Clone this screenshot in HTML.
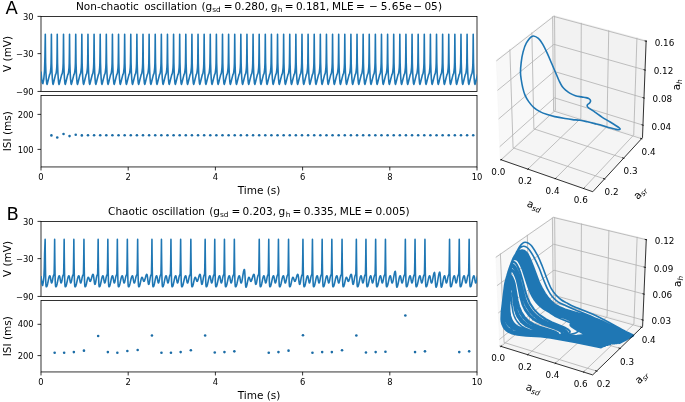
<!DOCTYPE html>
<html><head><meta charset="utf-8"><title>Figure</title>
<style>html,body{margin:0;padding:0;background:#fff}svg{display:block}</style></head>
<body>
<svg width="685" height="402" viewBox="0 0 685 402">
<rect width="685" height="402" fill="#fff"/>
<rect x="41" y="16.4" width="436" height="75.05" fill="none" stroke="#000" stroke-width="0.8"/>
<path d="M41 16.4 h-3.5" stroke="#000" stroke-width="0.8"/>
<text x="33.7" y="19.5" font-size="8.4" text-anchor="end" font-family="DejaVu Sans, Liberation Sans, sans-serif">30</text>
<path d="M41 53.63 h-3.5" stroke="#000" stroke-width="0.8"/>
<text x="33.7" y="56.73" font-size="8.4" text-anchor="end" font-family="DejaVu Sans, Liberation Sans, sans-serif">−30</text>
<path d="M41 91.45 h-3.5" stroke="#000" stroke-width="0.8"/>
<text x="33.7" y="94.55" font-size="8.4" text-anchor="end" font-family="DejaVu Sans, Liberation Sans, sans-serif">−90</text>
<text transform="translate(10.9 53.92) rotate(-90)" font-size="10.5" text-anchor="middle" font-family="DejaVu Sans, Liberation Sans, sans-serif">V (mV)</text>
<rect x="41" y="95.5" width="436" height="71.45" fill="none" stroke="#000" stroke-width="0.8"/>
<path d="M41 114.4 h-3.5" stroke="#000" stroke-width="0.8"/>
<text x="33.7" y="117.5" font-size="8.4" text-anchor="end" font-family="DejaVu Sans, Liberation Sans, sans-serif">200</text>
<path d="M41 149.4 h-3.5" stroke="#000" stroke-width="0.8"/>
<text x="33.7" y="152.5" font-size="8.4" text-anchor="end" font-family="DejaVu Sans, Liberation Sans, sans-serif">100</text>
<path d="M41 166.95 v3.5" stroke="#000" stroke-width="0.8"/>
<text x="41" y="180.15" font-size="8.4" text-anchor="middle" font-family="DejaVu Sans, Liberation Sans, sans-serif">0</text>
<path d="M128.2 166.95 v3.5" stroke="#000" stroke-width="0.8"/>
<text x="128.2" y="180.15" font-size="8.4" text-anchor="middle" font-family="DejaVu Sans, Liberation Sans, sans-serif">2</text>
<path d="M215.4 166.95 v3.5" stroke="#000" stroke-width="0.8"/>
<text x="215.4" y="180.15" font-size="8.4" text-anchor="middle" font-family="DejaVu Sans, Liberation Sans, sans-serif">4</text>
<path d="M302.6 166.95 v3.5" stroke="#000" stroke-width="0.8"/>
<text x="302.6" y="180.15" font-size="8.4" text-anchor="middle" font-family="DejaVu Sans, Liberation Sans, sans-serif">6</text>
<path d="M389.8 166.95 v3.5" stroke="#000" stroke-width="0.8"/>
<text x="389.8" y="180.15" font-size="8.4" text-anchor="middle" font-family="DejaVu Sans, Liberation Sans, sans-serif">8</text>
<path d="M477 166.95 v3.5" stroke="#000" stroke-width="0.8"/>
<text x="477" y="180.15" font-size="8.4" text-anchor="middle" font-family="DejaVu Sans, Liberation Sans, sans-serif">10</text>
<text transform="translate(10.9 131.22) rotate(-90)" font-size="10.5" text-anchor="middle" font-family="DejaVu Sans, Liberation Sans, sans-serif">ISI (ms)</text>
<text x="259" y="193.95" font-size="10.5" text-anchor="middle" font-family="DejaVu Sans, Liberation Sans, sans-serif">Time (s)</text>
<rect x="41" y="221.4" width="436" height="75.05" fill="none" stroke="#000" stroke-width="0.8"/>
<path d="M41 221.4 h-3.5" stroke="#000" stroke-width="0.8"/>
<text x="33.7" y="224.5" font-size="8.4" text-anchor="end" font-family="DejaVu Sans, Liberation Sans, sans-serif">30</text>
<path d="M41 258.62 h-3.5" stroke="#000" stroke-width="0.8"/>
<text x="33.7" y="261.73" font-size="8.4" text-anchor="end" font-family="DejaVu Sans, Liberation Sans, sans-serif">−30</text>
<path d="M41 296.45 h-3.5" stroke="#000" stroke-width="0.8"/>
<text x="33.7" y="299.55" font-size="8.4" text-anchor="end" font-family="DejaVu Sans, Liberation Sans, sans-serif">−90</text>
<text transform="translate(10.9 258.93) rotate(-90)" font-size="10.5" text-anchor="middle" font-family="DejaVu Sans, Liberation Sans, sans-serif">V (mV)</text>
<rect x="41" y="300.5" width="436" height="71.45" fill="none" stroke="#000" stroke-width="0.8"/>
<path d="M41 324.3 h-3.5" stroke="#000" stroke-width="0.8"/>
<text x="33.7" y="327.4" font-size="8.4" text-anchor="end" font-family="DejaVu Sans, Liberation Sans, sans-serif">400</text>
<path d="M41 355.6 h-3.5" stroke="#000" stroke-width="0.8"/>
<text x="33.7" y="358.7" font-size="8.4" text-anchor="end" font-family="DejaVu Sans, Liberation Sans, sans-serif">200</text>
<path d="M41 371.95 v3.5" stroke="#000" stroke-width="0.8"/>
<text x="41" y="385.15" font-size="8.4" text-anchor="middle" font-family="DejaVu Sans, Liberation Sans, sans-serif">0</text>
<path d="M128.2 371.95 v3.5" stroke="#000" stroke-width="0.8"/>
<text x="128.2" y="385.15" font-size="8.4" text-anchor="middle" font-family="DejaVu Sans, Liberation Sans, sans-serif">2</text>
<path d="M215.4 371.95 v3.5" stroke="#000" stroke-width="0.8"/>
<text x="215.4" y="385.15" font-size="8.4" text-anchor="middle" font-family="DejaVu Sans, Liberation Sans, sans-serif">4</text>
<path d="M302.6 371.95 v3.5" stroke="#000" stroke-width="0.8"/>
<text x="302.6" y="385.15" font-size="8.4" text-anchor="middle" font-family="DejaVu Sans, Liberation Sans, sans-serif">6</text>
<path d="M389.8 371.95 v3.5" stroke="#000" stroke-width="0.8"/>
<text x="389.8" y="385.15" font-size="8.4" text-anchor="middle" font-family="DejaVu Sans, Liberation Sans, sans-serif">8</text>
<path d="M477 371.95 v3.5" stroke="#000" stroke-width="0.8"/>
<text x="477" y="385.15" font-size="8.4" text-anchor="middle" font-family="DejaVu Sans, Liberation Sans, sans-serif">10</text>
<text transform="translate(10.9 336.23) rotate(-90)" font-size="10.5" text-anchor="middle" font-family="DejaVu Sans, Liberation Sans, sans-serif">ISI (ms)</text>
<text x="259" y="398.95" font-size="10.5" text-anchor="middle" font-family="DejaVu Sans, Liberation Sans, sans-serif">Time (s)</text>
<text x="5.6" y="14.4" font-size="18" font-family="DejaVu Sans, Liberation Sans, sans-serif">A</text>
<text x="6.4" y="219.8" font-size="18" font-family="DejaVu Sans, Liberation Sans, sans-serif">B</text>
<text font-size="10.5" font-family="DejaVu Sans, Liberation Sans, sans-serif"><tspan x="76" y="10.3" font-size="10.5">Non-chaotic</tspan><tspan x="144.2" y="10.3" font-size="10.5">oscillation</tspan><tspan x="201.4" y="10.3" font-size="10.5">(</tspan><tspan x="205.57" y="10.3" font-size="10.5">g</tspan><tspan x="212.2" y="11.75" font-size="7.35">sd</tspan><tspan x="223.69" y="10.3" font-size="10.5">=</tspan><tspan x="234.61" y="10.3" font-size="10.5">0.280,</tspan><tspan x="270.82" y="10.3" font-size="10.5">g</tspan><tspan x="277.85" y="11.75" font-size="7.35">h</tspan><tspan x="284.69" y="10.3" font-size="10.5">=</tspan><tspan x="295.91" y="10.3" font-size="10.5">0.181,</tspan><tspan x="332.07" y="10.3" font-size="10.5">MLE</tspan><tspan x="355.89" y="10.3" font-size="10.5">=</tspan><tspan x="369" y="10.3" font-size="10.5">−</tspan><tspan x="380.8" y="10.3" font-size="10.5">5</tspan><tspan x="387.7" y="10.3" font-size="10.5">.</tspan><tspan x="391.7" y="10.3" font-size="10.5">6</tspan><tspan x="398.7" y="10.3" font-size="10.5">5</tspan><tspan x="405.15" y="10.3" font-size="10.5">e</tspan><tspan x="413.2" y="10.3" font-size="10.5">−</tspan><tspan x="424.4" y="10.3" font-size="10.5">0</tspan><tspan x="430.9" y="10.3" font-size="10.5">5</tspan><tspan x="438.1" y="10.3" font-size="10.5">)</tspan></text>
<text font-size="10.5" font-family="DejaVu Sans, Liberation Sans, sans-serif"><tspan x="108.1" y="215.15" font-size="10.5">Chaotic</tspan><tspan x="152" y="215.15" font-size="10.5">oscillation</tspan><tspan x="209.2" y="215.15" font-size="10.5">(</tspan><tspan x="213.37" y="215.15" font-size="10.5">g</tspan><tspan x="220" y="216.6" font-size="7.35">sd</tspan><tspan x="231.49" y="215.15" font-size="10.5">=</tspan><tspan x="242.61" y="215.15" font-size="10.5">0.203,</tspan><tspan x="278.62" y="215.15" font-size="10.5">g</tspan><tspan x="285.65" y="216.6" font-size="7.35">h</tspan><tspan x="292.49" y="215.15" font-size="10.5">=</tspan><tspan x="303.71" y="215.15" font-size="10.5">0.335,</tspan><tspan x="339.87" y="215.15" font-size="10.5">MLE</tspan><tspan x="363.99" y="215.15" font-size="10.5">=</tspan><tspan x="375.51" y="215.15" font-size="10.5">0.005)</tspan></text>
<clipPath id="cA1"><rect x="41" y="16.4" width="436" height="75.05"/></clipPath>
<clipPath id="cA2"><rect x="41" y="95.5" width="436" height="71.45"/></clipPath>
<clipPath id="cB1"><rect x="41" y="221.4" width="436" height="75.05"/></clipPath>
<clipPath id="cB2"><rect x="41" y="300.5" width="436" height="71.45"/></clipPath>
<path clip-path="url(#cA1)" d="M41 71.5 L41.6 78 L42.2 82.5 L42.9 83.7 L43.8 79 L44.5 71 L44.95 56 L45.3 34.3 L45.45 50 L45.6 63 L45.9 72 L46.3 79 L46.7 83.2 L47.05 84.4 L47.44 83.2 L48.29 79.8 L49.09 76.6 L49.69 74.3 L49.99 74.2 L50.29 72.8 L50.59 70.5 L50.89 67.5 L51.09 63 L51.25 52 L51.4 34.3 L51.55 50 L51.69 63 L51.98 72 L52.36 79 L52.74 83.2 L53.07 84.4 L53.46 83.2 L54.27 79.8 L55.03 76.6 L55.61 74.3 L55.89 74.2 L56.18 72.8 L56.47 70.5 L56.75 67.5 L56.94 63 L57.1 52 L57.25 34.3 L57.4 50 L57.55 63 L57.86 72 L58.27 79 L58.68 83.2 L59.04 84.4 L59.45 83.2 L60.32 79.8 L61.15 76.6 L61.76 74.3 L62.07 74.2 L62.38 72.8 L62.69 70.5 L62.99 67.5 L63.2 63 L63.36 52 L63.52 34.3 L63.67 50 L63.82 63 L64.11 72 L64.51 79 L64.9 83.2 L65.25 84.4 L65.64 83.2 L66.47 79.8 L67.26 76.6 L67.85 74.3 L68.15 74.2 L68.44 72.8 L68.74 70.5 L69.03 67.5 L69.23 63 L69.39 52 L69.54 34.3 L69.69 50 L69.84 63 L70.15 72 L70.55 79 L70.96 83.2 L71.31 84.4 L71.72 83.2 L72.58 79.8 L73.39 76.6 L73.99 74.3 L74.3 74.2 L74.6 72.8 L74.9 70.5 L75.21 67.5 L75.41 63 L75.57 52 L75.73 34.3 L75.88 50 L76.03 63 L76.33 72 L76.73 79 L77.13 83.2 L77.48 84.4 L77.88 83.2 L78.73 79.8 L79.52 76.6 L80.12 74.3 L80.42 74.2 L80.72 72.8 L81.02 70.5 L81.32 67.5 L81.52 63 L81.68 52 L81.84 34.3 L81.99 50 L82.14 63 L82.44 72 L82.84 79 L83.24 83.2 L83.59 84.4 L83.99 83.2 L84.84 79.8 L85.64 76.6 L86.25 74.3 L86.55 74.2 L86.85 72.8 L87.15 70.5 L87.45 67.5 L87.65 63 L87.81 52 L87.97 34.3 L88.12 50 L88.27 63 L88.57 72 L88.97 79 L89.37 83.2 L89.72 84.4 L90.12 83.2 L90.97 79.8 L91.77 76.6 L92.37 74.3 L92.67 74.2 L92.97 72.8 L93.27 70.5 L93.57 67.5 L93.77 63 L93.93 52 L94.08 34.3 L94.23 50 L94.38 63 L94.68 72 L95.08 79 L95.48 83.2 L95.83 84.4 L96.23 83.2 L97.08 79.8 L97.88 76.6 L98.48 74.3 L98.78 74.2 L99.08 72.8 L99.38 70.5 L99.68 67.5 L99.88 63 L100.04 52 L100.2 34.3 L100.35 50 L100.5 63 L100.8 72 L101.2 79 L101.6 83.2 L101.95 84.4 L102.35 83.2 L103.2 79.8 L104 76.6 L104.6 74.3 L104.9 74.2 L105.2 72.8 L105.5 70.5 L105.8 67.5 L106 63 L106.16 52 L106.31 34.3 L106.46 50 L106.61 63 L106.91 72 L107.31 79 L107.71 83.2 L108.06 84.4 L108.46 83.2 L109.31 79.8 L110.11 76.6 L110.71 74.3 L111.01 74.2 L111.31 72.8 L111.61 70.5 L111.91 67.5 L112.11 63 L112.27 52 L112.43 34.3 L112.58 50 L112.73 63 L113.03 72 L113.43 79 L113.83 83.2 L114.18 84.4 L114.58 83.2 L115.43 79.8 L116.23 76.6 L116.83 74.3 L117.13 74.2 L117.43 72.8 L117.73 70.5 L118.03 67.5 L118.23 63 L118.39 52 L118.54 34.3 L118.69 50 L118.84 63 L119.14 72 L119.54 79 L119.94 83.2 L120.29 84.4 L120.69 83.2 L121.54 79.8 L122.34 76.6 L122.94 74.3 L123.24 74.2 L123.54 72.8 L123.84 70.5 L124.14 67.5 L124.34 63 L124.5 52 L124.66 34.3 L124.81 50 L124.96 63 L125.26 72 L125.66 79 L126.06 83.2 L126.41 84.4 L126.81 83.2 L127.66 79.8 L128.46 76.6 L129.06 74.3 L129.36 74.2 L129.66 72.8 L129.96 70.5 L130.26 67.5 L130.46 63 L130.62 52 L130.77 34.3 L130.92 50 L131.07 63 L131.37 72 L131.77 79 L132.17 83.2 L132.52 84.4 L132.92 83.2 L133.77 79.8 L134.57 76.6 L135.17 74.3 L135.47 74.2 L135.77 72.8 L136.07 70.5 L136.37 67.5 L136.57 63 L136.73 52 L136.89 34.3 L137.04 50 L137.19 63 L137.49 72 L137.89 79 L138.29 83.2 L138.64 84.4 L139.04 83.2 L139.89 79.8 L140.69 76.6 L141.29 74.3 L141.59 74.2 L141.89 72.8 L142.19 70.5 L142.49 67.5 L142.69 63 L142.85 52 L143 34.3 L143.15 50 L143.3 63 L143.6 72 L144 79 L144.4 83.2 L144.75 84.4 L145.15 83.2 L146 79.8 L146.8 76.6 L147.4 74.3 L147.7 74.2 L148 72.8 L148.3 70.5 L148.6 67.5 L148.8 63 L148.96 52 L149.12 34.3 L149.27 50 L149.42 63 L149.72 72 L150.12 79 L150.52 83.2 L150.87 84.4 L151.27 83.2 L152.12 79.8 L152.92 76.6 L153.52 74.3 L153.82 74.2 L154.12 72.8 L154.42 70.5 L154.72 67.5 L154.92 63 L155.08 52 L155.23 34.3 L155.38 50 L155.53 63 L155.83 72 L156.23 79 L156.63 83.2 L156.98 84.4 L157.38 83.2 L158.23 79.8 L159.03 76.6 L159.63 74.3 L159.93 74.2 L160.23 72.8 L160.53 70.5 L160.83 67.5 L161.03 63 L161.19 52 L161.35 34.3 L161.5 50 L161.65 63 L161.95 72 L162.35 79 L162.75 83.2 L163.1 84.4 L163.5 83.2 L164.35 79.8 L165.15 76.6 L165.75 74.3 L166.05 74.2 L166.35 72.8 L166.65 70.5 L166.94 67.5 L167.14 63 L167.3 52 L167.46 34.3 L167.61 50 L167.76 63 L168.06 72 L168.46 79 L168.86 83.2 L169.21 84.4 L169.61 83.2 L170.46 79.8 L171.26 76.6 L171.86 74.3 L172.16 74.2 L172.46 72.8 L172.76 70.5 L173.06 67.5 L173.26 63 L173.42 52 L173.58 34.3 L173.73 50 L173.88 63 L174.18 72 L174.58 79 L174.98 83.2 L175.33 84.4 L175.73 83.2 L176.58 79.8 L177.38 76.6 L177.98 74.3 L178.28 74.2 L178.57 72.8 L178.87 70.5 L179.17 67.5 L179.37 63 L179.53 52 L179.69 34.3 L179.84 50 L179.99 63 L180.29 72 L180.69 79 L181.09 83.2 L181.44 84.4 L181.84 83.2 L182.69 79.8 L183.49 76.6 L184.09 74.3 L184.39 74.2 L184.69 72.8 L184.99 70.5 L185.29 67.5 L185.49 63 L185.65 52 L185.81 34.3 L185.96 50 L186.11 63 L186.41 72 L186.81 79 L187.21 83.2 L187.56 84.4 L187.96 83.2 L188.81 79.8 L189.61 76.6 L190.2 74.3 L190.5 74.2 L190.8 72.8 L191.1 70.5 L191.4 67.5 L191.6 63 L191.76 52 L191.92 34.3 L192.07 50 L192.22 63 L192.52 72 L192.92 79 L193.32 83.2 L193.67 84.4 L194.07 83.2 L194.92 79.8 L195.72 76.6 L196.32 74.3 L196.62 74.2 L196.92 72.8 L197.22 70.5 L197.52 67.5 L197.72 63 L197.88 52 L198.04 34.3 L198.19 50 L198.34 63 L198.64 72 L199.04 79 L199.44 83.2 L199.79 84.4 L200.19 83.2 L201.04 79.8 L201.83 76.6 L202.43 74.3 L202.73 74.2 L203.03 72.8 L203.33 70.5 L203.63 67.5 L203.83 63 L203.99 52 L204.15 34.3 L204.3 50 L204.45 63 L204.75 72 L205.15 79 L205.55 83.2 L205.9 84.4 L206.3 83.2 L207.15 79.8 L207.95 76.6 L208.55 74.3 L208.85 74.2 L209.15 72.8 L209.45 70.5 L209.75 67.5 L209.95 63 L210.11 52 L210.27 34.3 L210.42 50 L210.57 63 L210.87 72 L211.27 79 L211.67 83.2 L212.02 84.4 L212.42 83.2 L213.27 79.8 L214.06 76.6 L214.66 74.3 L214.96 74.2 L215.26 72.8 L215.56 70.5 L215.86 67.5 L216.06 63 L216.22 52 L216.38 34.3 L216.53 50 L216.68 63 L216.98 72 L217.38 79 L217.78 83.2 L218.13 84.4 L218.53 83.2 L219.38 79.8 L220.18 76.6 L220.78 74.3 L221.08 74.2 L221.38 72.8 L221.68 70.5 L221.98 67.5 L222.18 63 L222.34 52 L222.5 34.3 L222.65 50 L222.8 63 L223.1 72 L223.5 79 L223.9 83.2 L224.25 84.4 L224.65 83.2 L225.49 79.8 L226.29 76.6 L226.89 74.3 L227.19 74.2 L227.49 72.8 L227.79 70.5 L228.09 67.5 L228.29 63 L228.45 52 L228.61 34.3 L228.76 50 L228.91 63 L229.21 72 L229.61 79 L230.01 83.2 L230.36 84.4 L230.76 83.2 L231.61 79.8 L232.41 76.6 L233.01 74.3 L233.31 74.2 L233.61 72.8 L233.91 70.5 L234.21 67.5 L234.41 63 L234.57 52 L234.73 34.3 L234.88 50 L235.03 63 L235.33 72 L235.73 79 L236.13 83.2 L236.48 84.4 L236.87 83.2 L237.72 79.8 L238.52 76.6 L239.12 74.3 L239.42 74.2 L239.72 72.8 L240.02 70.5 L240.32 67.5 L240.52 63 L240.68 52 L240.84 34.3 L240.99 50 L241.14 63 L241.44 72 L241.84 79 L242.24 83.2 L242.59 84.4 L242.99 83.2 L243.84 79.8 L244.64 76.6 L245.24 74.3 L245.54 74.2 L245.84 72.8 L246.14 70.5 L246.44 67.5 L246.64 63 L246.8 52 L246.96 34.3 L247.11 50 L247.26 63 L247.56 72 L247.96 79 L248.36 83.2 L248.7 84.4 L249.1 83.2 L249.95 79.8 L250.75 76.6 L251.35 74.3 L251.65 74.2 L251.95 72.8 L252.25 70.5 L252.55 67.5 L252.75 63 L252.91 52 L253.07 34.3 L253.22 50 L253.37 63 L253.67 72 L254.07 79 L254.47 83.2 L254.82 84.4 L255.22 83.2 L256.07 79.8 L256.87 76.6 L257.47 74.3 L257.77 74.2 L258.07 72.8 L258.37 70.5 L258.67 67.5 L258.87 63 L259.03 52 L259.19 34.3 L259.34 50 L259.49 63 L259.79 72 L260.18 79 L260.58 83.2 L260.93 84.4 L261.33 83.2 L262.18 79.8 L262.98 76.6 L263.58 74.3 L263.88 74.2 L264.18 72.8 L264.48 70.5 L264.78 67.5 L264.98 63 L265.14 52 L265.3 34.3 L265.45 50 L265.6 63 L265.9 72 L266.3 79 L266.7 83.2 L267.05 84.4 L267.45 83.2 L268.3 79.8 L269.1 76.6 L269.7 74.3 L270 74.2 L270.3 72.8 L270.6 70.5 L270.9 67.5 L271.1 63 L271.26 52 L271.42 34.3 L271.57 50 L271.71 63 L272.01 72 L272.41 79 L272.81 83.2 L273.16 84.4 L273.56 83.2 L274.41 79.8 L275.21 76.6 L275.81 74.3 L276.11 74.2 L276.41 72.8 L276.71 70.5 L277.01 67.5 L277.21 63 L277.37 52 L277.53 34.3 L277.68 50 L277.83 63 L278.13 72 L278.53 79 L278.93 83.2 L279.28 84.4 L279.68 83.2 L280.53 79.8 L281.33 76.6 L281.93 74.3 L282.23 74.2 L282.53 72.8 L282.83 70.5 L283.13 67.5 L283.33 63 L283.49 52 L283.64 34.3 L283.79 50 L283.94 63 L284.24 72 L284.64 79 L285.04 83.2 L285.39 84.4 L285.79 83.2 L286.64 79.8 L287.44 76.6 L288.04 74.3 L288.34 74.2 L288.64 72.8 L288.94 70.5 L289.24 67.5 L289.44 63 L289.6 52 L289.76 34.3 L289.91 50 L290.06 63 L290.36 72 L290.76 79 L291.16 83.2 L291.51 84.4 L291.91 83.2 L292.76 79.8 L293.56 76.6 L294.16 74.3 L294.46 74.2 L294.76 72.8 L295.06 70.5 L295.36 67.5 L295.56 63 L295.72 52 L295.87 34.3 L296.02 50 L296.17 63 L296.47 72 L296.87 79 L297.27 83.2 L297.62 84.4 L298.02 83.2 L298.87 79.8 L299.67 76.6 L300.27 74.3 L300.57 74.2 L300.87 72.8 L301.17 70.5 L301.47 67.5 L301.67 63 L301.83 52 L301.99 34.3 L302.14 50 L302.29 63 L302.59 72 L302.99 79 L303.39 83.2 L303.74 84.4 L304.14 83.2 L304.99 79.8 L305.79 76.6 L306.39 74.3 L306.69 74.2 L306.99 72.8 L307.29 70.5 L307.59 67.5 L307.79 63 L307.95 52 L308.1 34.3 L308.25 50 L308.4 63 L308.7 72 L309.1 79 L309.5 83.2 L309.85 84.4 L310.25 83.2 L311.1 79.8 L311.9 76.6 L312.5 74.3 L312.8 74.2 L313.1 72.8 L313.4 70.5 L313.7 67.5 L313.9 63 L314.06 52 L314.22 34.3 L314.37 50 L314.52 63 L314.82 72 L315.22 79 L315.62 83.2 L315.97 84.4 L316.37 83.2 L317.22 79.8 L318.02 76.6 L318.62 74.3 L318.92 74.2 L319.22 72.8 L319.52 70.5 L319.82 67.5 L320.02 63 L320.18 52 L320.33 34.3 L320.48 50 L320.63 63 L320.93 72 L321.33 79 L321.73 83.2 L322.08 84.4 L322.48 83.2 L323.33 79.8 L324.13 76.6 L324.73 74.3 L325.03 74.2 L325.33 72.8 L325.63 70.5 L325.93 67.5 L326.13 63 L326.29 52 L326.45 34.3 L326.6 50 L326.75 63 L327.05 72 L327.45 79 L327.85 83.2 L328.2 84.4 L328.6 83.2 L329.45 79.8 L330.25 76.6 L330.85 74.3 L331.15 74.2 L331.45 72.8 L331.75 70.5 L332.05 67.5 L332.25 63 L332.41 52 L332.56 34.3 L332.71 50 L332.86 63 L333.16 72 L333.56 79 L333.96 83.2 L334.31 84.4 L334.71 83.2 L335.56 79.8 L336.36 76.6 L336.96 74.3 L337.26 74.2 L337.56 72.8 L337.86 70.5 L338.16 67.5 L338.36 63 L338.52 52 L338.68 34.3 L338.83 50 L338.98 63 L339.28 72 L339.68 79 L340.08 83.2 L340.43 84.4 L340.83 83.2 L341.68 79.8 L342.48 76.6 L343.08 74.3 L343.38 74.2 L343.68 72.8 L343.98 70.5 L344.28 67.5 L344.48 63 L344.64 52 L344.79 34.3 L344.94 50 L345.09 63 L345.39 72 L345.79 79 L346.19 83.2 L346.54 84.4 L346.94 83.2 L347.79 79.8 L348.59 76.6 L349.19 74.3 L349.49 74.2 L349.79 72.8 L350.09 70.5 L350.39 67.5 L350.59 63 L350.75 52 L350.91 34.3 L351.06 50 L351.21 63 L351.51 72 L351.91 79 L352.31 83.2 L352.66 84.4 L353.06 83.2 L353.91 79.8 L354.71 76.6 L355.31 74.3 L355.61 74.2 L355.91 72.8 L356.21 70.5 L356.51 67.5 L356.71 63 L356.87 52 L357.02 34.3 L357.17 50 L357.32 63 L357.62 72 L358.02 79 L358.42 83.2 L358.77 84.4 L359.17 83.2 L360.02 79.8 L360.82 76.6 L361.42 74.3 L361.72 74.2 L362.02 72.8 L362.32 70.5 L362.62 67.5 L362.82 63 L362.98 52 L363.14 34.3 L363.29 50 L363.44 63 L363.74 72 L364.14 79 L364.54 83.2 L364.89 84.4 L365.29 83.2 L366.14 79.8 L366.94 76.6 L367.54 74.3 L367.84 74.2 L368.14 72.8 L368.44 70.5 L368.74 67.5 L368.94 63 L369.1 52 L369.25 34.3 L369.4 50 L369.55 63 L369.85 72 L370.25 79 L370.65 83.2 L371 84.4 L371.4 83.2 L372.25 79.8 L373.05 76.6 L373.65 74.3 L373.95 74.2 L374.25 72.8 L374.55 70.5 L374.85 67.5 L375.05 63 L375.21 52 L375.37 34.3 L375.52 50 L375.67 63 L375.97 72 L376.37 79 L376.77 83.2 L377.12 84.4 L377.52 83.2 L378.37 79.8 L379.17 76.6 L379.77 74.3 L380.07 74.2 L380.37 72.8 L380.67 70.5 L380.97 67.5 L381.17 63 L381.33 52 L381.48 34.3 L381.63 50 L381.78 63 L382.08 72 L382.48 79 L382.88 83.2 L383.23 84.4 L383.63 83.2 L384.48 79.8 L385.28 76.6 L385.88 74.3 L386.18 74.2 L386.48 72.8 L386.78 70.5 L387.08 67.5 L387.28 63 L387.44 52 L387.6 34.3 L387.75 50 L387.9 63 L388.2 72 L388.6 79 L389 83.2 L389.35 84.4 L389.75 83.2 L390.6 79.8 L391.4 76.6 L392 74.3 L392.3 74.2 L392.6 72.8 L392.9 70.5 L393.2 67.5 L393.4 63 L393.56 52 L393.71 34.3 L393.86 50 L394.01 63 L394.31 72 L394.71 79 L395.11 83.2 L395.46 84.4 L395.86 83.2 L396.71 79.8 L397.51 76.6 L398.11 74.3 L398.41 74.2 L398.71 72.8 L399.01 70.5 L399.31 67.5 L399.51 63 L399.67 52 L399.83 34.3 L399.98 50 L400.13 63 L400.43 72 L400.83 79 L401.23 83.2 L401.58 84.4 L401.98 83.2 L402.83 79.8 L403.63 76.6 L404.23 74.3 L404.53 74.2 L404.83 72.8 L405.13 70.5 L405.43 67.5 L405.63 63 L405.79 52 L405.94 34.3 L406.09 50 L406.24 63 L406.54 72 L406.94 79 L407.34 83.2 L407.69 84.4 L408.09 83.2 L408.94 79.8 L409.74 76.6 L410.34 74.3 L410.64 74.2 L410.94 72.8 L411.24 70.5 L411.54 67.5 L411.74 63 L411.9 52 L412.06 34.3 L412.21 50 L412.36 63 L412.66 72 L413.06 79 L413.46 83.2 L413.81 84.4 L414.21 83.2 L415.06 79.8 L415.86 76.6 L416.46 74.3 L416.76 74.2 L417.06 72.8 L417.36 70.5 L417.66 67.5 L417.86 63 L418.02 52 L418.17 34.3 L418.32 50 L418.47 63 L418.77 72 L419.17 79 L419.57 83.2 L419.92 84.4 L420.32 83.2 L421.17 79.8 L421.97 76.6 L422.57 74.3 L422.87 74.2 L423.17 72.8 L423.47 70.5 L423.77 67.5 L423.97 63 L424.13 52 L424.29 34.3 L424.44 50 L424.59 63 L424.89 72 L425.29 79 L425.69 83.2 L426.04 84.4 L426.44 83.2 L427.29 79.8 L428.09 76.6 L428.69 74.3 L428.99 74.2 L429.29 72.8 L429.59 70.5 L429.89 67.5 L430.09 63 L430.25 52 L430.4 34.3 L430.55 50 L430.7 63 L431 72 L431.4 79 L431.8 83.2 L432.15 84.4 L432.55 83.2 L433.4 79.8 L434.2 76.6 L434.8 74.3 L435.1 74.2 L435.4 72.8 L435.7 70.5 L436 67.5 L436.2 63 L436.36 52 L436.52 34.3 L436.67 50 L436.82 63 L437.12 72 L437.52 79 L437.92 83.2 L438.27 84.4 L438.67 83.2 L439.52 79.8 L440.32 76.6 L440.92 74.3 L441.22 74.2 L441.52 72.8 L441.82 70.5 L442.12 67.5 L442.32 63 L442.48 52 L442.63 34.3 L442.78 50 L442.93 63 L443.23 72 L443.63 79 L444.03 83.2 L444.38 84.4 L444.78 83.2 L445.63 79.8 L446.43 76.6 L447.03 74.3 L447.33 74.2 L447.63 72.8 L447.93 70.5 L448.23 67.5 L448.43 63 L448.59 52 L448.75 34.3 L448.9 50 L449.05 63 L449.35 72 L449.75 79 L450.15 83.2 L450.5 84.4 L450.9 83.2 L451.75 79.8 L452.55 76.6 L453.15 74.3 L453.45 74.2 L453.75 72.8 L454.05 70.5 L454.35 67.5 L454.55 63 L454.71 52 L454.86 34.3 L455.01 50 L455.16 63 L455.46 72 L455.86 79 L456.26 83.2 L456.61 84.4 L457.01 83.2 L457.86 79.8 L458.66 76.6 L459.26 74.3 L459.56 74.2 L459.86 72.8 L460.16 70.5 L460.46 67.5 L460.66 63 L460.82 52 L460.98 34.3 L461.13 50 L461.28 63 L461.58 72 L461.98 79 L462.38 83.2 L462.73 84.4 L463.13 83.2 L463.98 79.8 L464.78 76.6 L465.38 74.3 L465.68 74.2 L465.98 72.8 L466.28 70.5 L466.58 67.5 L466.78 63 L466.93 52 L467.09 34.3 L467.24 50 L467.39 63 L467.69 72 L468.09 79 L468.49 83.2 L468.84 84.4 L469.24 83.2 L470.09 79.8 L470.89 76.6 L471.49 74.3 L471.79 74.2 L472.09 72.8 L472.39 70.5 L472.69 67.5 L472.89 63 L473.05 52 L473.21 34.3 L473.36 50 L473.51 63 L473.81 72 L474.21 79 L474.61 83.2 L474.96 84.4 L475.36 83.2 L476.21 79.8 L477.01 76.6 L477.61 74.3 L477.91 74.2 L478.21 72.8 L478.5 70.5 L478.8 67.5 L479 63 L479.16 52 L479.32 34.3 L479.47 50 L479.62 63 L479.92 72 L480.32 79 L480.72 83.2 L481.07 84.4 L481.47 83.2 L482.32 79.8 L483.12 76.6 L483.72 74.3 L484.02 74.2 L484.32 72.8 L484.62 70.5 L484.92 67.5 L485.12 63 L485.28 52 L485.44 34.3 L485.59 50 L485.74 63 L486.04 72 L486.44 79 L486.84 83.2 L487.19 84.4 L487.59 83.2 L488.44 79.8 L489.24 76.6 L489.84 74.3 L490.13 74.2 L490.43 72.8 L490.73 70.5 L491.03 67.5 L491.23 63 L491.39 52" fill="none" stroke="#1f77b4" stroke-width="1.6" stroke-linejoin="round"/>
<g clip-path="url(#cA2)" fill="#1b6ca6"><circle cx="51.4" cy="135.4" r="1.3"/><circle cx="57.25" cy="137.5" r="1.3"/><circle cx="63.52" cy="134" r="1.3"/><circle cx="69.54" cy="136.1" r="1.3"/><circle cx="75.73" cy="134.7" r="1.3"/><circle cx="81.84" cy="135.4" r="1.3"/><circle cx="87.97" cy="135.19" r="1.3"/><circle cx="94.08" cy="135.29" r="1.3"/><circle cx="100.2" cy="135.31" r="1.3"/><circle cx="106.31" cy="135.31" r="1.3"/><circle cx="112.43" cy="135.31" r="1.3"/><circle cx="118.54" cy="135.31" r="1.3"/><circle cx="124.66" cy="135.31" r="1.3"/><circle cx="130.77" cy="135.31" r="1.3"/><circle cx="136.89" cy="135.31" r="1.3"/><circle cx="143" cy="135.31" r="1.3"/><circle cx="149.12" cy="135.31" r="1.3"/><circle cx="155.23" cy="135.31" r="1.3"/><circle cx="161.35" cy="135.31" r="1.3"/><circle cx="167.46" cy="135.31" r="1.3"/><circle cx="173.58" cy="135.31" r="1.3"/><circle cx="179.69" cy="135.31" r="1.3"/><circle cx="185.81" cy="135.31" r="1.3"/><circle cx="191.92" cy="135.31" r="1.3"/><circle cx="198.04" cy="135.31" r="1.3"/><circle cx="204.15" cy="135.31" r="1.3"/><circle cx="210.27" cy="135.31" r="1.3"/><circle cx="216.38" cy="135.31" r="1.3"/><circle cx="222.5" cy="135.31" r="1.3"/><circle cx="228.61" cy="135.31" r="1.3"/><circle cx="234.73" cy="135.31" r="1.3"/><circle cx="240.84" cy="135.31" r="1.3"/><circle cx="246.96" cy="135.31" r="1.3"/><circle cx="253.07" cy="135.31" r="1.3"/><circle cx="259.19" cy="135.31" r="1.3"/><circle cx="265.3" cy="135.31" r="1.3"/><circle cx="271.42" cy="135.31" r="1.3"/><circle cx="277.53" cy="135.31" r="1.3"/><circle cx="283.64" cy="135.31" r="1.3"/><circle cx="289.76" cy="135.31" r="1.3"/><circle cx="295.87" cy="135.31" r="1.3"/><circle cx="301.99" cy="135.31" r="1.3"/><circle cx="308.1" cy="135.31" r="1.3"/><circle cx="314.22" cy="135.31" r="1.3"/><circle cx="320.33" cy="135.31" r="1.3"/><circle cx="326.45" cy="135.31" r="1.3"/><circle cx="332.56" cy="135.31" r="1.3"/><circle cx="338.68" cy="135.31" r="1.3"/><circle cx="344.79" cy="135.31" r="1.3"/><circle cx="350.91" cy="135.31" r="1.3"/><circle cx="357.02" cy="135.31" r="1.3"/><circle cx="363.14" cy="135.31" r="1.3"/><circle cx="369.25" cy="135.31" r="1.3"/><circle cx="375.37" cy="135.31" r="1.3"/><circle cx="381.48" cy="135.31" r="1.3"/><circle cx="387.6" cy="135.31" r="1.3"/><circle cx="393.71" cy="135.31" r="1.3"/><circle cx="399.83" cy="135.31" r="1.3"/><circle cx="405.94" cy="135.31" r="1.3"/><circle cx="412.06" cy="135.31" r="1.3"/><circle cx="418.17" cy="135.31" r="1.3"/><circle cx="424.29" cy="135.31" r="1.3"/><circle cx="430.4" cy="135.31" r="1.3"/><circle cx="436.52" cy="135.31" r="1.3"/><circle cx="442.63" cy="135.31" r="1.3"/><circle cx="448.75" cy="135.31" r="1.3"/><circle cx="454.86" cy="135.31" r="1.3"/><circle cx="460.98" cy="135.31" r="1.3"/><circle cx="467.09" cy="135.31" r="1.3"/><circle cx="473.21" cy="135.31" r="1.3"/></g>
<path clip-path="url(#cB1)" d="M41 276 L41.5 280 L42 284 L42.6 285.5 L43.3 282 L43.9 277 L44.3 268 L44.6 254 L45.15 239.4 L45.27 253.03 L45.4 264.35 L45.55 273.71 L45.75 281.37 L46 285.64 L46.25 286.73 L46.45 286.8 L46.69 286.66 L46.93 286.26 L47.17 285.6 L47.41 284.73 L47.65 283.69 L47.89 282.52 L48.12 281.3 L48.36 280.08 L48.6 278.91 L48.84 277.87 L49.08 277 L49.32 276.34 L49.56 275.94 L49.8 275.8 L50.03 276.07 L50.26 276.85 L50.49 278.02 L50.73 279.4 L50.96 280.78 L51.19 281.95 L51.42 282.73 L51.65 283 L51.88 282.76 L52.12 282.09 L52.35 281.05 L52.58 279.78 L52.82 278.42 L53.05 277.15 L53.28 276.11 L53.52 275.44 L53.75 275.2 L54.15 273.8 L54.38 262 L54.53 250 L54.65 239.4 L54.77 253.03 L54.9 264.35 L55.05 273.71 L55.25 281.37 L55.5 285.64 L55.75 286.73 L55.95 286.8 L56.19 286.66 L56.43 286.26 L56.67 285.6 L56.91 284.73 L57.15 283.69 L57.39 282.52 L57.62 281.3 L57.86 280.08 L58.1 278.91 L58.34 277.87 L58.58 277 L58.82 276.34 L59.06 275.94 L59.3 275.8 L59.53 276.07 L59.76 276.85 L59.99 278.02 L60.23 279.4 L60.46 280.78 L60.69 281.95 L60.92 282.73 L61.15 283 L61.38 282.76 L61.62 282.09 L61.85 281.05 L62.08 279.78 L62.32 278.42 L62.55 277.15 L62.78 276.11 L63.02 275.44 L63.25 275.2 L63.65 273.8 L63.88 262 L64.03 250 L64.15 239.4 L64.27 253.03 L64.4 264.35 L64.55 273.71 L64.75 281.37 L65 285.64 L65.25 286.73 L65.45 286.8 L65.7 286.66 L65.94 286.26 L66.19 285.6 L66.44 284.73 L66.68 283.69 L66.93 282.52 L67.17 281.3 L67.42 280.08 L67.67 278.91 L67.91 277.87 L68.16 277 L68.41 276.34 L68.65 275.94 L68.9 275.8 L69.13 276.07 L69.36 276.85 L69.59 278.02 L69.83 279.4 L70.06 280.78 L70.29 281.95 L70.52 282.73 L70.75 283 L70.99 282.76 L71.24 282.09 L71.48 281.05 L71.73 279.78 L71.97 278.42 L72.22 277.15 L72.46 276.11 L72.71 275.44 L72.95 275.2 L73.35 273.8 L73.58 262 L73.73 250 L73.85 239.4 L73.97 253.03 L74.1 264.35 L74.25 273.71 L74.45 281.37 L74.7 285.64 L74.95 286.73 L75.15 286.8 L75.39 286.68 L75.64 286.32 L75.88 285.75 L76.12 284.98 L76.37 284.05 L76.61 283 L76.85 281.87 L77.1 280.73 L77.34 279.6 L77.58 278.55 L77.83 277.62 L78.07 276.85 L78.31 276.28 L78.56 275.92 L78.8 275.8 L79.03 276.07 L79.26 276.85 L79.49 278.02 L79.72 279.4 L79.96 280.78 L80.19 281.95 L80.42 282.73 L80.65 283 L80.89 282.81 L81.13 282.26 L81.37 281.39 L81.61 280.31 L81.85 279.1 L82.09 277.89 L82.33 276.81 L82.57 275.94 L82.81 275.39 L83.05 275.2 L83.45 273.8 L83.68 262 L83.83 250 L83.95 239.4 L84.07 253.03 L84.2 264.35 L84.35 273.71 L84.55 281.37 L84.8 285.64 L85.05 286.73 L85.25 286.8 L85.49 286.66 L85.72 286.26 L85.96 285.61 L86.2 284.75 L86.44 283.73 L86.67 282.62 L86.91 281.48 L87.15 280.37 L87.38 279.35 L87.62 278.49 L87.86 277.84 L88.1 277.44 L88.33 277.3 L88.56 277.46 L88.8 277.9 L89.03 278.57 L89.26 279.35 L89.49 280.13 L89.72 280.8 L89.95 281.24 L90.18 281.4 L90.42 281.28 L90.66 280.92 L90.9 280.36 L91.14 279.62 L91.38 278.77 L91.62 277.85 L91.87 276.93 L92.11 276.07 L92.35 275.34 L92.59 274.78 L92.83 274.42 L93.07 274.3 L93.3 274.68 L93.53 275.78 L93.76 277.42 L93.99 279.35 L94.22 281.28 L94.45 282.92 L94.69 284.02 L94.92 284.4 L95.15 284.17 L95.38 283.52 L95.62 282.5 L95.85 281.22 L96.08 279.8 L96.32 278.38 L96.55 277.1 L96.78 276.08 L97.02 275.43 L97.25 275.2 L97.65 273.8 L97.88 262 L98.03 250 L98.15 239.4 L98.27 253.03 L98.4 264.35 L98.55 273.71 L98.75 281.37 L99 285.64 L99.25 286.73 L99.45 286.8 L99.7 286.66 L99.94 286.26 L100.19 285.6 L100.44 284.73 L100.68 283.69 L100.93 282.52 L101.17 281.3 L101.42 280.08 L101.67 278.91 L101.91 277.87 L102.16 277 L102.41 276.34 L102.65 275.94 L102.9 275.8 L103.13 276.07 L103.36 276.85 L103.59 278.02 L103.83 279.4 L104.06 280.78 L104.29 281.95 L104.52 282.73 L104.75 283 L104.99 282.76 L105.24 282.09 L105.48 281.05 L105.73 279.78 L105.97 278.42 L106.22 277.15 L106.46 276.11 L106.71 275.44 L106.95 275.2 L107.35 273.8 L107.58 262 L107.73 250 L107.85 239.4 L107.97 253.03 L108.1 264.35 L108.25 273.71 L108.45 281.37 L108.7 285.64 L108.95 286.73 L109.15 286.8 L109.39 286.66 L109.63 286.26 L109.87 285.6 L110.11 284.73 L110.35 283.69 L110.59 282.52 L110.82 281.3 L111.06 280.08 L111.3 278.91 L111.54 277.87 L111.78 277 L112.02 276.34 L112.26 275.94 L112.5 275.8 L112.73 276.07 L112.96 276.85 L113.19 278.02 L113.42 279.4 L113.66 280.78 L113.89 281.95 L114.12 282.73 L114.35 283 L114.58 282.76 L114.82 282.09 L115.05 281.05 L115.28 279.78 L115.52 278.42 L115.75 277.15 L115.98 276.11 L116.22 275.44 L116.45 275.2 L116.85 273.8 L117.08 262 L117.23 250 L117.35 239.4 L117.47 253.03 L117.6 264.35 L117.75 273.71 L117.95 281.37 L118.2 285.64 L118.45 286.73 L118.65 286.8 L118.89 286.68 L119.13 286.32 L119.37 285.75 L119.61 284.98 L119.85 284.05 L120.09 283 L120.33 281.87 L120.57 280.73 L120.81 279.6 L121.05 278.55 L121.29 277.62 L121.53 276.85 L121.77 276.28 L122.01 275.92 L122.25 275.8 L122.48 276.07 L122.71 276.85 L122.94 278.02 L123.17 279.4 L123.41 280.78 L123.64 281.95 L123.87 282.73 L124.1 283 L124.33 282.81 L124.57 282.26 L124.8 281.39 L125.04 280.31 L125.27 279.1 L125.51 277.89 L125.74 276.81 L125.98 275.94 L126.21 275.39 L126.45 275.2 L126.85 273.8 L127.08 262 L127.23 250 L127.35 239.4 L127.47 253.03 L127.6 264.35 L127.75 273.71 L127.95 281.37 L128.2 285.64 L128.45 286.73 L128.65 286.8 L128.88 286.69 L129.12 286.38 L129.35 285.87 L129.59 285.19 L129.82 284.36 L130.06 283.4 L130.29 282.37 L130.53 281.3 L130.76 280.23 L130.99 279.2 L131.23 278.24 L131.46 277.41 L131.7 276.73 L131.93 276.22 L132.17 275.91 L132.4 275.8 L132.63 276.07 L132.86 276.85 L133.09 278.02 L133.32 279.4 L133.56 280.78 L133.79 281.95 L134.02 282.73 L134.25 283 L134.48 282.84 L134.7 282.38 L134.93 281.65 L135.16 280.72 L135.39 279.66 L135.61 278.54 L135.84 277.48 L136.07 276.55 L136.3 275.82 L136.52 275.36 L136.75 275.2 L137.15 273.8 L137.38 262 L137.53 250 L137.65 239.4 L137.77 253.03 L137.9 264.35 L138.05 273.71 L138.25 281.37 L138.5 285.64 L138.75 286.73 L138.95 286.8 L139.19 286.66 L139.43 286.26 L139.67 285.61 L139.91 284.75 L140.15 283.73 L140.39 282.62 L140.63 281.48 L140.87 280.37 L141.11 279.35 L141.35 278.49 L141.59 277.84 L141.83 277.44 L142.07 277.3 L142.3 277.46 L142.53 277.9 L142.76 278.57 L142.99 279.35 L143.22 280.13 L143.45 280.8 L143.69 281.24 L143.92 281.4 L144.16 281.28 L144.4 280.92 L144.65 280.36 L144.89 279.62 L145.13 278.77 L145.38 277.85 L145.62 276.93 L145.86 276.07 L146.1 275.34 L146.35 274.78 L146.59 274.42 L146.83 274.3 L147.06 274.68 L147.3 275.78 L147.53 277.42 L147.76 279.35 L147.99 281.28 L148.22 282.92 L148.45 284.02 L148.68 284.4 L148.92 284.17 L149.16 283.52 L149.39 282.5 L149.63 281.22 L149.87 279.8 L150.1 278.38 L150.34 277.1 L150.58 276.08 L150.81 275.43 L151.05 275.2 L151.45 273.8 L151.68 262 L151.83 250 L151.95 239.4 L152.07 253.03 L152.2 264.35 L152.35 273.71 L152.55 281.37 L152.8 285.64 L153.05 286.73 L153.25 286.8 L153.49 286.66 L153.73 286.26 L153.97 285.6 L154.21 284.73 L154.45 283.69 L154.69 282.52 L154.92 281.3 L155.16 280.08 L155.4 278.91 L155.64 277.87 L155.88 277 L156.12 276.34 L156.36 275.94 L156.6 275.8 L156.83 276.07 L157.06 276.85 L157.29 278.02 L157.52 279.4 L157.76 280.78 L157.99 281.95 L158.22 282.73 L158.45 283 L158.68 282.76 L158.92 282.09 L159.15 281.05 L159.38 279.78 L159.62 278.42 L159.85 277.15 L160.08 276.11 L160.32 275.44 L160.55 275.2 L160.95 273.8 L161.18 262 L161.33 250 L161.45 239.4 L161.57 253.03 L161.7 264.35 L161.85 273.71 L162.05 281.37 L162.3 285.64 L162.55 286.73 L162.75 286.8 L162.99 286.66 L163.23 286.26 L163.47 285.6 L163.71 284.73 L163.95 283.69 L164.19 282.52 L164.42 281.3 L164.66 280.08 L164.9 278.91 L165.14 277.87 L165.38 277 L165.62 276.34 L165.86 275.94 L166.1 275.8 L166.33 276.07 L166.56 276.85 L166.79 278.02 L167.02 279.4 L167.26 280.78 L167.49 281.95 L167.72 282.73 L167.95 283 L168.18 282.76 L168.42 282.09 L168.65 281.05 L168.88 279.78 L169.12 278.42 L169.35 277.15 L169.58 276.11 L169.82 275.44 L170.05 275.2 L170.45 273.8 L170.68 262 L170.83 250 L170.95 239.4 L171.07 253.03 L171.2 264.35 L171.35 273.71 L171.55 281.37 L171.8 285.64 L172.05 286.73 L172.25 286.8 L172.5 286.66 L172.74 286.26 L172.99 285.6 L173.24 284.73 L173.48 283.69 L173.73 282.52 L173.97 281.3 L174.22 280.08 L174.47 278.91 L174.71 277.87 L174.96 277 L175.21 276.34 L175.45 275.94 L175.7 275.8 L175.93 276.07 L176.16 276.85 L176.39 278.02 L176.62 279.4 L176.86 280.78 L177.09 281.95 L177.32 282.73 L177.55 283 L177.79 282.76 L178.04 282.09 L178.28 281.05 L178.53 279.78 L178.77 278.42 L179.02 277.15 L179.26 276.11 L179.51 275.44 L179.75 275.2 L180.15 273.8 L180.38 262 L180.53 250 L180.65 239.4 L180.77 253.03 L180.9 264.35 L181.05 273.71 L181.25 281.37 L181.5 285.64 L181.75 286.73 L181.95 286.8 L182.2 286.68 L182.44 286.32 L182.69 285.75 L182.94 284.98 L183.18 284.05 L183.43 283 L183.68 281.87 L183.92 280.73 L184.17 279.6 L184.42 278.55 L184.66 277.62 L184.91 276.85 L185.16 276.28 L185.4 275.92 L185.65 275.8 L185.88 276.07 L186.11 276.85 L186.34 278.02 L186.57 279.4 L186.81 280.78 L187.04 281.95 L187.27 282.73 L187.5 283 L187.75 282.81 L187.99 282.26 L188.23 281.39 L188.48 280.31 L188.72 279.1 L188.97 277.89 L189.22 276.81 L189.46 275.94 L189.7 275.39 L189.95 275.2 L190.35 273.8 L190.58 262 L190.73 250 L190.85 239.4 L190.97 253.03 L191.1 264.35 L191.25 273.71 L191.45 281.37 L191.7 285.64 L191.95 286.73 L192.15 286.8 L192.39 286.66 L192.63 286.26 L192.87 285.61 L193.11 284.75 L193.35 283.73 L193.59 282.62 L193.83 281.48 L194.07 280.37 L194.31 279.35 L194.55 278.49 L194.79 277.84 L195.03 277.44 L195.27 277.3 L195.5 277.46 L195.73 277.9 L195.96 278.57 L196.19 279.35 L196.42 280.13 L196.65 280.8 L196.89 281.24 L197.12 281.4 L197.36 281.28 L197.6 280.92 L197.85 280.36 L198.09 279.62 L198.33 278.77 L198.57 277.85 L198.82 276.93 L199.06 276.07 L199.3 275.34 L199.55 274.78 L199.79 274.42 L200.03 274.3 L200.26 274.68 L200.5 275.78 L200.73 277.42 L200.96 279.35 L201.19 281.28 L201.42 282.92 L201.65 284.02 L201.88 284.4 L202.12 284.17 L202.36 283.52 L202.59 282.5 L202.83 281.22 L203.07 279.8 L203.3 278.38 L203.54 277.1 L203.78 276.08 L204.01 275.43 L204.25 275.2 L204.65 273.8 L204.88 262 L205.03 250 L205.15 239.4 L205.27 253.03 L205.4 264.35 L205.55 273.71 L205.75 281.37 L206 285.64 L206.25 286.73 L206.45 286.8 L206.69 286.66 L206.94 286.26 L207.18 285.6 L207.42 284.73 L207.66 283.69 L207.91 282.52 L208.15 281.3 L208.39 280.08 L208.64 278.91 L208.88 277.87 L209.12 277 L209.36 276.34 L209.61 275.94 L209.85 275.8 L210.08 276.07 L210.31 276.85 L210.54 278.02 L210.78 279.4 L211.01 280.78 L211.24 281.95 L211.47 282.73 L211.7 283 L211.94 282.76 L212.18 282.09 L212.42 281.05 L212.66 279.78 L212.89 278.42 L213.13 277.15 L213.37 276.11 L213.61 275.44 L213.85 275.2 L214.25 273.8 L214.48 262 L214.63 250 L214.75 239.4 L214.87 253.03 L215 264.35 L215.15 273.71 L215.35 281.37 L215.6 285.64 L215.85 286.73 L216.05 286.8 L216.3 286.66 L216.54 286.26 L216.79 285.6 L217.04 284.73 L217.28 283.69 L217.53 282.52 L217.78 281.3 L218.02 280.08 L218.27 278.91 L218.51 277.87 L218.76 277 L219.01 276.34 L219.25 275.94 L219.5 275.8 L219.73 276.07 L219.96 276.85 L220.19 278.02 L220.42 279.4 L220.66 280.78 L220.89 281.95 L221.12 282.73 L221.35 283 L221.59 282.76 L221.84 282.09 L222.08 281.05 L222.33 279.78 L222.57 278.42 L222.82 277.15 L223.06 276.11 L223.31 275.44 L223.55 275.2 L223.95 273.8 L224.18 262 L224.33 250 L224.45 239.4 L224.57 253.03 L224.7 264.35 L224.85 273.71 L225.05 281.37 L225.3 285.64 L225.55 286.73 L225.75 286.8 L225.99 286.68 L226.22 286.32 L226.46 285.75 L226.7 284.98 L226.93 284.05 L227.17 283 L227.41 281.87 L227.64 280.73 L227.88 279.6 L228.12 278.55 L228.35 277.62 L228.59 276.85 L228.83 276.28 L229.06 275.92 L229.3 275.8 L229.53 276.07 L229.76 276.85 L229.99 278.02 L230.22 279.4 L230.46 280.78 L230.69 281.95 L230.92 282.73 L231.15 283 L231.38 282.81 L231.61 282.26 L231.84 281.39 L232.07 280.31 L232.3 279.1 L232.53 277.89 L232.76 276.81 L232.99 275.94 L233.22 275.39 L233.45 275.2 L233.85 273.8 L234.08 262 L234.23 250 L234.35 239.4 L234.47 253.03 L234.6 264.35 L234.75 273.71 L234.95 281.37 L235.2 285.64 L235.45 286.73 L235.65 286.8 L235.89 286.68 L236.13 286.32 L236.38 285.75 L236.62 284.98 L236.86 284.05 L237.1 283 L237.34 281.87 L237.58 280.73 L237.82 279.6 L238.07 278.55 L238.31 277.62 L238.55 276.85 L238.79 276.28 L239.03 275.92 L239.28 275.8 L239.51 276.07 L239.74 276.85 L239.97 278.02 L240.2 279.4 L240.43 280.78 L240.66 281.95 L240.89 282.73 L241.12 283 L241.36 282.83 L241.59 282.33 L241.83 281.53 L242.06 280.46 L242.29 279.18 L242.53 277.75 L242.76 276.25 L243 274.75 L243.23 273.32 L243.46 272.04 L243.7 270.97 L243.93 270.17 L244.17 269.67 L244.4 269.5 L244.7 271.19 L245 275.62 L245.3 281.08 L245.6 285.51 L245.9 287.2 L246.14 287.06 L246.38 286.63 L246.62 285.96 L246.85 285.06 L247.09 284.01 L247.33 282.85 L247.57 281.65 L247.81 280.49 L248.05 279.44 L248.28 278.54 L248.52 277.87 L248.76 277.44 L249 277.3 L249.23 277.46 L249.46 277.9 L249.69 278.57 L249.93 279.35 L250.16 280.13 L250.39 280.8 L250.62 281.24 L250.85 281.4 L251.09 281.3 L251.33 280.99 L251.57 280.51 L251.8 279.87 L252.04 279.11 L252.28 278.28 L252.52 277.42 L252.76 276.59 L253 275.83 L253.23 275.19 L253.47 274.71 L253.71 274.4 L253.95 274.3 L254.18 274.68 L254.41 275.78 L254.64 277.42 L254.88 279.35 L255.11 281.28 L255.34 282.92 L255.57 284.02 L255.8 284.4 L256.03 284.21 L256.26 283.67 L256.5 282.81 L256.73 281.71 L256.96 280.45 L257.19 279.15 L257.42 277.89 L257.65 276.79 L257.89 275.93 L258.12 275.39 L258.35 275.2 L258.75 273.8 L258.98 262 L259.13 250 L259.25 239.4 L259.37 253.03 L259.5 264.35 L259.65 273.71 L259.85 281.37 L260.1 285.64 L260.35 286.73 L260.55 286.8 L260.79 286.66 L261.03 286.26 L261.27 285.6 L261.51 284.73 L261.75 283.69 L261.99 282.52 L262.23 281.3 L262.46 280.08 L262.7 278.91 L262.94 277.87 L263.18 277 L263.42 276.34 L263.66 275.94 L263.9 275.8 L264.13 276.07 L264.36 276.85 L264.59 278.02 L264.82 279.4 L265.06 280.78 L265.29 281.95 L265.52 282.73 L265.75 283 L265.98 282.76 L266.22 282.09 L266.45 281.05 L266.68 279.78 L266.92 278.42 L267.15 277.15 L267.38 276.11 L267.62 275.44 L267.85 275.2 L268.25 273.8 L268.48 262 L268.63 250 L268.75 239.4 L268.87 253.03 L269 264.35 L269.15 273.71 L269.35 281.37 L269.6 285.64 L269.85 286.73 L270.05 286.8 L270.3 286.66 L270.54 286.26 L270.79 285.6 L271.04 284.73 L271.28 283.69 L271.53 282.52 L271.77 281.3 L272.02 280.08 L272.27 278.91 L272.51 277.87 L272.76 277 L273.01 276.34 L273.25 275.94 L273.5 275.8 L273.73 276.07 L273.96 276.85 L274.19 278.02 L274.43 279.4 L274.66 280.78 L274.89 281.95 L275.12 282.73 L275.35 283 L275.59 282.76 L275.84 282.09 L276.08 281.05 L276.33 279.78 L276.57 278.42 L276.82 277.15 L277.06 276.11 L277.31 275.44 L277.55 275.2 L277.95 273.8 L278.18 262 L278.33 250 L278.45 239.4 L278.57 253.03 L278.7 264.35 L278.85 273.71 L279.05 281.37 L279.3 285.64 L279.55 286.73 L279.75 286.8 L279.99 286.68 L280.24 286.32 L280.48 285.75 L280.72 284.98 L280.97 284.05 L281.21 283 L281.45 281.87 L281.7 280.73 L281.94 279.6 L282.18 278.55 L282.43 277.62 L282.67 276.85 L282.91 276.28 L283.16 275.92 L283.4 275.8 L283.63 276.07 L283.86 276.85 L284.09 278.02 L284.32 279.4 L284.56 280.78 L284.79 281.95 L285.02 282.73 L285.25 283 L285.49 282.81 L285.73 282.26 L285.97 281.39 L286.21 280.31 L286.45 279.1 L286.69 277.89 L286.93 276.81 L287.17 275.94 L287.41 275.39 L287.65 275.2 L288.05 273.8 L288.28 262 L288.43 250 L288.55 239.4 L288.67 253.03 L288.8 264.35 L288.95 273.71 L289.15 281.37 L289.4 285.64 L289.65 286.73 L289.85 286.8 L290.09 286.66 L290.33 286.26 L290.58 285.61 L290.82 284.75 L291.06 283.73 L291.3 282.62 L291.55 281.48 L291.79 280.37 L292.03 279.35 L292.27 278.49 L292.52 277.84 L292.76 277.44 L293 277.3 L293.23 277.46 L293.46 277.9 L293.69 278.57 L293.93 279.35 L294.16 280.13 L294.39 280.8 L294.62 281.24 L294.85 281.4 L295.1 281.28 L295.34 280.92 L295.59 280.36 L295.83 279.62 L296.08 278.77 L296.32 277.85 L296.57 276.93 L296.82 276.07 L297.06 275.34 L297.31 274.78 L297.55 274.42 L297.8 274.3 L298.03 274.68 L298.26 275.78 L298.49 277.42 L298.73 279.35 L298.96 281.28 L299.19 282.92 L299.42 284.02 L299.65 284.4 L299.89 284.17 L300.13 283.52 L300.37 282.5 L300.61 281.22 L300.85 279.8 L301.09 278.38 L301.33 277.1 L301.57 276.08 L301.81 275.43 L302.05 275.2 L302.45 273.8 L302.68 262 L302.83 250 L302.95 239.4 L303.07 253.03 L303.2 264.35 L303.35 273.71 L303.55 281.37 L303.8 285.64 L304.05 286.73 L304.25 286.8 L304.49 286.66 L304.73 286.26 L304.97 285.6 L305.21 284.73 L305.45 283.69 L305.69 282.52 L305.93 281.3 L306.16 280.08 L306.4 278.91 L306.64 277.87 L306.88 277 L307.12 276.34 L307.36 275.94 L307.6 275.8 L307.83 276.07 L308.06 276.85 L308.29 278.02 L308.52 279.4 L308.76 280.78 L308.99 281.95 L309.22 282.73 L309.45 283 L309.68 282.76 L309.92 282.09 L310.15 281.05 L310.38 279.78 L310.62 278.42 L310.85 277.15 L311.08 276.11 L311.32 275.44 L311.55 275.2 L311.95 273.8 L312.18 262 L312.33 250 L312.45 239.4 L312.57 253.03 L312.7 264.35 L312.85 273.71 L313.05 281.37 L313.3 285.64 L313.55 286.73 L313.75 286.8 L314 286.66 L314.24 286.26 L314.49 285.6 L314.74 284.73 L314.98 283.69 L315.23 282.52 L315.47 281.3 L315.72 280.08 L315.97 278.91 L316.21 277.87 L316.46 277 L316.71 276.34 L316.95 275.94 L317.2 275.8 L317.43 276.07 L317.66 276.85 L317.89 278.02 L318.12 279.4 L318.36 280.78 L318.59 281.95 L318.82 282.73 L319.05 283 L319.29 282.76 L319.54 282.09 L319.78 281.05 L320.03 279.78 L320.27 278.42 L320.52 277.15 L320.76 276.11 L321.01 275.44 L321.25 275.2 L321.65 273.8 L321.88 262 L322.03 250 L322.15 239.4 L322.27 253.03 L322.4 264.35 L322.55 273.71 L322.75 281.37 L323 285.64 L323.25 286.73 L323.45 286.8 L323.7 286.66 L323.94 286.26 L324.19 285.6 L324.44 284.73 L324.68 283.69 L324.93 282.52 L325.18 281.3 L325.42 280.08 L325.67 278.91 L325.91 277.87 L326.16 277 L326.41 276.34 L326.65 275.94 L326.9 275.8 L327.13 276.07 L327.36 276.85 L327.59 278.02 L327.82 279.4 L328.06 280.78 L328.29 281.95 L328.52 282.73 L328.75 283 L328.99 282.76 L329.24 282.09 L329.48 281.05 L329.73 279.78 L329.97 278.42 L330.22 277.15 L330.46 276.11 L330.71 275.44 L330.95 275.2 L331.35 273.8 L331.58 262 L331.73 250 L331.85 239.4 L331.97 253.03 L332.1 264.35 L332.25 273.71 L332.45 281.37 L332.7 285.64 L332.95 286.73 L333.15 286.8 L333.4 286.68 L333.64 286.32 L333.89 285.75 L334.14 284.98 L334.38 284.05 L334.63 283 L334.88 281.87 L335.12 280.73 L335.37 279.6 L335.62 278.55 L335.86 277.62 L336.11 276.85 L336.36 276.28 L336.6 275.92 L336.85 275.8 L337.08 276.07 L337.31 276.85 L337.54 278.02 L337.78 279.4 L338.01 280.78 L338.24 281.95 L338.47 282.73 L338.7 283 L338.94 282.81 L339.19 282.26 L339.44 281.39 L339.68 280.31 L339.93 279.1 L340.17 277.89 L340.42 276.81 L340.66 275.94 L340.91 275.39 L341.15 275.2 L341.55 273.8 L341.78 262 L341.93 250 L342.05 239.4 L342.17 253.03 L342.3 264.35 L342.45 273.71 L342.65 281.37 L342.9 285.64 L343.15 286.73 L343.35 286.8 L343.59 286.66 L343.83 286.26 L344.07 285.61 L344.31 284.75 L344.55 283.73 L344.79 282.62 L345.03 281.48 L345.27 280.37 L345.51 279.35 L345.75 278.49 L345.99 277.84 L346.23 277.44 L346.47 277.3 L346.7 277.46 L346.93 277.9 L347.16 278.57 L347.39 279.35 L347.62 280.13 L347.85 280.8 L348.09 281.24 L348.32 281.4 L348.56 281.28 L348.8 280.92 L349.05 280.36 L349.29 279.62 L349.53 278.77 L349.78 277.85 L350.02 276.93 L350.26 276.07 L350.5 275.34 L350.75 274.78 L350.99 274.42 L351.23 274.3 L351.46 274.68 L351.7 275.78 L351.93 277.42 L352.16 279.35 L352.39 281.28 L352.62 282.92 L352.85 284.02 L353.08 284.4 L353.32 284.17 L353.56 283.52 L353.79 282.5 L354.03 281.22 L354.27 279.8 L354.5 278.38 L354.74 277.1 L354.98 276.08 L355.21 275.43 L355.45 275.2 L355.85 273.8 L356.08 262 L356.23 250 L356.35 239.4 L356.47 253.03 L356.6 264.35 L356.75 273.71 L356.95 281.37 L357.2 285.64 L357.45 286.73 L357.65 286.8 L357.89 286.66 L358.14 286.26 L358.38 285.6 L358.62 284.73 L358.86 283.69 L359.11 282.52 L359.35 281.3 L359.59 280.08 L359.84 278.91 L360.08 277.87 L360.32 277 L360.56 276.34 L360.81 275.94 L361.05 275.8 L361.28 276.07 L361.51 276.85 L361.74 278.02 L361.98 279.4 L362.21 280.78 L362.44 281.95 L362.67 282.73 L362.9 283 L363.14 282.76 L363.38 282.09 L363.62 281.05 L363.86 279.78 L364.09 278.42 L364.33 277.15 L364.57 276.11 L364.81 275.44 L365.05 275.2 L365.45 273.8 L365.68 262 L365.83 250 L365.95 239.4 L366.07 253.03 L366.2 264.35 L366.35 273.71 L366.55 281.37 L366.8 285.64 L367.05 286.73 L367.25 286.8 L367.5 286.66 L367.74 286.26 L367.99 285.6 L368.24 284.73 L368.48 283.69 L368.73 282.52 L368.97 281.3 L369.22 280.08 L369.47 278.91 L369.71 277.87 L369.96 277 L370.21 276.34 L370.45 275.94 L370.7 275.8 L370.93 276.07 L371.16 276.85 L371.39 278.02 L371.62 279.4 L371.86 280.78 L372.09 281.95 L372.32 282.73 L372.55 283 L372.79 282.76 L373.04 282.09 L373.28 281.05 L373.53 279.78 L373.77 278.42 L374.02 277.15 L374.26 276.11 L374.51 275.44 L374.75 275.2 L375.15 273.8 L375.38 262 L375.53 250 L375.65 239.4 L375.77 253.03 L375.9 264.35 L376.05 273.71 L376.25 281.37 L376.5 285.64 L376.75 286.73 L376.95 286.8 L377.18 286.68 L377.42 286.32 L377.65 285.75 L377.88 284.98 L378.12 284.05 L378.35 283 L378.58 281.87 L378.82 280.73 L379.05 279.6 L379.28 278.55 L379.52 277.62 L379.75 276.85 L379.98 276.28 L380.22 275.92 L380.45 275.8 L380.68 276.07 L380.91 276.85 L381.14 278.02 L381.38 279.4 L381.61 280.78 L381.84 281.95 L382.07 282.73 L382.3 283 L382.52 282.81 L382.75 282.26 L382.97 281.39 L383.2 280.31 L383.43 279.1 L383.65 277.89 L383.88 276.81 L384.1 275.94 L384.32 275.39 L384.55 275.2 L384.95 273.8 L385.18 262 L385.33 250 L385.45 239.4 L385.57 253.03 L385.7 264.35 L385.85 273.71 L386.05 281.37 L386.3 285.64 L386.55 286.73 L386.75 286.8 L386.99 286.68 L387.22 286.32 L387.45 285.75 L387.69 284.98 L387.93 284.05 L388.16 283 L388.39 281.87 L388.63 280.73 L388.87 279.6 L389.1 278.55 L389.33 277.62 L389.57 276.85 L389.81 276.28 L390.04 275.92 L390.27 275.8 L390.51 276.07 L390.74 276.85 L390.97 278.02 L391.2 279.4 L391.43 280.78 L391.66 281.95 L391.89 282.73 L392.12 283 L392.37 282.83 L392.61 282.33 L392.86 281.53 L393.1 280.47 L393.35 279.22 L393.59 277.86 L393.83 276.44 L394.08 275.08 L394.32 273.83 L394.57 272.77 L394.81 271.97 L395.06 271.47 L395.3 271.3 L395.6 272.82 L395.9 276.79 L396.2 281.71 L396.5 285.68 L396.8 287.2 L397.04 287.06 L397.29 286.64 L397.53 285.96 L397.78 285.05 L398.02 283.97 L398.27 282.77 L398.51 281.5 L398.76 280.23 L399 279.03 L399.25 277.95 L399.49 277.04 L399.74 276.36 L399.98 275.94 L400.23 275.8 L400.46 276.07 L400.69 276.85 L400.92 278.02 L401.15 279.4 L401.38 280.78 L401.61 281.95 L401.84 282.73 L402.08 283 L402.31 282.81 L402.55 282.26 L402.79 281.39 L403.03 280.31 L403.26 279.1 L403.5 277.89 L403.74 276.81 L403.98 275.94 L404.21 275.39 L404.45 275.2 L404.85 273.8 L405.08 262 L405.23 250 L405.35 239.4 L405.47 253.03 L405.6 264.35 L405.75 273.71 L405.95 281.37 L406.2 285.64 L406.45 286.73 L406.65 286.8 L406.9 286.66 L407.14 286.26 L407.39 285.6 L407.64 284.73 L407.88 283.69 L408.13 282.52 L408.38 281.3 L408.62 280.08 L408.87 278.91 L409.11 277.87 L409.36 277 L409.61 276.34 L409.85 275.94 L410.1 275.8 L410.33 276.07 L410.56 276.85 L410.79 278.02 L411.03 279.4 L411.26 280.78 L411.49 281.95 L411.72 282.73 L411.95 283 L412.19 282.76 L412.44 282.09 L412.68 281.05 L412.93 279.78 L413.17 278.42 L413.42 277.15 L413.66 276.11 L413.91 275.44 L414.15 275.2 L414.55 273.8 L414.78 262 L414.93 250 L415.05 239.4 L415.17 253.03 L415.3 264.35 L415.45 273.71 L415.65 281.37 L415.9 285.64 L416.15 286.73 L416.35 286.8 L416.59 286.68 L416.82 286.32 L417.06 285.75 L417.3 284.98 L417.53 284.05 L417.77 283 L418.01 281.87 L418.24 280.73 L418.48 279.6 L418.72 278.55 L418.95 277.62 L419.19 276.85 L419.43 276.28 L419.66 275.92 L419.9 275.8 L420.13 276.07 L420.36 276.85 L420.59 278.02 L420.82 279.4 L421.06 280.78 L421.29 281.95 L421.52 282.73 L421.75 283 L421.98 282.81 L422.21 282.26 L422.44 281.39 L422.67 280.31 L422.9 279.1 L423.13 277.89 L423.36 276.81 L423.59 275.94 L423.82 275.39 L424.05 275.2 L424.45 273.8 L424.68 262 L424.83 250 L424.95 239.4 L425.07 253.03 L425.2 264.35 L425.35 273.71 L425.55 281.37 L425.8 285.64 L426.05 286.73 L426.25 286.8 L426.49 286.66 L426.73 286.26 L426.97 285.6 L427.21 284.73 L427.46 283.69 L427.7 282.52 L427.94 281.3 L428.18 280.08 L428.42 278.91 L428.66 277.87 L428.9 277 L429.14 276.34 L429.38 275.94 L429.62 275.8 L429.86 276.07 L430.09 276.85 L430.32 278.02 L430.55 279.4 L430.78 280.78 L431.01 281.95 L431.24 282.73 L431.48 283 L431.71 282.85 L431.94 282.39 L432.17 281.67 L432.41 280.71 L432.64 279.58 L432.87 278.34 L433.1 277.06 L433.34 275.82 L433.57 274.69 L433.8 273.73 L434.03 273.01 L434.27 272.55 L434.5 272.4 L434.8 273.81 L435.1 277.51 L435.4 282.09 L435.7 285.79 L436 287.2 L436.24 287.05 L436.48 286.63 L436.71 285.93 L436.95 284.99 L437.19 283.84 L437.43 282.54 L437.66 281.12 L437.9 279.65 L438.14 278.18 L438.38 276.76 L438.61 275.46 L438.85 274.31 L439.09 273.37 L439.32 272.67 L439.56 272.25 L439.8 272.1 L440.1 273.54 L440.4 277.32 L440.7 281.98 L441 285.76 L441.3 287.2 L441.53 287.06 L441.77 286.64 L442 285.96 L442.24 285.05 L442.47 283.97 L442.7 282.77 L442.94 281.5 L443.17 280.23 L443.41 279.03 L443.64 277.95 L443.87 277.04 L444.11 276.36 L444.34 275.94 L444.57 275.8 L444.81 276.07 L445.04 276.85 L445.27 278.02 L445.5 279.4 L445.73 280.78 L445.96 281.95 L446.19 282.73 L446.43 283 L446.67 282.76 L446.92 282.09 L447.17 281.05 L447.41 279.78 L447.66 278.42 L447.91 277.15 L448.16 276.11 L448.4 275.44 L448.65 275.2 L449.05 273.8 L449.28 262 L449.43 250 L449.55 239.4 L449.67 253.03 L449.8 264.35 L449.95 273.71 L450.15 281.37 L450.4 285.64 L450.65 286.73 L450.85 286.8 L451.1 286.66 L451.34 286.26 L451.59 285.6 L451.84 284.73 L452.08 283.69 L452.33 282.52 L452.57 281.3 L452.82 280.08 L453.07 278.91 L453.31 277.87 L453.56 277 L453.81 276.34 L454.05 275.94 L454.3 275.8 L454.53 276.07 L454.76 276.85 L454.99 278.02 L455.23 279.4 L455.46 280.78 L455.69 281.95 L455.92 282.73 L456.15 283 L456.39 282.76 L456.64 282.09 L456.88 281.05 L457.13 279.78 L457.37 278.42 L457.62 277.15 L457.86 276.11 L458.11 275.44 L458.35 275.2 L458.75 273.8 L458.98 262 L459.13 250 L459.25 239.4 L459.37 253.03 L459.5 264.35 L459.65 273.71 L459.85 281.37 L460.1 285.64 L460.35 286.73 L460.55 286.8 L460.79 286.68 L461.02 286.32 L461.26 285.75 L461.5 284.98 L461.73 284.05 L461.97 283 L462.21 281.87 L462.44 280.73 L462.68 279.6 L462.92 278.55 L463.15 277.62 L463.39 276.85 L463.63 276.28 L463.86 275.92 L464.1 275.8 L464.33 276.07 L464.56 276.85 L464.79 278.02 L465.02 279.4 L465.26 280.78 L465.49 281.95 L465.72 282.73 L465.95 283 L466.18 282.81 L466.41 282.26 L466.64 281.39 L466.87 280.31 L467.1 279.1 L467.33 277.89 L467.56 276.81 L467.79 275.94 L468.02 275.39 L468.25 275.2 L468.65 273.8 L468.88 262 L469.03 250 L469.15 239.4 L469.27 253.03 L469.4 264.35 L469.55 273.71 L469.75 281.37 L470 285.64 L470.25 286.73 L470.45 286.8 L470.7 286.66 L470.94 286.26 L471.19 285.6 L471.44 284.73 L471.68 283.69 L471.93 282.52 L472.18 281.3 L472.42 280.08 L472.67 278.91 L472.91 277.87 L473.16 277 L473.41 276.34 L473.65 275.94 L473.9 275.8 L474.13 276.07 L474.36 276.85 L474.59 278.02 L474.82 279.4 L475.06 280.78 L475.29 281.95 L475.52 282.73 L475.75 283 L475.99 282.76 L476.24 282.09 L476.48 281.05 L476.73 279.78 L476.97 278.42 L477.22 277.15 L477.46 276.11 L477.71 275.44 L477.95 275.2 L478.35 273.8 L478.58 262 L478.73 250 L478.85 239.4" fill="none" stroke="#1f77b4" stroke-width="1.6" stroke-linejoin="round"/>
<g clip-path="url(#cB2)" fill="#1b6ca6"><circle cx="54.65" cy="352.8" r="1.3"/><circle cx="64.15" cy="352.8" r="1.3"/><circle cx="73.85" cy="352.08" r="1.3"/><circle cx="83.95" cy="350.65" r="1.3"/><circle cx="98.15" cy="335.93" r="1.3"/><circle cx="107.85" cy="352.08" r="1.3"/><circle cx="117.35" cy="352.8" r="1.3"/><circle cx="127.35" cy="351.01" r="1.3"/><circle cx="137.65" cy="349.93" r="1.3"/><circle cx="151.95" cy="335.57" r="1.3"/><circle cx="161.45" cy="352.8" r="1.3"/><circle cx="170.95" cy="352.8" r="1.3"/><circle cx="180.65" cy="352.08" r="1.3"/><circle cx="190.85" cy="350.29" r="1.3"/><circle cx="205.15" cy="335.57" r="1.3"/><circle cx="214.75" cy="352.44" r="1.3"/><circle cx="224.45" cy="352.08" r="1.3"/><circle cx="234.35" cy="351.36" r="1.3"/><circle cx="268.75" cy="352.8" r="1.3"/><circle cx="278.45" cy="352.08" r="1.3"/><circle cx="288.55" cy="350.65" r="1.3"/><circle cx="302.95" cy="335.21" r="1.3"/><circle cx="312.45" cy="352.8" r="1.3"/><circle cx="322.15" cy="352.08" r="1.3"/><circle cx="331.85" cy="352.08" r="1.3"/><circle cx="342.05" cy="350.29" r="1.3"/><circle cx="356.35" cy="335.57" r="1.3"/><circle cx="365.95" cy="352.44" r="1.3"/><circle cx="375.65" cy="352.08" r="1.3"/><circle cx="385.45" cy="351.72" r="1.3"/><circle cx="405.35" cy="315.47" r="1.3"/><circle cx="415.05" cy="352.08" r="1.3"/><circle cx="424.95" cy="351.36" r="1.3"/><circle cx="459.25" cy="352.08" r="1.3"/><circle cx="469.15" cy="351.36" r="1.3"/></g>
<polygon points="500.25,159.51 554.54,110.03 553.64,15.49 496.32,59.94" fill="#f2f2f2" fill-opacity="0.5" stroke="#f2f2f2" stroke-opacity="0.5" stroke-width="0.8"/>
<polygon points="554.54,110.03 642.49,137.69 646.17,40.3 553.64,15.49" fill="#e6e6e6" fill-opacity="0.5" stroke="#e6e6e6" stroke-opacity="0.5" stroke-width="0.8"/>
<polygon points="500.25,159.51 592.78,191.72 642.49,137.69 554.54,110.03" fill="#ececec" fill-opacity="0.5" stroke="#ececec" stroke-opacity="0.5" stroke-width="0.8"/>
<path d="M501.15 159.82 L555.4 110.3 L554.54 15.73 M527.87 169.13 L580.86 118.31 L581.28 22.9 M555.32 178.68 L606.96 126.52 L608.74 30.26 M583.54 188.51 L633.73 134.94 L636.94 37.83 M604.55 178.93 L513.07 147.82 L509.89 49.41 M623.61 158.21 L533.88 128.86 L531.87 32.37 M641.59 138.68 L553.55 110.93 L552.6 16.3 M499.74 146.69 L554.42 97.82 L642.97 125.13 M498.65 118.96 L554.17 71.44 L643.99 97.99 M497.52 90.38 L553.91 44.32 L645.05 70.04 M496.36 60.92 L553.65 16.41 L646.13 41.25" fill="none" stroke="#b0b0b0" stroke-width="0.8"/>
<polygon points="499.75,346.01 554.28,301.63 553.37,216.83 495.81,256.7" fill="#f2f2f2" fill-opacity="0.5" stroke="#f2f2f2" stroke-opacity="0.5" stroke-width="0.8"/>
<polygon points="554.28,301.63 642.6,326.44 646.29,239.08 553.37,216.83" fill="#e6e6e6" fill-opacity="0.5" stroke="#e6e6e6" stroke-opacity="0.5" stroke-width="0.8"/>
<polygon points="499.75,346.01 592.68,374.9 642.6,326.44 554.28,301.63" fill="#ececec" fill-opacity="0.5" stroke="#ececec" stroke-opacity="0.5" stroke-width="0.8"/>
<path d="M501.03 346.4 L555.49 301.97 L554.64 217.14 M527.78 354.72 L580.98 309.13 L581.42 223.55 M555.27 363.27 L607.11 316.47 L608.91 230.13 M583.51 372.05 L633.91 324 L637.13 236.89 M596.65 371.05 L504.08 342.49 L500.38 253.53 M619.99 348.39 L529.53 321.77 L527.3 234.89 M641.73 327.27 L553.33 302.4 L552.37 217.52 M499.46 339.46 L554.21 295.39 L642.87 320.02 M498.29 312.96 L553.94 270.18 L643.97 294.08 M497.08 285.61 L553.66 244.2 L645.1 267.32 M495.83 257.34 L553.37 217.43 L646.27 239.71" fill="none" stroke="#b0b0b0" stroke-width="0.8"/>
<path d="M532.4 36.2 C534.4 35.45 536.67 37.03 538.4 38.4 C540.13 39.77 541.32 41.9 542.8 44.4 C544.28 46.9 545.8 50.17 547.3 53.4 C548.8 56.63 550.3 60.32 551.8 63.8 C553.3 67.28 555.07 71.43 556.3 74.3 C557.53 77.17 558.22 78.97 559.2 81 C560.18 83.03 561.07 84.93 562.2 86.5 C563.33 88.07 564.75 89.3 566 90.4 C567.25 91.5 568.13 92.22 569.7 93.1 C571.27 93.98 573.45 95.07 575.4 95.7 C577.35 96.33 579.65 96.58 581.4 96.9 C583.15 97.22 584.65 97.3 585.9 97.6 C587.15 97.9 588.12 98.15 588.9 98.7 C589.68 99.25 590.48 100.17 590.6 100.9 C590.72 101.63 590.1 102.48 589.6 103.1 C589.1 103.72 588 104.08 587.6 104.6 C587.2 105.12 586.98 105.62 587.2 106.2 C587.42 106.78 587.62 107.12 588.9 108.1 C590.18 109.08 592.67 110.57 594.9 112.1 C597.13 113.63 599.82 115.68 602.3 117.3 C604.78 118.92 607.57 120.43 609.8 121.8 C612.03 123.17 614.08 124.45 615.7 125.5 C617.32 126.55 618.75 127.5 619.5 128.1 C620.25 128.7 620.4 128.83 620.2 129.1 C620 129.37 619.05 129.67 618.3 129.7 C617.55 129.73 617.12 129.62 615.7 129.3 C614.28 128.98 612.03 128.43 609.8 127.8 C607.57 127.17 604.78 126.2 602.3 125.5 C599.82 124.8 597.38 124.22 594.9 123.6 C592.42 122.98 589.9 122.35 587.4 121.8 C584.9 121.25 582.38 120.67 579.9 120.3 C577.42 119.93 574.98 119.9 572.5 119.6 C570.02 119.3 567.95 119 565 118.5 C562.05 118 557.75 117.25 554.8 116.6 C551.85 115.95 549.78 115.43 547.3 114.6 C544.82 113.77 542.13 112.77 539.9 111.6 C537.67 110.43 535.77 109.27 533.9 107.6 C532.03 105.93 530.2 103.72 528.7 101.6 C527.2 99.48 525.9 97.25 524.9 94.9 C523.9 92.55 523.3 89.98 522.7 87.5 C522.1 85.02 521.67 82.45 521.3 80 C520.93 77.55 520.52 75.75 520.5 72.8 C520.48 69.85 520.77 65.78 521.2 62.3 C521.63 58.82 522.23 55.13 523.1 51.9 C523.97 48.67 524.85 45.52 526.4 42.9 C527.95 40.28 530.4 36.95 532.4 36.2Z" fill="none" stroke="#1f77b4" stroke-width="1.6" stroke-linejoin="round"/>
<path d="M525.59 264.11 L523.63 259.82 L521.57 256.73 L520.4 255.7 L519.25 255.08 L518.13 254.82 L517.05 254.86 L515.04 255.84 L513.29 258.04 L511.76 261.84 L510.36 267.64 L509.46 275.51 L509.46 287.26 L508.57 303.92 L508.62 310.78 L509.31 315.59 L510.34 318.74 L512.47 322.32 L514.67 324.56 L517.4 326.45 L521.8 328.45 L526.97 329.95 L532.77 331.06 L558.84 334.98 L567.74 336.06 L576.45 336.63 L595.53 336.87 L608.31 339.6 L621.22 341.82 L615.81 337.04 L605.26 330.32 L597.34 326.19 L574.01 316.54 L557.91 311.01 L554.68 309.53 L551.58 307.78 L547.13 304.51 L544.29 301.84 L541.6 298.76 L539.13 295.37 L536.01 290.04 L533.61 284.64 L528.49 270.02 L526.07 263.77 M526.07 263.77 L523.64 258.63 L521.62 255.94 L520.45 255.06 L519.3 254.56 L518.17 254.38 L516.74 254.61 L514.78 255.89 L513.08 258.4 L511.61 262.52 L510.3 268.53 L509.58 275.55 L509.56 287.41 L508.65 305.47 L508.86 312.11 L509.75 316.72 L510.94 319.71 L512.61 322.32 L515.62 325.21 L517.47 326.43 L520.63 327.98 L524.22 329.24 L528.18 330.26 L557.24 334.78 L565.15 335.76 L572.5 336.32 L578.57 336.5 L591.15 336.31 L598.07 336.56 L611.59 339.8 L623.97 340.76 L605.2 329.11 L597.51 325.22 L575.79 316.54 L559.21 310.9 L554.24 308.59 L549.62 305.55 L546.68 303.04 L543.87 300.1 L541.23 296.77 L537.81 291.43 L534.42 284.23 L529.2 269.48 L526.7 263.11 M526.7 263.11 L524.7 258.75 L522.63 255.71 L521.44 254.7 L520.27 254.09 L519.11 253.8 L517.62 253.88 L516.57 254.26 L515.26 255.17 L513.53 257.48 L512.02 261.36 L510.64 267.31 L509.75 275.34 L509.73 287.21 L508.82 305.15 L509 311.78 L509.84 316.4 L510.97 319.41 L512.56 322.03 L515.44 324.96 L517.2 326.2 L520.22 327.79 L523.64 329.09 L527.41 330.15 L534.29 331.47 L557.57 334.9 L566.67 335.82 L573.39 336.12 L581.92 336.02 L594.2 335.41 L601.29 335.74 L615.27 339.21 L627.38 338.79 L617.36 333.94 L606.85 327.67 L599.17 323.85 L593.55 321.49 L576.83 315.51 L560.8 310.21 L555.55 307.81 L550.77 304.55 L547.77 301.84 L544.92 298.65 L542.27 295.08 L538.9 289.54 L535.61 282.35 L530.9 269.17 L527.65 261.01 M525.56 264.19 L523.61 259.7 L521.57 256.52 L520.41 255.46 L519.26 254.83 L518.14 254.56 L517.05 254.61 L515.69 255.13 L514.74 255.86 L513.04 258.29 L511.55 262.34 L510.39 267.41 L509.5 275.37 L509.53 287.17 L508.7 303.84 L508.78 310.69 L509.51 315.49 L510.57 318.63 L512.74 322.2 L514.98 324.44 L516.77 325.72 L519.87 327.37 L523.43 328.71 L527.41 329.79 L533.26 330.89 L557.53 334.6 L566.08 335.73 L574.28 336.38 L590.88 336.55 L598.85 337.1 L612.9 340.67 L622.58 340.79 L602.4 328.57 L595.22 325.08 L583.27 320.37 L574.94 316.78 L557.36 310.68 L552.59 308.3 L548.1 305.21 L545.22 302.68 L542.48 299.73 L539.93 296.43 L536.65 291.16 L533.4 283.98 L528.93 271.15 L525.9 263.29 M525.9 263.29 L523.95 259.12 L521.9 256.18 L520.72 255.2 L519.56 254.62 L518.43 254.38 L516.98 254.52 L515 255.68 L513.27 258.02 L511.77 261.98 L510.41 267.9 L509.6 274.99 L509.56 287.77 L508.64 305.9 L508.78 311.25 L509.54 315.97 L510.62 319.05 L512.8 322.56 L515.03 324.76 L516.79 326.02 L519.85 327.65 L523.34 328.97 L527.22 330.04 L532.88 331.14 L557.69 334.85 L565.69 335.82 L573.14 336.35 L579.33 336.5 L592.37 336.28 L600.31 336.85 L614.46 340.49 L624.17 340.1 L613.31 334.06 L603.52 328.14 L596.29 324.62 L575.52 316.4 L558.86 310.73 L553.91 308.37 L549.31 305.27 L546.38 302.7 L543.58 299.7 L540.97 296.33 L537.61 290.97 L534.29 283.77 L529.73 270.83 L526.6 262.75 M526.6 262.75 L524.19 257.76 L522.16 255.2 L520.98 254.37 L519.81 253.9 L518.67 253.74 L517.21 253.97 L515.85 254.68 L514.91 255.52 L513.23 258.09 L511.76 262.27 L510.62 267.46 L509.75 275.49 L509.76 286.29 L508.86 303.99 L508.93 310.75 L509.62 315.5 L511.06 319.57 L512.68 322.17 L515.59 325.08 L517.37 326.3 L520.4 327.87 L523.84 329.16 L527.62 330.2 L534.5 331.51 L557.72 334.92 L566.79 335.82 L573.49 336.1 L581.96 335.99 L594.11 335.36 L600.99 335.62 L614.78 339 L627.42 338.81 L618.09 334.18 L607.41 327.82 L599.6 323.91 L589.73 319.99 L575.31 314.9 L560.89 310.16 L555.62 307.75 L550.83 304.48 L547.83 301.75 L544.98 298.55 L542.33 294.96 L538.96 289.41 L535.68 282.22 L530.96 269.02 L527.7 260.87 M524.32 267.54 L522.36 262.6 L520.29 258.8 L518.4 256.9 L517.31 256.4 L516.25 256.29 L515.24 256.52 L514.29 257.11 L513.4 258.05 L512.55 259.43 L511.05 263.3 L509.73 269.02 L509.01 275.78 L509.06 287.46 L508.2 304.43 L508.31 311.35 L509.14 316.18 L510.32 319.31 L512.04 322.02 L514.34 324.33 L517.25 326.25 L520.74 327.82 L524.78 329.06 L530.93 330.32 L544.88 332.28 L567.07 335.92 L578.01 336.99 L589 337.51 L599.85 339.04 L613.29 342.41 L615.44 340.29 L604.84 333.17 L596.37 328.5 L582.03 322.33 L571.93 317.35 L554.79 311.24 L548.9 308.19 L544.64 305.16 L540.59 301.3 L538.09 298.26 L535.84 294.95 L533.9 291.47 L531.56 286.09 L524.44 265.85 M524.44 265.85 L522.51 261.51 L520.45 258.23 L519.3 257.1 L518.18 256.44 L517.1 256.17 L516.05 256.24 L515.06 256.64 L514.12 257.37 L512.41 260.02 L510.96 264.11 L509.84 269.08 L509.11 275.81 L509.1 287.44 L508.17 304.3 L508.22 311.22 L508.96 316.05 L510.06 319.21 L511.67 321.95 L513.84 324.3 L516.58 326.26 L519.89 327.87 L523.73 329.16 L529.58 330.47 L568.32 336.28 L579.13 337.16 L589.95 337.54 L600.69 339.07 L614.19 342.49 L616.4 340.35 L605.68 333.18 L597.16 328.43 L582.76 322.26 L572.18 317.23 L559.13 312.76 L554.46 310.86 L548.53 307.59 L544.26 304.32 L541.54 301.66 L538.98 298.62 L536.66 295.31 L534.66 291.81 L531.54 284.61 L524.96 265.86 M524.96 265.86 L522.99 261.35 L520.91 257.97 L519.75 256.8 L518.62 256.1 L517.52 255.78 L516.46 255.81 L515.45 256.15 L514.49 256.81 L512.76 259.22 L511.26 263.17 L509.94 268.97 L509.21 275.77 L509.2 287.46 L508.29 304.28 L508.35 311.17 L509.09 315.99 L510.18 319.13 L512.43 322.69 L514.75 324.91 L517.65 326.75 L522.33 328.7 L526.4 329.81 L532.48 330.95 L569.1 336.32 L579.72 337.07 L590.24 337.34 L600.43 338.66 L614.11 342.17 L617.86 340.58 L607.02 333.38 L598.28 328.42 L591.75 325.44 L583.52 322.11 L573.7 317.51 L555.86 311.16 L549.81 307.99 L545.48 304.82 L542.71 302.24 L540.08 299.26 L537.68 295.98 L534.64 290.73 L532.29 285.32 L527.33 270.92 L525.02 264.87 M525.02 264.87 L523.08 260.56 L521.02 257.4 L519.86 256.33 L518.73 255.7 L517.62 255.43 L516.56 255.49 L514.59 256.54 L512.86 258.96 L511.37 262.93 L510.04 268.77 L509.3 275.64 L509.29 287.33 L508.39 304.08 L508.44 310.97 L509.16 315.79 L510.22 318.94 L512.41 322.52 L514.69 324.75 L517.51 326.62 L522.08 328.59 L526.06 329.73 L531.99 330.88 L566.73 336.02 L575.97 336.8 L589.82 337.13 L598.59 337.94 L612.56 341.51 L620.19 341.33 L609.5 334.37 L600.26 328.87 L593.35 325.6 L581.89 320.93 L574.18 317.38 L560.79 312.77 L555.94 310.88 L551.33 308.52 L546.93 305.5 L544.1 303.02 L541.4 300.14 L538.89 296.91 L535.67 291.7 L532.46 284.5 L528.09 271.78 L525.16 264.09 M525.16 264.09 L523.23 259.93 L521.19 256.93 L520.03 255.92 L518.89 255.34 L517.78 255.1 L516.36 255.28 L514.43 256.55 L512.74 259.19 L511.28 263.36 L510.16 268.45 L509.39 275.39 L509.38 287.04 L508.5 303.68 L508.51 310.58 L509.18 315.44 L510.19 318.62 L512.3 322.24 L514.5 324.5 L517.23 326.4 L521.67 328.42 L525.53 329.59 L531.29 330.79 L559.77 335.1 L569.36 336.25 L579.11 336.82 L594.84 337.12 L607.69 339.84 L620.43 342.17 L614.84 337.21 L604.44 330.54 L596.59 326.46 L583.49 321.12 L573.7 316.81 L561.35 312.65 L556.41 310.74 L551.74 308.34 L547.3 305.25 L544.46 302.72 L541.75 299.77 L539.23 296.49 L536.01 291.23 L532.81 284.03 L528.41 271.26 L525.44 263.55 M525.44 263.55 L523.51 259.44 L521.47 256.52 L520.31 255.54 L519.16 254.98 L518.04 254.75 L516.61 254.93 L514.66 256.16 L512.96 258.69 L511.48 262.8 L510.33 267.88 L509.5 274.92 L509.49 286.44 L508.58 304.32 L508.66 311.13 L509.41 315.89 L510.48 319 L512.66 322.53 L514.91 324.74 L517.67 326.59 L522.12 328.56 L527.32 330.04 L533.14 331.13 L559.16 335.02 L568.07 336.09 L576.8 336.62 L596.07 336.86 L609.11 339.74 L621.85 341.67 L615.44 336.65 L604.99 330.02 L597.16 325.98 L574 316.46 L557.81 310.89 L553.01 308.55 L548.49 305.51 L545.6 303 L542.83 300.08 L540.25 296.79 L536.91 291.51 L533.6 284.32 L529.12 271.47 L526.06 263.49 M526.06 263.49 L524.08 259.22 L522.03 256.2 L520.85 255.19 L519.69 254.59 L518.55 254.33 L517.09 254.44 L515.1 255.55 L513.36 257.84 L511.85 261.72 L510.47 267.62 L509.59 275.55 L509.61 286.28 L508.71 304.06 L508.77 310.86 L509.48 315.63 L510.51 318.75 L512.62 322.31 L514.79 324.54 L517.47 326.42 L521.76 328.42 L526.78 329.94 L533.86 331.3 L556.94 334.75 L566.91 335.92 L577.66 336.45 L595.3 336.27 L606.49 338.21 L620.29 341.17 L620.31 338.01 L608.97 331.1 L600.34 326.34 L593.99 323.48 L576.46 316.66 L558.12 310.33 L553.22 307.84 L548.65 304.58 L545.75 301.89 L542.99 298.77 L540.44 295.32 L537.21 289.93 L534.73 284.53 L529.48 269.76 L526.39 261.95 M526.39 261.95 L524.05 257.29 L522.04 254.93 L520.86 254.17 L519.69 253.76 L518.55 253.65 L517.09 253.95 L515.75 254.71 L514.81 255.59 L513.15 258.26 L511.71 262.54 L510.58 267.78 L509.79 274.96 L509.74 287.87 L508.84 305.91 L508.99 311.21 L509.74 315.89 L511.25 319.89 L512.92 322.45 L515.89 325.3 L517.7 326.49 L520.77 328.03 L524.23 329.29 L528.02 330.31 L534.9 331.6 L556.29 334.75 L564.86 335.66 L573.34 336.05 L581.53 335.91 L592.98 335.22 L598.84 335.21 L610.66 337.58 L624.85 339.25 L622.63 335.84 L602.23 324.71 L595.9 321.9 L591.28 320.15 L559.66 309.41 L554.48 306.76 L551.31 304.49 L548.28 301.76 L545.41 298.55 L542.74 294.93 L539.33 289.34 L536.03 282.15 L531.27 268.92 L527.98 260.68 M527.98 260.68 L526.02 256.64 L523.96 253.92 L522.74 253.02 L521.53 252.5 L519.16 252.32 L516.98 253.18 L514.77 255.35 L513.18 258.4 L511.81 263.04 L510.78 268.54 L510.2 274.07 L510.11 286.87 L509.26 303.12 L509.19 308.57 L509.6 313.5 L510.33 316.78 L511.47 319.69 L513.02 322.24 L515.02 324.44 L517.43 326.31 L520.23 327.89 L524.47 329.58 L532.85 331.66 L551.69 334.51 L561.55 335.18 L565.83 335.04 L569.92 334.53 L573.67 333.63 L576.1 332.71 L578.57 331.18 L579.6 329.86 L579.81 328.92 L579.56 327.96 L578.82 326.98 L577.56 325.98 L573.51 323.91 L561.23 319.08 L554.62 315.91 L551.41 313.92 L548.24 311.55 L545.13 308.7 L542.12 305.36 L537.98 299.5 L535.63 295.26 L533.69 290.98 L532.13 286.77 L527.85 272.78 L525.49 265.94 M525.49 265.94 L523.48 260.99 L521.4 257.36 L520.24 256.13 L519.1 255.39 L517.99 255.03 L516.91 255 L515.88 255.29 L514.91 255.89 L513.16 258.04 L511.63 261.82 L510.25 267.61 L509.37 275.49 L509.41 287.29 L508.59 304.05 L508.69 310.92 L509.47 315.72 L510.58 318.85 L512.84 322.4 L515.17 324.6 L517.03 325.87 L520.26 327.48 L526.7 329.51 L532.66 330.66 L560.24 334.92 L573.44 336.4 L591.26 336.9 L601.44 338.23 L615.19 341.75 L618.82 339.99 L607.82 332.84 L599.02 327.86 L592.47 324.87 L581.62 320.51 L574.02 317.05 L560.42 312.42 L555.57 310.49 L550.97 308.06 L546.59 304.94 L543.77 302.38 L541.1 299.43 L538.63 296.16 L535.49 290.92 L532.37 283.73 L525.63 264.8 M525.63 264.8 L523.63 260.34 L521.56 257.09 L520.39 255.98 L519.24 255.32 L518.12 255.01 L517.04 255.02 L515.03 255.95 L513.27 258.11 L511.73 261.89 L510.33 267.65 L509.42 275.48 L509.41 287.19 L508.52 303.85 L508.56 310.73 L509.24 315.56 L510.27 318.72 L512.4 322.31 L514.6 324.56 L516.37 325.86 L519.45 327.52 L523.01 328.87 L526.99 329.96 L532.87 331.07 L559.47 335.06 L566.22 335.93 L574.69 336.61 L592.43 336.88 L602.86 338.36 L616.61 341.83 L619.3 339.63 L608.18 332.53 L599.43 327.58 L592.94 324.62 L584.74 321.42 L574.31 316.9 L556.93 310.82 L552.21 308.44 L547.75 305.38 L544.89 302.86 L542.15 299.93 L539.61 296.65 L536.34 291.39 L533.1 284.19 L528.66 271.39 L525.66 263.57 M525.66 263.57 L523.72 259.4 L521.67 256.43 L520.5 255.43 L519.35 254.85 L518.22 254.61 L516.78 254.76 L514.81 255.95 L513.1 258.38 L511.61 262.41 L510.44 267.46 L509.52 275.37 L509.51 287.11 L508.64 303.71 L508.66 310.57 L509.33 315.4 L510.33 318.56 L512.42 322.16 L514.57 324.42 L517.25 326.33 L521.57 328.35 L526.64 329.89 L532.35 331.02 L557.72 334.83 L568.47 336.1 L577.1 336.57 L595.87 336.67 L608.47 339.32 L621.6 341.55 L616.79 337.05 L606.08 330.27 L598.04 326.05 L574.27 316.34 L557.88 310.71 L553.05 308.32 L548.51 305.21 L545.62 302.64 L542.85 299.66 L540.28 296.32 L536.98 290.99 L533.72 283.8 L529.22 270.91 L526.15 262.99 M526.15 262.99 L524.19 258.82 L522.14 255.9 L520.96 254.94 L519.8 254.36 L518.66 254.12 L517.2 254.25 L515.83 254.88 L514.88 255.67 L513.19 258.17 L511.71 262.28 L510.55 267.41 L509.65 275.39 L509.64 287.22 L508.73 305.21 L508.92 311.86 L509.77 316.48 L510.92 319.49 L512.54 322.12 L515.47 325.05 L517.27 326.28 L520.35 327.85 L523.85 329.14 L527.72 330.18 L534.8 331.48 L559.25 335.08 L567.23 335.92 L574.68 336.3 L593.98 335.96 L602.63 336.79 L616.91 340.44 L624.68 339.09 L613.11 332.95 L603.5 327.27 L596.45 323.91 L575.77 315.98 L558.62 310.14 L553.64 307.63 L550.53 305.51 L546.11 301.55 L543.34 298.36 L540.78 294.84 L537.56 289.4 L535.1 284.01 L529.8 269.16 L527.25 262.67 M527.25 262.67 L524.78 257.49 L522.74 254.85 L521.55 253.99 L520.37 253.49 L519.21 253.3 L517.72 253.47 L516.66 253.92 L515.36 254.9 L513.63 257.27 L512.14 261.18 L510.76 267.19 L509.88 275.3 L509.85 287.23 L508.95 305.1 L509.13 311.71 L509.95 316.3 L511.52 320.22 L513.23 322.72 L516.23 325.51 L519.02 327.21 L522.2 328.63 L529.55 330.72 L549.79 333.93 L559.8 335.19 L566.46 335.69 L574.39 335.8 L581.81 335.44 L596.01 334.19 L602.08 334.24 L614.82 337.03 L629.13 337.14 L623.95 333.64 L603.48 323.11 L592.67 318.7 L567.35 310.81 L561.53 308.75 L556.05 306.09 L552.75 303.73 L549.66 300.87 L546.74 297.49 L544.03 293.68 L540.62 287.92 L538.06 282.51 L532.41 267.19 L529.04 258.96 M529.04 258.96 L527.15 255.15 L525.47 252.92 L523.39 251.46 L520.92 251.03 L518.58 251.63 L516.17 253.46 L514.42 255.89 L512.93 259.56 L511.35 266.58 L510.45 274.96 L510.37 287.05 L509.42 307.26 L509.83 313.43 L510.83 317.69 L512.52 321.3 L513.62 322.88 L515.61 324.98 L519.72 327.81 L524.62 329.94 L528.91 331.23 L533.36 332.23 L547.27 334.48 L553.59 334.93 L555.78 334.66 L556.56 334.15 L556.46 333.61 L555.72 332.95 L553.06 331.69 L538.28 327.47 L532.68 325.3 L529.85 323.77 L527.09 321.87 L523.33 318.23 L520.24 313.62 L518.01 308.17 L516.56 302.18 L514.08 285.94 M514.08 285.94 L513.17 282.35 L512.18 279.74 L510.85 277.48 L509.3 276.14 L507.98 276.05 L506.75 277.15 L506.03 278.86 L505.49 281.82 L502.75 310.45 L502.56 317.54 L503.1 321.28 L504.3 324.53 L506.16 327.36 L508.82 329.75 L512.54 331.64 L515.65 332.62 L519.27 333.4 L525.72 334.21 L542.22 335.27 L548.31 336.07 L587.23 343.14 L600.93 346.05 L605.9 345.31 L596.51 338.95 L588.16 334.32 L577.02 328.6 L572.09 325.5 L571.06 324.62 L570.45 323.56 L571.24 322.27 L571.23 321.53 L569.77 320.34 L566.51 318.88 L554.87 314.72 L549.23 312.29 L543.64 309.04 L539.54 305.71 L536.95 303 L534.56 299.91 L532.45 296.51 L530.65 292.91 L528.49 287.32 L524.59 274.88 L522.52 269.04 M522.52 269.04 L520.67 264.61 L518.64 261.04 L516.8 259.22 L515.08 258.76 L513.47 259.5 L511.74 261.93 L510.28 265.7 L509.03 271.16 L508.51 275.85 L508.45 288.14 L507.44 305.41 L507.53 312.38 L508.1 316.07 L509.17 319.33 L510.8 322.16 L513.05 324.57 L514.92 325.95 L518.29 327.68 L522.3 329.06 L526.94 330.13 L545.72 332.69 L569.11 336.64 L577.76 337.61 L591.69 338.77 L605.52 341.8 L615.6 343.39 L606.69 336.72 L597.43 331.15 L581.3 323.79 L570.87 318.1 L556.75 313.1 L550.93 310.62 L546.68 308.26 L542.53 305.22 L539.87 302.73 L537.36 299.86 L535.09 296.68 L533.11 293.26 L530.02 286.07 L523.74 267.7 M523.74 267.7 L521.81 263.2 L519.75 259.64 L517.87 257.83 L516.79 257.37 L515.75 257.31 L514.76 257.61 L513.82 258.29 L512.37 260.35 L510.86 264.12 L509.53 269.69 L508.82 276.2 L508.83 286.66 L507.84 304.86 L507.91 311.8 L508.71 316.62 L509.88 319.75 L511.6 322.47 L513.91 324.78 L516.83 326.69 L520.37 328.25 L524.47 329.48 L529.11 330.43 L545.12 332.64 L568.68 336.45 L576.29 337.24 L586.95 337.86 L596.63 338.96 L610.34 342.35 L616.19 341.88 L605.78 334.7 L596.96 329.64 L581.91 322.99 L571.93 317.88 L558.48 313.16 L553.95 311.35 L548.13 308.29 L543.9 305.25 L539.88 301.37 L537.42 298.33 L535.21 295.01 L533.3 291.51 L531 286.1 L526.21 271.91 L524.01 266.04 M524.01 266.04 L522.1 261.78 L520.07 258.54 L518.92 257.43 L517.81 256.79 L516.74 256.54 L515.7 256.65 L514.73 257.1 L513.8 257.9 L512.38 260.15 L510.91 264.14 L509.63 269.9 L509.02 275.72 L508.97 288.42 L508.03 305.53 L508.2 312.33 L509.1 317.03 L510.35 320.08 L512.13 322.72 L514.48 324.96 L517.44 326.82 L520.96 328.33 L525.01 329.53 L531.16 330.73 L543.22 332.37 L561.34 335.34 L569.95 336.51 L577.43 337.16 L587.83 337.62 L597.07 338.58 L610.9 342.03 L617.64 341.84 L607.18 334.69 L598.19 329.45 L591.43 326.29 L582.87 322.73 L572.25 317.54 L555.03 311.39 L549.1 308.32 L544.83 305.27 L540.75 301.38 L538.24 298.33 L535.98 295 L534.03 291.5 L531.67 286.1 L524.53 265.78 M524.53 265.78 L522.6 261.42 L520.54 258.13 L519.39 257.01 L518.27 256.34 L517.18 256.07 L516.13 256.13 L515.13 256.52 L514.19 257.24 L512.48 259.85 L511.02 263.92 L509.75 269.76 L509.14 275.66 L509.09 288.42 L508.17 305.47 L508.35 312.25 L509.25 316.94 L510.48 319.97 L512.23 322.61 L514.55 324.85 L517.45 326.71 L520.89 328.23 L524.84 329.45 L530.82 330.68 L567.31 336.15 L577.55 337.05 L595.14 337.91 L608.94 341.16 L619.44 342.52 L610.17 335.97 L600.59 330.07 L593.37 326.53 L581.36 321.51 L572.73 317.37 L559.75 312.91 L555.04 311.04 L550.53 308.74 L546.19 305.8 L542.04 302.03 L539.44 299.04 L537.08 295.75 L535.03 292.28 L531.82 285.08 L527.53 272.46 L524.66 264.85 M524.66 264.85 L522.74 260.65 L520.7 257.56 L519.55 256.52 L518.42 255.92 L517.33 255.68 L516.27 255.78 L515.27 256.19 L514.33 256.92 L512.62 259.49 L511.15 263.57 L510.02 268.57 L509.24 275.42 L509.2 288.14 L508.29 305.1 L508.43 311.89 L509.28 316.6 L510.46 319.67 L512.16 322.33 L514.4 324.6 L517.2 326.5 L520.54 328.05 L524.37 329.3 L530.17 330.57 L567.39 336.12 L577.21 336.93 L592.91 337.43 L605.38 339.85 L618.24 342.65 L614.33 338.13 L603.93 331.36 L595.98 327.19 L582.69 321.65 L573.34 317.29 L560.06 312.74 L555.29 310.84 L550.73 308.47 L546.37 305.44 L543.56 302.96 L540.88 300.08 L538.41 296.86 L535.23 291.66 L532.07 284.45 L527.74 271.79 L524.85 264.21 M524.85 264.21 L522.94 260.11 L520.91 257.13 L519.75 256.14 L518.62 255.57 L517.52 255.35 L516.46 255.46 L514.51 256.59 L513.07 258.55 L511.54 262.39 L510.33 267.28 L509.34 275.09 L509.3 287.71 L508.45 303.09 L508.41 310.07 L509 315.01 L509.95 318.25 L511.39 321.09 L513.36 323.53 L516.83 326.21 L521.23 328.28 L526.47 329.82 L532.42 330.96 L567.17 336.06 L576.46 336.8 L590.5 337.1 L599.87 338.12 L613.77 341.72 L619.73 340.85 L608.81 333.77 L599.76 328.49 L593.01 325.33 L584.48 321.93 L574.14 317.28 L560.63 312.65 L555.77 310.73 L551.16 308.33 L546.76 305.25 L543.94 302.73 L541.25 299.8 L538.76 296.54 L535.58 291.3 L532.42 284.09 L525.67 265.08 M525.67 265.08 L523.66 260.54 L521.57 257.21 L520.4 256.07 L519.26 255.39 L518.14 255.06 L517.05 255.06 L515.04 255.96 L513.28 258.1 L511.74 261.85 L510.33 267.59 L509.41 275.43 L509.4 287.11 L508.52 303.76 L508.54 310.65 L509.22 315.49 L510.23 318.66 L512.35 322.27 L514.55 324.53 L517.29 326.42 L521.72 328.43 L525.57 329.6 L531.3 330.8 L559.56 335.07 L568.99 336.21 L578.48 336.78 L593.24 336.95 L604.66 338.89 L618.12 342.06 L617.66 338.8 L606.74 331.74 L598.33 327.14 L574.08 316.87 L556.74 310.8 L550.53 307.47 L546.14 304.13 L543.35 301.4 L540.71 298.28 L538.3 294.88 L535.3 289.56 L532.99 284.15 L528.57 271.36 L525.58 263.58 M525.58 263.58 L523.64 259.42 L521.59 256.47 L520.42 255.48 L519.27 254.9 L518.15 254.67 L516.72 254.83 L514.75 256.03 L513.05 258.5 L511.56 262.56 L510.4 267.62 L509.5 275.51 L509.49 287.29 L508.61 303.94 L508.66 310.78 L509.36 315.58 L510.39 318.73 L512.51 322.31 L514.7 324.55 L516.45 325.84 L519.49 327.5 L522.99 328.85 L526.9 329.94 L532.65 331.06 L556.4 334.63 L564.48 335.71 L572.04 336.37 L578.34 336.63 L591.71 336.58 L600.12 337.29 L614.23 340.94 L622.68 340.47 L602.19 328.26 L595.14 324.87 L575.02 316.72 L562.27 312.44 L557.19 310.51 L552.42 308.05 L547.92 304.86 L545.05 302.24 L542.31 299.2 L539.79 295.82 L536.57 290.5 L533.4 283.29 L528.92 270.43 L525.89 262.68 M525.89 262.68 L523.98 258.67 L521.94 255.87 L520.76 254.94 L519.6 254.41 L518.47 254.19 L517.01 254.37 L515.03 255.56 L513.31 257.93 L511.81 261.9 L510.45 267.85 L509.65 274.96 L509.6 287.77 L508.69 305.88 L508.83 311.21 L509.59 315.93 L510.66 319.01 L512.82 322.52 L515.03 324.71 L516.78 325.98 L519.8 327.61 L523.25 328.95 L527.08 330.02 L534.14 331.37 L558.71 335 L566.69 335.89 L574.13 336.32 L593.37 336.07 L601.69 336.77 L615.93 340.44 L624.62 339.48 L613.29 333.4 L603.59 327.61 L596.45 324.18 L575.7 316.13 L558.71 310.35 L553.74 307.89 L549.13 304.64 L546.21 301.96 L543.43 298.84 L540.85 295.36 L537.58 289.95 L534.37 282.75 L529.78 269.74 L526.66 261.84 M526.66 261.84 L524.3 257.13 L522.29 254.75 L521.1 253.98 L519.92 253.57 L518.77 253.45 L517.31 253.72 L515.95 254.46 L515 255.32 L513.32 257.89 L511.86 262.07 L510.56 268.2 L509.83 275.36 L509.81 287.29 L508.9 305.2 L509.1 311.8 L509.93 316.39 L511.53 320.3 L513.26 322.8 L516.3 325.57 L518.14 326.74 L521.23 328.23 L524.7 329.46 L528.48 330.45 L533.89 331.49 L549 333.77 L560.81 335.29 L567.95 335.81 L576.73 335.88 L598.21 334.62 L607.74 335.92 L622.49 338.73 L627.67 336.17 L615.21 330.61 L605.54 325.17 L598.54 321.93 L589.67 318.62 L562.14 309.66 L556.67 307.21 L553.33 305.08 L548.7 300.98 L545.82 297.63 L543.16 293.88 L539.81 288.22 L537.29 282.82 L531.73 267.62 L528.42 259.51 M528.42 259.51 L526.52 255.7 L524.86 253.5 L522.81 252.08 L520.37 251.63 L518.08 252.22 L515.72 254.06 L514.02 256.6 L512.56 260.55 L511.2 266.75 L510.4 273.32 L510.24 287.14 L509.31 306.11 L509.39 310.03 L509.75 313.63 L510.48 316.88 L511.6 319.76 L513.73 323.05 L515.07 324.47 L517.41 326.34 L522.08 328.82 L527.47 330.65 L536.83 332.59 L547.52 334.24 L553.06 334.84 L557.15 334.97 L559.9 334.78 L561.95 334.29 L563.06 333.49 L563.12 332.71 L562.43 331.78 L559.58 329.99 L554.91 328.03 L543.78 323.98 L538.08 321.25 L533.7 318.35 L529.55 314.48 L525.96 309.59 L524.03 305.82 L522.49 301.75 L520.8 295.41 L518.44 283.89 L517.3 279.44 M517.3 279.44 L516.12 275.94 L514.57 272.53 L513.13 270.34 L511.49 269.1 L510.88 269.03 L510.02 269.33 L508.74 270.76 L507.54 273.58 L506.86 276.79 L506.27 290.67 L504.83 308.96 L504.83 314.68 L505.38 318.5 L506.54 321.84 L508.38 324.71 L511 327.12 L513.26 328.46 L515.96 329.59 L522.68 331.26 L546.63 333.87 L567.9 337.86 L580.51 339.78 L593.1 342.04 L605.94 344.72 L606.07 341.92 L596.43 335.7 L575.14 324.82 L572.21 322.8 L571.23 321.72 L570.55 320.47 L569.52 319.62 L566.72 318.3 L554.35 313.96 L548.81 311.63 L543.3 308.52 L539.27 305.34 L536.72 302.74 L534.36 299.76 L532.27 296.47 L530.49 292.96 L528.33 287.48 L522.39 269.44 M522.39 269.44 L520.53 265.03 L518.51 261.44 L516.67 259.59 L514.94 259.12 L513.34 259.88 L511.61 262.32 L510.16 266.08 L508.93 271.5 L508.44 276.12 L508.36 288.48 L507.32 305.85 L507.44 312.78 L508.04 316.44 L509.16 319.67 L510.84 322.47 L513.14 324.85 L515.05 326.21 L518.49 327.91 L522.59 329.26 L527.31 330.29 L544.35 332.55 L570.82 336.95 L586.93 338.4 L598.81 340.33 L611.78 343.42 L611.46 340.32 L601.31 333.56 L593.23 329.28 L579.58 323.14 L570.36 318 L556.15 312.99 L550.36 310.47 L546.13 308.06 L542 304.95 L539.36 302.41 L536.88 299.5 L534.65 296.27 L532.72 292.83 L529.71 285.62 L523.5 267.43 M523.5 267.43 L521.6 263.05 L519.55 259.61 L517.68 257.88 L516.61 257.46 L515.58 257.44 L514.59 257.79 L513.66 258.52 L512.22 260.67 L510.73 264.52 L509.44 270.12 L508.81 275.82 L508.79 287.19 L507.84 304.09 L507.83 311.12 L508.52 316.04 L509.61 319.25 L511.22 322.04 L513.43 324.42 L516.26 326.4 L519.7 328.02 L523.73 329.3 L528.3 330.3 L544.28 332.51 L567.42 336.3 L574.73 337.13 L592.35 338.32 L605.98 341.28 L617.12 343.28 L608.99 336.97 L599.43 331.04 L592.12 327.46 L580 322.17 L571.19 317.62 L557.51 312.86 L553.02 310.99 L548.67 308.7 L544.43 305.78 L540.37 302.03 L537.86 299.07 L535.59 295.8 L533.62 292.34 L530.56 285.13 L524.18 266.68 M524.18 266.68 L522.24 262.24 L520.18 258.82 L519.04 257.63 L517.92 256.92 L516.84 256.62 L515.81 256.68 L514.82 257.08 L513.89 257.84 L512.46 260.01 L510.97 263.92 L509.66 269.63 L509.01 275.47 L508.97 288.01 L507.98 306.49 L508.14 311.91 L508.98 316.68 L510.16 319.77 L511.89 322.46 L514.18 324.74 L517.07 326.64 L520.54 328.19 L524.55 329.42 L529.06 330.38 L544.49 332.56 L569.21 336.43 L576.52 337.12 L594.52 338.19 L608.36 341.42 L618.42 342.73 L609.02 336.01 L599.59 330.26 L592.45 326.8 L580.61 321.75 L572.43 317.66 L558.43 312.79 L553.84 310.9 L549.42 308.56 L545.13 305.59 L541.04 301.78 L538.5 298.78 L536.21 295.48 L534.22 292 L531.12 284.8 L524.63 266.18 M524.63 266.18 L522.67 261.7 L520.6 258.31 L519.45 257.13 L518.33 256.43 L517.23 256.12 L516.18 256.16 L515.18 256.53 L514.24 257.22 L512.52 259.78 L511.05 263.8 L509.91 268.74 L509.13 275.52 L509.09 288.2 L508.16 305.21 L508.31 312.02 L509.17 316.74 L510.38 319.81 L512.1 322.46 L514.39 324.73 L517.25 326.61 L520.67 328.15 L524.6 329.39 L530.56 330.63 L570.04 336.46 L577.2 337.04 L594.39 337.85 L608.03 340.96 L619.26 342.72 L610.76 336.44 L601.03 330.38 L593.68 326.73 L581.45 321.61 L572.78 317.43 L559.87 312.98 L555.16 311.13 L549.19 307.96 L544.9 304.8 L542.15 302.22 L539.55 299.26 L537.17 295.99 L534.18 290.75 L531.86 285.34 L527.56 272.7 L524.69 265.05 M524.69 265.05 L522.33 260 L520.33 257.25 L519.18 256.34 L518.07 255.85 L516.98 255.72 L515.95 255.91 L514.04 257.24 L512.63 259.49 L511.16 263.55 L509.87 269.41 L509.23 275.38 L509.19 288.07 L508.24 306.45 L508.41 311.82 L509.25 316.55 L510.43 319.62 L512.79 323.09 L515.21 325.24 L518.19 327.03 L521.7 328.48 L525.69 329.64 L530.11 330.56 L567.45 336.13 L577.34 336.95 L593.32 337.49 L618.75 342.69 L613.59 337.71 L603.33 331.08 L595.52 327.03 L582.48 321.6 L573.24 317.29 L559.99 312.74 L555.22 310.84 L550.67 308.48 L546.31 305.45 L543.51 302.97 L540.83 300.09 L538.36 296.88 L535.18 291.68 L532.02 284.47 L525.35 265.56 M525.35 265.56 L523.35 261.01 L521.27 257.62 L520.1 256.45 L518.96 255.75 L517.85 255.42 L516.78 255.42 L515.75 255.74 L514.79 256.35 L513.04 258.61 L511.51 262.45 L510.14 268.22 L509.33 275.14 L509.29 287.79 L508.35 306.06 L508.49 311.46 L509.28 316.21 L510.4 319.31 L512.68 322.82 L515.02 325 L516.89 326.26 L520.13 327.85 L526.59 329.85 L532.56 330.98 L560.25 335.16 L573.54 336.64 L591.67 337.16 L602.46 338.77 L616.04 342.18 L617.78 339.74 L606.86 332.59 L598.28 327.81 L591.91 324.93 L583.86 321.73 L573.87 317.21 L560.34 312.58 L555.5 310.65 L550.91 308.22 L546.52 305.11 L543.71 302.56 L541.03 299.62 L538.56 296.34 L535.41 291.09 L532.29 283.88 L525.56 264.94 M525.56 264.94 L523.57 260.47 L521.49 257.19 L520.32 256.07 L519.18 255.4 L518.06 255.09 L516.97 255.1 L514.97 256.03 L513.22 258.22 L511.68 262.01 L510.29 267.78 L509.39 275.59 L509.39 287.34 L508.5 304.04 L508.55 310.91 L509.26 315.72 L510.31 318.86 L512.47 322.44 L514.71 324.67 L517.49 326.54 L521.97 328.52 L525.86 329.68 L531.64 330.85 L567.12 336.03 L576 336.7 L595.95 337.18 L609.36 340.26 L621.47 341.96 L613.64 336.33 L603.52 329.93 L595.92 326.08 L583.26 320.96 L573.58 316.72 L561.15 312.54 L556.21 310.61 L551.55 308.17 L547.12 305.03 L544.28 302.45 L541.58 299.47 L539.08 296.16 L535.9 290.89 L532.75 283.68 L525.93 264.59 M525.93 264.59 L523.92 260.09 L521.84 256.83 L520.66 255.72 L519.51 255.05 L518.38 254.74 L516.93 254.8 L514.94 255.88 L513.21 258.18 L511.7 262.08 L510.33 267.95 L509.51 274.99 L509.47 287.71 L508.55 305.87 L508.68 311.24 L509.44 315.99 L510.53 319.08 L512.73 322.6 L514.99 324.8 L517.77 326.64 L522.22 328.59 L527.42 330.06 L533.24 331.15 L559.15 335.03 L568 336.07 L576.64 336.6 L595.4 336.76 L621.03 341.73 L616.69 337.31 L605.98 330.49 L597.92 326.24 L574.18 316.47 L557.95 310.89 L554.7 309.4 L551.6 307.62 L547.14 304.3 L544.3 301.59 L541.61 298.46 L539.15 295.04 L536.06 289.7 L533.68 284.3 L529.19 271.44 L526.12 263.44 M526.12 263.44 L523.71 258.39 L521.69 255.75 L520.52 254.89 L519.37 254.41 L518.24 254.25 L516.8 254.49 L514.84 255.78 L513.14 258.27 L511.66 262.38 L510.35 268.4 L509.61 275.45 L509.6 287.28 L508.69 305.3 L508.88 311.95 L509.75 316.57 L510.91 319.58 L512.55 322.2 L515.52 325.11 L517.34 326.34 L520.46 327.9 L524 329.18 L527.92 330.21 L533.6 331.27 L558.24 334.93 L566.2 335.85 L573.62 336.33 L579.76 336.43 L592.68 336.15 L600.47 336.67 L614.62 340.3 L624.75 339.9 L613.94 334.05 L604.04 328.05 L596.75 324.49 L575.72 316.26 L558.86 310.53 L553.89 308.12 L549.28 304.94 L546.35 302.31 L543.56 299.24 L540.96 295.81 L537.64 290.42 L534.38 283.22 L529.8 270.23 L526.67 262.24 M526.67 262.24 L524.29 257.39 L522.26 254.93 L521.08 254.13 L519.91 253.69 L518.76 253.55 L517.29 253.8 L515.93 254.53 L514.99 255.37 L513.3 257.93 L511.84 262.09 L510.53 268.21 L509.8 275.36 L509.78 287.28 L508.88 305.19 L509.07 311.8 L509.91 316.4 L511.5 320.32 L513.24 322.81 L516.31 325.59 L518.15 326.75 L521.27 328.24 L524.76 329.47 L528.57 330.45 L534.03 331.48 L550.71 333.99 L561.46 335.35 L568.93 335.89 L575.73 335.99 L597.19 334.91 L606.29 336 L620.93 339.19 L627.39 336.88 L615.1 331.3 L605.36 325.72 L598.29 322.41 L589.34 319.04 L562.17 310.06 L556.73 307.69 L551.82 304.44 L548.77 301.7 L545.88 298.48 L543.19 294.83 L539.75 289.19 L536.42 281.99 L531.63 268.71 L528.29 260.4 M528.29 260.4 L526.34 256.36 L524.27 253.63 L522.23 252.34 L519.82 251.99 L517.57 252.67 L515.28 254.64 L513.64 257.36 L512.21 261.64 L511.08 267.02 L510.3 273.55 L510.16 287.38 L509.24 306.45 L509.43 311.6 L509.95 315.06 L510.86 318.16 L512.17 320.9 L513.28 322.52 L515.3 324.68 L516.87 325.94 L519.55 327.58 L524.71 329.73 L531.71 331.54 L548.92 334.28 L557.89 335.05 L562.39 334.95 L565.49 334.51 L567.91 333.73 L569.33 332.63 L569.55 331.61 L569.23 330.86 L568.5 330.06 L566.65 328.76 L562.87 326.88 L549.8 321.44 L545.47 319.24 L542.51 317.42 L538.05 313.98 L533.79 309.53 L530.09 304.07 L527.22 297.89 L525.15 291.46 L522.19 279.68 L520.35 273.49 M520.35 273.49 L518.6 268.78 L516.63 264.82 L515.19 263.04 L514.51 262.55 L513.52 262.3 L512.88 262.42 L511.97 262.99 L510.33 265.39 L509 269.04 L508.08 273.4 L507.74 277.55 L507.67 289.21 L506.56 307.05 L506.65 312.72 L507.21 316.51 L508.33 319.85 L510.06 322.73 L512.5 325.16 L514.56 326.53 L518.32 328.23 L521.28 329.14 L526.37 330.22 L543.22 332.26 L570.12 337.04 L591.26 339.71 L605.04 342.73 L611.81 342.9 L602.09 336.05 L593.39 331.18 L578.32 324.11 L574.44 321.83 L569.84 318.61 L566.39 317.17 L554.65 313.13 L550.45 311.38 L544.9 308.42 L540.83 305.42 L538.23 302.95 L535.8 300.11 L533.61 296.94 L531.71 293.53 L528.75 286.34 L522.73 268.43 M522.73 268.43 L520.86 264.11 L518.84 260.64 L516.99 258.89 L515.94 258.49 L514.92 258.51 L513.34 259.48 L511.63 262.14 L510.21 266.08 L509.02 271.65 L508.57 276.32 L508.49 288.95 L507.52 304.88 L507.56 311.89 L508.34 316.76 L509.51 319.93 L511.25 322.66 L513.6 324.99 L515.54 326.31 L518.99 327.98 L523.06 329.29 L527.74 330.31 L544.39 332.55 L569.61 336.72 L591.99 338.71 L605.81 341.76 L616.01 343.39 L607.14 336.73 L597.83 331.1 L590.71 327.68 L581.64 323.73 L570.93 318 L558.01 313.46 L552.12 311.06 L547.83 308.8 L543.64 305.9 L539.63 302.19 L537.15 299.25 L534.91 296.01 L532.98 292.55 L529.96 285.34 L523.7 267.09 M523.7 267.09 L521.79 262.71 L519.75 259.3 L517.87 257.59 L516.79 257.18 L515.75 257.15 L514.76 257.48 L513.82 258.19 L512.38 260.29 L510.88 264.1 L509.56 269.71 L508.89 275.48 L508.84 287.9 L507.84 306.41 L507.97 311.88 L508.79 316.68 L509.97 319.8 L511.7 322.5 L514.01 324.8 L516.94 326.7 L520.47 328.25 L524.56 329.48 L529.17 330.43 L545.05 332.63 L568.2 336.37 L575.56 337.15 L593.7 338.36 L607.52 341.53 L617.62 342.96 L608.4 336.24 L599.01 330.53 L591.88 327.09 L580.07 321.97 L572.23 317.91 L558.74 313.17 L552.7 310.68 L548.34 308.31 L544.11 305.27 L540.08 301.39 L537.6 298.35 L535.38 295.03 L533.47 291.53 L531.15 286.12 L526.34 271.9 L524.12 266 M524.12 266 L522.21 261.72 L520.96 259.53 L519.4 257.66 L517.55 256.57 L515.8 256.54 L514.19 257.45 L513.01 258.94 L511.68 261.8 L510.17 267.12 L509.14 273.95 L509.04 286.98 L508.12 303.74 L508.1 310.74 L508.53 314.5 L509.41 317.85 L510.78 320.78 L512.71 323.32 L515.21 325.45 L518.3 327.22 L521.95 328.65 L527.6 330.1 L568.7 336.35 L575.75 337.02 L592.07 337.82 L617.41 343.06 L612.22 337.97 L602.12 331.45 L594.39 327.48 L581.47 321.99 L572.81 317.71 L558.76 312.81 L554.14 310.92 L549.69 308.59 L545.4 305.62 L541.29 301.82 L538.74 298.81 L536.43 295.52 L534.42 292.03 L531.3 284.83 L524.78 266.14 M524.78 266.14 L522.81 261.63 L520.73 258.22 L519.58 257.03 L518.45 256.33 L517.35 256.01 L516.3 256.03 L515.29 256.38 L514.35 257.06 L512.62 259.55 L511.13 263.54 L509.98 268.47 L509.17 275.29 L509.13 287.87 L508.17 306.24 L508.32 311.66 L509.13 316.42 L510.28 319.52 L511.95 322.21 L514.17 324.51 L516.97 326.43 L521.55 328.46 L525.58 329.63 L531.63 330.81 L568.49 336.28 L579.15 337.11 L589.71 337.44 L599.85 338.73 L613.53 342.23 L617.52 340.78 L606.74 333.58 L598 328.61 L591.47 325.63 L583.22 322.26 L572.36 317.16 L559.17 312.65 L554.47 310.73 L549.98 308.33 L545.66 305.28 L542.88 302.77 L540.23 299.88 L537.8 296.65 L534.69 291.45 L531.6 284.24 L525.01 265.51 M525.01 265.51 L523.04 261.07 L520.98 257.75 L519.82 256.62 L518.68 255.94 L517.58 255.64 L516.51 255.67 L515.5 256.02 L514.55 256.68 L512.82 259.09 L511.32 263.04 L509.99 268.85 L509.25 275.68 L509.24 287.35 L508.34 304.13 L508.38 311.03 L509.1 315.86 L510.17 319.01 L512.39 322.58 L514.69 324.81 L517.54 326.67 L520.93 328.19 L524.8 329.41 L530.64 330.65 L567.96 336.18 L577.92 336.95 L594.26 337.5 L607.46 340.36 L619.7 342.57 L612.87 337.03 L602.78 330.59 L595.15 326.71 L582.42 321.44 L573.21 317.18 L559.81 312.59 L555.03 310.66 L550.48 308.25 L546.13 305.15 L543.33 302.62 L540.67 299.69 L538.21 296.43 L535.09 291.2 L531.98 283.99 L525.32 265.15 M525.32 265.15 L522.9 259.86 L520.87 256.98 L519.72 256.02 L518.59 255.48 L517.48 255.29 L516.43 255.42 L514.48 256.59 L512.77 259.13 L511.3 263.22 L510 269.13 L509.32 275.98 L509.31 287.86 L508.37 306.14 L508.52 311.52 L509.32 316.26 L510.45 319.35 L512.74 322.85 L515.08 325.02 L517.97 326.84 L522.61 328.75 L526.62 329.86 L532.56 330.98 L567.14 336.05 L576.35 336.78 L590.14 337.05 L598.9 337.86 L612.89 341.46 L620.51 341.2 L609.76 334.27 L600.49 328.76 L593.58 325.47 L582.1 320.83 L574.3 317.28 L560.73 312.63 L555.86 310.71 L551.24 308.3 L546.84 305.21 L544.01 302.68 L541.32 299.74 L538.83 296.47 L535.64 291.22 L532.48 284.02 L525.72 264.99 M525.72 264.99 L523.71 260.46 L521.63 257.14 L520.46 256 L519.31 255.32 L518.18 255 L516.75 255.06 L514.77 256.15 L513.05 258.53 L511.54 262.5 L510.2 268.38 L509.43 275.34 L509.39 288.17 L508.49 305.05 L508.65 311.79 L509.49 316.47 L510.65 319.52 L512.97 322.97 L515.32 325.12 L517.19 326.35 L520.4 327.92 L526.76 329.9 L532.61 331.02 L559.09 335 L565.75 335.87 L574.06 336.57 L591.09 336.84 L599.89 337.66 L613.92 341.3 L621.36 340.75 L601.1 328.4 L594.17 325.11 L582.67 320.54 L574.61 316.99 L557.27 310.95 L552.53 308.6 L548.04 305.59 L545.17 303.11 L542.42 300.21 L539.86 296.96 L536.54 291.71 L533.25 284.52 L528.8 271.71 L525.78 263.8 M525.78 263.8 L523.81 259.53 L521.76 256.49 L520.59 255.47 L519.43 254.86 L518.3 254.6 L517.21 254.65 L515.84 255.16 L514.88 255.87 L513.16 258.25 L511.66 262.24 L510.48 267.27 L509.53 275.19 L509.52 286.86 L508.65 303.39 L508.65 310.29 L509.28 315.15 L510.25 318.34 L512.28 321.98 L514.4 324.27 L517.03 326.2 L521.3 328.26 L526.34 329.81 L532 330.96 L557.24 334.76 L567.8 336.04 L579.61 336.61 L593.73 336.55 L604.27 338.12 L618.11 341.49 L620.31 339 L609.01 332.01 L600.22 327.06 L593.73 324.09 L574.72 316.49 L561.78 312.17 L556.71 310.18 L551.95 307.62 L547.47 304.3 L544.62 301.58 L541.91 298.45 L539.43 295.01 L536.32 289.65 L533.93 284.25 L529.42 271.37 L526.32 263.31 M526.32 263.31 L524.33 259.01 L522.27 255.99 L521.09 254.98 L519.92 254.38 L518.78 254.11 L517.31 254.2 L515.94 254.8 L514.98 255.57 L513.27 257.99 L511.79 262.03 L510.61 267.12 L509.67 275.13 L509.62 288.04 L508.75 304.77 L508.89 311.47 L509.68 316.15 L510.78 319.2 L512.98 322.67 L515.21 324.84 L516.97 326.09 L520.01 327.7 L523.46 329.02 L527.29 330.08 L532.86 331.18 L555.18 334.53 L564.27 335.65 L573.56 336.26 L579.46 336.33 L591.54 335.95 L597.87 336.06 L610.61 338.87 L624.03 340.39 L618.54 336.14 L607.59 329.44 L599.47 325.19 L593.51 322.61 L576.53 316.2 L559.4 310.42 L554.36 307.99 L549.7 304.78 L546.75 302.11 L543.94 299 L541.33 295.52 L538 290.08 L534.74 282.89 L530.12 269.84 L526.96 261.81 M526.96 261.81 L524.58 257.01 L522.55 254.59 L521.36 253.81 L520.18 253.38 L519.02 253.25 L517.54 253.49 L516.5 253.99 L515.21 255.04 L513.51 257.51 L512.03 261.56 L510.85 266.74 L509.9 274.89 L509.84 287.84 L508.94 305.81 L509.09 311.1 L509.82 315.77 L511.29 319.77 L512.92 322.33 L515.82 325.19 L518.53 326.95 L521.64 328.41 L525.1 329.61 L528.86 330.58 L535.59 331.81 L558.79 335.09 L566.97 335.7 L574.89 335.75 L582.28 335.33 L596.43 334.01 L602.51 334.07 L615.32 336.87 L629.67 336.83 L624.29 333.34 L603.75 322.89 L597.5 320.19 L592.92 318.47 L563.5 309.28 L557.84 306.84 L554.39 304.7 L551.2 302.04 L546.76 297.08 L544.06 293.22 L540.69 287.46 L538.17 282.04 L532.49 266.66 L529.14 258.52 M529.14 258.52 L527.27 254.82 L525.59 252.64 L523.5 251.21 L521.02 250.83 L518.67 251.47 L516.25 253.33 L514.5 255.76 L513.01 259.39 L511.42 266.4 L510.5 274.81 L510.41 286.88 L509.45 307.02 L509.83 313.22 L510.79 317.49 L512.43 321.13 L513.51 322.73 L515.45 324.85 L518.6 327.2 L523.27 329.5 L527.41 330.9 L531.75 331.98 L543.97 334.12 L551.35 334.94 L553.74 334.85 L554.88 334.37 L554.82 333.91 L554.15 333.34 L550.98 332 L537.31 328.54 L531.77 326.6 L528.97 325.21 L526.24 323.46 L522.48 320.09 L519.37 315.78 L517.75 312.42 L516.5 308.73 L515.24 302.82 L513.09 286.92 M513.09 286.92 L511.64 281.69 L510.69 279.74 L509.76 278.48 L508.6 277.63 L507.59 277.54 L506.75 278.05 L506.08 279.09 L505.12 283.2 L502.16 311.11 L501.93 318.14 L502.2 320.68 L502.75 323 L504.13 326.11 L505.41 327.95 L507.03 329.61 L509.08 331.07 L513.12 332.81 L518.32 334.07 L524.77 334.88 L541.52 335.84 L547.72 336.59 L587.4 343.84 L600.96 346.72 L605.07 345.59 L595.68 339.29 L576.47 329 L571.72 325.94 L570.37 324.48 L570.45 323.73 L571.77 322.35 L571.47 321.55 L570.73 320.93 L567.86 319.5 L555.09 314.87 L549.4 312.38 L543.77 309.03 L539.65 305.63 L537.05 302.86 L534.66 299.71 L532.55 296.27 L530.76 292.62 L528.61 287 L524.7 274.52 L522.62 268.67 M522.62 268.67 L520.76 264.26 L518.74 260.74 L516.9 258.95 L515.85 258.54 L514.84 258.56 L513.26 259.54 L511.56 262.22 L510.15 266.18 L509.1 270.93 L508.54 276.41 L508.55 286.76 L507.51 305.12 L507.59 312.11 L508.13 315.82 L509.17 319.1 L510.77 321.95 L512.97 324.38 L514.81 325.77 L518.12 327.53 L522.07 328.93 L526.64 330.02 L545.17 332.58 L567.76 336.41 L575.84 337.38 L587.63 338.26 L599.6 340.24 L612.54 343.33 L611.67 339.98 L601.5 333.24 L593.45 328.99 L579.88 322.94 L571.31 318.2 L567.08 316.53 L557.28 313.21 L551.43 310.77 L547.16 308.44 L543 305.46 L539.02 301.65 L536.59 298.65 L534.42 295.36 L532.55 291.87 L530.28 286.47 L526.16 274.04 L523.44 266.65 M523.44 266.65 L521.56 262.44 L519.54 259.18 L517.67 257.59 L516.6 257.23 L515.57 257.25 L514.59 257.64 L513.66 258.4 L512.22 260.61 L510.75 264.52 L509.47 270.17 L508.86 275.88 L508.84 287.33 L507.89 304.26 L507.9 311.26 L508.62 316.15 L509.72 319.34 L511.36 322.11 L513.58 324.47 L516.41 326.44 L519.86 328.04 L523.87 329.31 L528.42 330.31 L544.25 332.5 L570.28 336.63 L578.32 337.37 L590.21 338.03 L602.68 340.31 L615.38 343.26 L612.08 338.88 L601.92 332.23 L594.05 328.14 L580.85 322.41 L571.52 317.65 L557.78 312.86 L553.27 310.99 L547.46 307.8 L543.26 304.62 L540.58 302.02 L538.06 299.05 L535.78 295.79 L533.8 292.32 L530.72 285.12 L524.31 266.61 M524.31 266.61 L522.36 262.15 L520.3 258.71 L519.15 257.52 L518.03 256.81 L516.95 256.5 L515.91 256.55 L514.92 256.94 L513.98 257.67 L512.55 259.8 L511.05 263.69 L509.73 269.39 L509.02 276.05 L509.04 286.58 L508.07 304.69 L508.15 311.59 L508.94 316.39 L510.09 319.52 L511.76 322.23 L514 324.55 L515.82 325.87 L519.04 327.56 L525.61 329.67 L531.82 330.84 L543.89 332.47 L562.22 335.47 L574.68 336.95 L589.99 337.7 L601.37 339.5 L614.64 342.78 L614.9 339.87 L604.35 332.82 L596.06 328.32 L582.08 322.32 L571.94 317.37 L559.18 312.98 L554.54 311.13 L548.64 307.98 L544.38 304.83 L541.65 302.26 L539.07 299.31 L536.72 296.05 L533.76 290.82 L531.47 285.41 L527.21 272.83 L524.38 265.26 M524.38 265.26 L522.04 260.27 L520.05 257.52 L518.91 256.61 L517.8 256.13 L516.72 256.01 L515.7 256.23 L514.73 256.76 L513.81 257.63 L512.41 260 L510.96 264.13 L509.71 270.01 L509.14 275.88 L509.16 286.43 L508.21 304.45 L508.28 311.34 L509.04 316.15 L510.16 319.29 L512.45 322.83 L514.82 325.04 L517.76 326.87 L521.25 328.36 L525.24 329.55 L531.26 330.75 L567.94 336.22 L578.4 337.09 L588.59 337.42 L597.53 338.27 L611.43 341.78 L618.82 341.73 L608.31 334.65 L599.18 329.26 L592.33 326.03 L580.99 321.29 L572.53 317.26 L559.44 312.77 L554.74 310.87 L550.24 308.52 L545.9 305.52 L541.77 301.68 L539.2 298.64 L536.87 295.32 L534.84 291.83 L531.7 284.63 L525.1 265.81 M525.1 265.81 L523.11 261.28 L521.03 257.88 L519.87 256.71 L518.74 256 L517.63 255.68 L516.56 255.69 L515.55 256.02 L514.59 256.66 L512.85 259.02 L511.35 262.93 L510 268.72 L509.24 275.56 L509.24 287.17 L508.34 303.91 L508.36 310.83 L509.05 315.69 L510.1 318.86 L512.28 322.46 L514.55 324.71 L517.38 326.59 L520.75 328.13 L524.6 329.36 L530.42 330.62 L567.69 336.15 L577.57 336.94 L593.58 337.46 L619.03 342.64 L613.6 337.57 L603.35 330.96 L595.56 326.94 L582.56 321.54 L573.27 317.23 L559.93 312.66 L555.16 310.75 L550.61 308.35 L546.24 305.29 L543.44 302.78 L540.77 299.87 L538.31 296.64 L535.16 291.42 L532.03 284.21 L525.35 265.32 M525.35 265.32 L523.36 260.82 L521.28 257.49 L520.12 256.35 L518.98 255.66 L517.87 255.35 L516.79 255.36 L514.8 256.31 L513.05 258.57 L511.53 262.42 L510.16 268.2 L509.34 275.13 L509.31 287.79 L508.37 306.05 L508.51 311.44 L509.3 316.2 L510.41 319.29 L512.69 322.8 L515.03 324.99 L517.91 326.81 L522.54 328.73 L526.54 329.84 L532.49 330.97 L567.13 336.06 L576.37 336.79 L590.24 337.07 L599.21 337.95 L613.17 341.55 L620.25 341.1 L609.43 334.11 L600.24 328.67 L593.38 325.43 L581.99 320.83 L574.24 317.28 L560.7 312.64 L555.83 310.73 L551.22 308.32 L546.82 305.24 L543.99 302.71 L541.3 299.78 L538.81 296.51 L535.62 291.27 L532.46 284.07 L528.09 271.35 L525.16 263.72 M525.16 263.72 L523.25 259.65 L521.21 256.74 L520.05 255.76 L518.91 255.21 L517.8 254.99 L516.38 255.19 L514.45 256.48 L512.76 259.13 L511.31 263.31 L510.19 268.42 L509.42 275.37 L509.41 287.04 L508.53 303.66 L508.55 310.56 L509.21 315.41 L510.22 318.59 L512.32 322.21 L514.5 324.47 L517.22 326.38 L521.63 328.4 L525.46 329.58 L531.18 330.78 L566.01 335.9 L577.86 336.75 L591.96 336.88 L601.91 338.15 L615.76 341.71 L619.93 340.02 L608.79 332.95 L599.88 327.84 L593.26 324.78 L582.27 320.42 L574.38 316.94 L557.04 310.88 L550.81 307.6 L546.4 304.29 L543.59 301.58 L540.94 298.48 L538.52 295.09 L535.47 289.77 L533.14 284.37 L528.7 271.57 L525.69 263.71 M525.69 263.71 L523.74 259.49 L521.69 256.48 L520.52 255.47 L519.36 254.88 L518.24 254.63 L516.8 254.77 L514.83 255.94 L513.11 258.36 L511.62 262.38 L510.28 268.31 L509.52 275.33 L509.48 288.22 L508.59 305.06 L508.75 311.77 L509.59 316.44 L510.74 319.47 L513.03 322.92 L515.36 325.06 L518.19 326.86 L522.71 328.76 L527.95 330.19 L533.78 331.24 L559.6 335.09 L568.46 336.1 L577.11 336.58 L596.01 336.7 L608.75 339.43 L621.79 341.54 L616.45 336.9 L605.81 330.16 L597.84 325.99 L574.22 316.35 L557.85 310.73 L553.02 308.33 L548.49 305.23 L545.59 302.67 L542.83 299.69 L540.26 296.35 L536.96 291.03 L533.69 283.83 L529.2 270.95 L526.13 263.03 M526.13 263.03 L524.17 258.86 L522.12 255.94 L520.94 254.96 L519.78 254.39 L518.64 254.15 L517.18 254.28 L515.18 255.41 L513.44 257.68 L511.92 261.54 L510.71 266.55 L509.68 274.6 L509.63 287.26 L508.76 303.84 L508.81 310.65 L509.49 315.44 L510.49 318.58 L512.56 322.16 L514.68 324.41 L517.31 326.3 L521.53 328.33 L526.46 329.88 L533.42 331.27 L557.66 334.87 L567.51 335.95 L578.06 336.36 L595.03 336.01 L605.14 337.45 L619.25 340.78 L622.72 338.38 L601.97 326.57 L595.3 323.5 L577 316.49 L558.31 310.06 L553.36 307.52 L548.77 304.16 L545.86 301.38 L543.1 298.17 L540.57 294.64 L537.38 289.22 L534.95 283.82 L530.34 270.82 L527.13 262.55 M527.13 262.55 L524.68 257.45 L522.65 254.85 L521.46 254.01 L520.28 253.52 L519.12 253.34 L517.63 253.53 L516.58 253.99 L515.28 254.99 L513.57 257.4 L512.08 261.36 L510.72 267.4 L509.86 275.48 L509.83 287.48 L508.93 305.4 L509.14 311.97 L510 316.54 L511.62 320.42 L513.36 322.9 L516.43 325.65 L519.25 327.33 L522.47 328.72 L529.88 330.78 L551.6 334.18 L562.04 335.4 L569.17 335.81 L575.54 335.82 L583.42 335.39 L594.26 334.43 L599.66 334.3 L610.11 336.03 L624.95 338.05 L627.3 335.18 L614.77 329.53 L605.35 324.35 L598.53 321.26 L589.88 318.09 L562.03 309.17 L556.52 306.62 L553.19 304.38 L550.07 301.64 L547.12 298.39 L544.37 294.68 L540.83 288.9 L537.44 281.68 L532.55 268.27 L529.12 259.76 M529.12 259.76 L527.15 255.68 L525.47 253.32 L523.4 251.76 L520.93 251.23 L518.59 251.74 L516.17 253.49 L514.42 255.88 L512.92 259.51 L511.49 265.54 L510.51 273.09 L510.29 288.07 L509.42 304.41 L509.63 312.15 L510.19 315.54 L511.13 318.56 L512.99 322.04 L514.19 323.56 L516.31 325.56 L520.64 328.25 L525.72 330.26 L533.54 332.18 L548.68 334.56 L555.19 334.91 L557.51 334.56 L558.37 333.97 L558.3 333.35 L557.57 332.62 L554.85 331.2 L550.52 329.67 L539.84 326.47 L534.2 324.14 L531.33 322.53 L528.54 320.53 L524.7 316.72 L521.55 311.92 L519.26 306.29 L517.75 300.17 L514.97 284.02 M514.97 284.02 L513.97 280.51 L512.56 277.26 L511.19 275.29 L509.92 274.34 L508.53 274.32 L507.41 275.28 L506.59 276.92 L505.97 279.66 L505.18 290.92 L503.42 309.03 L503.2 316.24 L503.67 320.06 L504.79 323.4 L506.58 326.29 L509.15 328.74 L512.73 330.69 L515.73 331.71 L519.22 332.53 L525.42 333.41 L541.27 334.54 L547.11 335.27 L566.2 338.84 L579.41 341.04 L605.23 346.13 L603.46 342.54 L594.04 336.6 L576.3 327.43 L572.03 324.68 L570.75 323.33 L570.62 322.92 L570.93 321.35 L569.72 320.23 L565.74 318.46 L554.07 314.31 L548.47 311.86 L542.92 308.56 L538.87 305.18 L536.33 302.43 L534 299.32 L531.05 294.12 L528.77 288.6 L524.28 274.46 L522.24 268.77 M522.24 268.77 L520.4 264.49 L518.4 261.06 L516.57 259.34 L514.86 258.98 L513.27 259.83 L511.55 262.37 L510.12 266.21 L508.92 271.69 L508.46 276.31 L508.42 287.65 L507.41 304.8 L507.42 311.86 L508.2 316.77 L509.37 319.95 L511.12 322.7 L513.5 325.03 L515.46 326.36 L518.96 328.02 L521.66 328.93 L526.24 330.04 L544.99 332.6 L568.05 336.53 L576.42 337.53 L589.11 338.54 L602.27 341.08 L614.37 343.72 L608.97 338.44 L599.22 332.26 L591.65 328.46 L579.04 322.78 L571.05 318.26 L566.9 316.62 L557.19 313.33 L551.38 310.91 L547.12 308.62 L542.96 305.69 L538.99 301.92 L536.55 298.95 L534.36 295.69 L532.48 292.21 L530.19 286.81 L525.51 272.74 L523.36 266.97 M523.36 266.97 L521.49 262.71 L519.46 259.41 L517.59 257.77 L516.52 257.4 L515.49 257.41 L514.51 257.8 L513.59 258.57 L512.15 260.79 L510.68 264.69 L509.41 270.33 L508.81 276.01 L508.8 287.49 L507.83 304.47 L507.86 311.46 L508.61 316.33 L509.74 319.5 L511.4 322.26 L513.66 324.6 L516.54 326.55 L520.03 328.13 L524.1 329.39 L528.7 330.37 L544.71 332.57 L568.1 336.38 L575.58 337.19 L594.62 338.63 L608.49 341.92 L617 342.65 L607.09 335.64 L597.96 330.22 L591.03 326.94 L582.25 323.21 L572.05 317.97 L557.2 312.72 L552.72 310.83 L548.37 308.49 L544.14 305.51 L540.11 301.69 L537.62 298.69 L535.38 295.4 L533.45 291.92 L531.1 286.51 L524.08 266.36 M524.08 266.36 L522.16 262.01 L520.11 258.68 L518.97 257.54 L517.86 256.86 L516.78 256.59 L515.75 256.67 L514.76 257.1 L513.84 257.88 L512.41 260.1 L510.93 264.05 L509.64 269.79 L509.01 275.62 L508.96 288.24 L508.02 305.32 L508.17 312.15 L509.04 316.89 L510.26 319.95 L512.02 322.61 L514.35 324.87 L517.28 326.74 L520.78 328.27 L524.82 329.48 L530.95 330.7 L543.03 332.34 L569.71 336.49 L577.14 337.15 L587.43 337.62 L596.31 338.46 L610.19 341.88 L617.92 342.13 L607.63 335.04 L598.53 329.67 L591.66 326.44 L582.97 322.82 L572.29 317.59 L558.21 312.69 L553.62 310.78 L549.2 308.41 L544.93 305.4 L540.85 301.54 L538.32 298.51 L536.05 295.19 L534.09 291.7 L531.04 284.48 L524.56 265.94 M524.56 265.94 L522.61 261.54 L520.55 258.21 L519.4 257.07 L518.28 256.39 L517.19 256.1 L516.14 256.15 L515.14 256.54 L514.2 257.25 L512.49 259.84 L511.02 263.9 L509.89 268.85 L509.13 275.62 L509.12 287.18 L508.21 303.96 L508.23 310.91 L508.93 315.78 L509.98 318.96 L512.19 322.57 L514.51 324.82 L517.39 326.69 L520.83 328.21 L524.78 329.43 L530.76 330.67 L567.32 336.15 L577.61 337.06 L587.5 337.42 L595.42 337.97 L609.28 341.28 L619.36 342.44 L609.8 335.77 L600.3 329.95 L593.14 326.47 L581.25 321.5 L572.68 317.38 L559.72 312.92 L555.01 311.06 L550.51 308.75 L546.17 305.82 L542.02 302.06 L539.43 299.07 L537.06 295.79 L535 292.31 L531.8 285.12 L527.51 272.5 L524.64 264.89 M524.64 264.89 L522.72 260.69 L520.69 257.59 L519.53 256.55 L518.41 255.94 L517.31 255.71 L516.26 255.8 L515.26 256.21 L514.32 256.94 L512.61 259.53 L511.14 263.61 L510.01 268.61 L509.23 275.45 L509.19 288.18 L508.28 305.15 L508.43 311.93 L509.29 316.64 L510.47 319.7 L512.17 322.36 L514.42 324.63 L517.23 326.52 L520.58 328.07 L524.43 329.32 L530.24 330.58 L567.63 336.15 L577.57 336.96 L593.78 337.52 L619.23 342.66 L613.07 337.33 L602.92 330.82 L595.22 326.87 L582.37 321.54 L573.19 317.25 L559.9 312.7 L555.14 310.79 L550.59 308.41 L546.23 305.37 L543.43 302.87 L540.76 299.98 L538.29 296.76 L535.13 291.55 L531.99 284.34 L525.33 265.45 M525.33 265.45 L523.33 260.93 L521.25 257.57 L520.09 256.42 L518.95 255.73 L517.84 255.4 L516.76 255.41 L515.74 255.73 L514.78 256.36 L513.03 258.62 L511.51 262.48 L510.14 268.26 L509.33 275.18 L509.29 287.84 L508.35 306.13 L508.5 311.51 L509.29 316.26 L510.42 319.35 L512.71 322.86 L515.06 325.03 L516.94 326.28 L520.18 327.87 L526.64 329.86 L532.62 330.99 L560.3 335.17 L573.58 336.64 L591.72 337.16 L602.53 338.77 L616.11 342.18 L617.77 339.71 L606.85 332.56 L598.28 327.79 L591.91 324.91 L583.87 321.72 L573.88 317.2 L560.32 312.56 L555.49 310.63 L550.89 308.2 L546.51 305.08 L543.7 302.53 L541.02 299.57 L538.55 296.29 L535.4 291.04 L532.29 283.83 L525.56 264.89 M525.56 264.89 L523.57 260.43 L521.49 257.16 L520.32 256.05 L519.18 255.38 L518.06 255.08 L516.98 255.09 L514.97 256.02 L513.22 258.21 L511.68 262.01 L510.29 267.77 L509.4 275.59 L509.39 287.33 L508.5 304.04 L508.55 310.9 L509.26 315.71 L510.31 318.86 L512.48 322.43 L514.71 324.67 L517.49 326.54 L521.96 328.52 L525.85 329.67 L531.62 330.85 L567.03 336.02 L575.86 336.69 L595.5 337.13 L608.67 340.05 L621.13 342.04 L614.27 336.71 L604 330.18 L596.29 326.23 L583.42 321.01 L573.66 316.74 L561.23 312.55 L556.29 310.63 L551.62 308.19 L547.18 305.06 L544.34 302.49 L541.64 299.51 L539.14 296.2 L535.95 290.93 L532.79 283.72 L525.96 264.61 M525.96 264.61 L523.95 260.09 L521.86 256.82 L520.69 255.71 L519.54 255.04 L518.4 254.73 L516.95 254.79 L514.96 255.85 L513.23 258.14 L511.71 262.03 L510.34 267.9 L509.52 274.94 L509.5 286.49 L508.59 304.37 L508.68 311.17 L509.43 315.92 L510.51 319.02 L512.7 322.55 L514.94 324.76 L517.71 326.6 L522.14 328.57 L527.33 330.04 L533.13 331.13 L558.97 335 L567.75 336.05 L576.28 336.58 L594.47 336.69 L606.12 338.8 L619.61 341.74 L618.23 338.18 L607.23 331.19 L598.85 326.64 L592.67 323.9 L584.85 320.91 L574.38 316.52 L561.55 312.23 L556.51 310.24 L551.78 307.71 L547.31 304.42 L544.47 301.72 L541.77 298.61 L539.29 295.2 L536.17 289.86 L533.78 284.46 L529.28 271.59 L526.2 263.54 M526.2 263.54 L524.21 259.22 L522.15 256.16 L520.97 255.14 L519.81 254.53 L518.66 254.25 L517.2 254.35 L515.84 254.95 L514.89 255.72 L513.18 258.19 L511.7 262.26 L510.53 267.36 L509.62 275.33 L509.57 288.3 L508.7 305.1 L508.87 311.78 L509.71 316.42 L510.85 319.44 L513.12 322.87 L515.4 325.02 L517.2 326.25 L520.3 327.83 L523.82 329.13 L527.71 330.17 L533.37 331.24 L556.15 334.65 L565.75 335.81 L573.02 336.3 L579.01 336.42 L591.34 336.13 L597.95 336.31 L611.12 339.36 L624.09 340.6 L616.99 335.86 L606.35 329.26 L598.46 325.2 L592.67 322.72 L576.14 316.38 L559.3 310.67 L554.29 308.3 L549.65 305.17 L546.71 302.59 L543.89 299.56 L541.27 296.16 L537.9 290.76 L534.57 283.57 L529.99 270.58 L526.82 262.46 M526.82 262.46 L524.41 257.49 L522.38 254.96 L521.2 254.14 L520.02 253.68 L518.87 253.52 L517.4 253.74 L516.03 254.44 L515.08 255.26 L513.38 257.76 L511.91 261.86 L510.59 267.95 L509.82 275.13 L509.76 288.13 L508.9 304.8 L509.04 311.46 L509.83 316.1 L511.37 320.06 L513.07 322.59 L516.07 325.41 L517.88 326.59 L520.95 328.11 L524.4 329.36 L528.17 330.37 L534.99 331.64 L557.54 334.92 L566.09 335.73 L574.55 335.97 L582.71 335.69 L594.15 334.88 L600.14 334.9 L612.46 337.54 L626.66 338.5 L622.73 334.96 L602.45 324.09 L596.21 321.34 L591.65 319.63 L561.44 309.65 L556.05 307.16 L552.77 305 L548.18 300.87 L545.33 297.51 L542.69 293.77 L539.39 288.17 L536.91 282.77 L531.38 267.61 L528.12 259.61 M528.12 259.61 L526.23 255.86 L524.17 253.32 L522.13 252.15 L519.72 251.89 L517.49 252.66 L515.21 254.71 L513.58 257.5 L512.39 261.05 L511.06 267.29 L510.31 273.81 L510.17 287.75 L509.26 306.86 L509.38 310.73 L509.82 314.28 L510.63 317.46 L511.84 320.28 L514.1 323.49 L515.51 324.86 L517.96 326.67 L522.8 329.07 L529.53 331.1 L545.75 333.88 L555.63 334.96 L560.01 334.99 L563.04 334.69 L565.85 333.86 L566.98 332.83 L566.99 331.88 L566.53 331.17 L563.73 329.16 L559.95 327.38 L547.23 322.25 L541.48 319.27 L537.05 316.17 L532.77 312.09 L529 306.99 L526.93 303.09 L525.26 298.93 L523.37 292.51 L520.64 280.92 L519.35 276.34 M519.35 276.34 L517.65 271.56 L516.07 268.16 L514.61 265.99 L513.92 265.33 L512.93 264.84 L512.3 264.82 L511.39 265.21 L509.77 267.26 L508.47 270.61 L507.61 274.58 L507.31 278.45 L507.12 290.35 L505.96 307 L506.05 314.12 L506.71 317.84 L507.96 321.1 L509.87 323.9 L512.54 326.24 L514.8 327.54 L517.44 328.65 L520.48 329.57 L525.76 330.64 L546.06 333.01 L568.83 337.22 L591 340.37 L604.63 343.32 L610.07 342.89 L600.32 336.16 L591.8 331.49 L580.44 326.17 L574.94 323.15 L569.41 318.9 L566.17 317.51 L556.1 314.07 L550.53 311.86 L545 309.01 L540.93 306.13 L538.32 303.74 L535.85 300.97 L533.62 297.86 L531.67 294.48 L528.64 287.29 L522.63 269.24 M522.63 269.24 L520.76 264.81 L518.73 261.2 L516.88 259.33 L515.83 258.88 L514.81 258.87 L513.23 259.82 L511.52 262.45 L510.11 266.35 L508.92 271.87 L508.49 276.48 L508.4 289.15 L507.42 305.14 L507.47 312.14 L508.28 317 L509.48 320.15 L511.26 322.87 L513.67 325.18 L515.64 326.48 L519.17 328.13 L521.87 329.02 L526.45 330.11 L545.09 332.66 L567.9 336.53 L576.11 337.51 L588.31 338.44 L600.91 340.71 L613.49 343.62 L610.34 339.29 L600.37 332.8 L592.56 328.77 L579.47 322.91 L571.18 318.27 L567 316.61 L557.24 313.31 L551.41 310.87 L547.15 308.57 L542.98 305.61 L539.01 301.81 L536.57 298.83 L534.39 295.55 L532.51 292.06 L530.23 286.65 L525.55 272.58 L523.4 266.82 M523.4 266.82 L521.52 262.58 L519.49 259.3 L517.63 257.68 L516.56 257.32 L515.53 257.34 L514.55 257.72 L513.62 258.49 L512.19 260.71 L510.71 264.61 L509.44 270.25 L508.83 275.95 L508.82 287.42 L507.86 304.38 L507.88 311.37 L508.62 316.25 L509.73 319.43 L511.39 322.19 L513.63 324.54 L516.48 326.5 L519.95 328.09 L524 329.35 L528.57 330.34 L544.5 332.54 L567.57 336.31 L574.85 337.11 L592.31 338.26 L605.88 341.19 L617.22 343.28 L609.33 337.07 L599.71 331.08 L592.37 327.46 L580.16 322.15 L571.24 317.58 L557.47 312.78 L552.97 310.9 L548.61 308.58 L544.37 305.63 L540.32 301.84 L537.82 298.85 L535.56 295.57 L533.6 292.1 L530.57 284.88 L524.18 266.47 M524.18 266.47 L522.25 262.07 L520.2 258.7 L519.05 257.53 L517.94 256.84 L516.86 256.55 L515.82 256.62 L514.83 257.03 L513.9 257.78 L512.47 259.96 L510.98 263.89 L509.68 269.61 L509.03 275.46 L508.98 288.01 L508 306.47 L508.16 311.9 L509 316.66 L510.18 319.75 L511.9 322.44 L514.19 324.72 L517.07 326.62 L520.53 328.17 L524.52 329.41 L529.01 330.37 L568.83 336.38 L575.98 337.06 L592.88 337.95 L618.09 343.06 L610.91 337.21 L601.07 330.98 L593.58 327.22 L581.09 321.91 L572.64 317.71 L558.65 312.82 L554.04 310.94 L549.61 308.62 L545.32 305.66 L541.21 301.87 L538.66 298.88 L536.35 295.59 L534.35 292.11 L531.23 284.91 L524.72 266.23 M524.72 266.23 L522.75 261.72 L520.68 258.3 L519.52 257.11 L518.4 256.4 L517.3 256.08 L516.25 256.1 L515.24 256.46 L514.3 257.14 L512.57 259.65 L511.09 263.65 L509.95 268.58 L509.15 275.38 L509.11 288 L508.15 306.4 L508.31 311.8 L509.14 316.55 L510.31 319.64 L512 322.32 L514.25 324.6 L517.08 326.51 L520.46 328.07 L524.35 329.32 L530.26 330.58 L569.23 336.37 L576.12 336.96 L591.78 337.59 L603.97 339.81 L616.93 342.82 L614.18 338.69 L603.76 331.85 L595.73 327.61 L582.28 321.93 L573.16 317.55 L555.59 311.28 L549.59 308.17 L545.28 305.06 L542.52 302.52 L539.89 299.6 L537.49 296.35 L534.43 291.13 L532.07 285.73 L524.85 265.3 M524.85 265.3 L522.9 260.95 L520.84 257.72 L519.69 256.62 L518.56 255.97 L517.46 255.69 L516.4 255.75 L515.39 256.12 L514.44 256.81 L512.72 259.29 L511.23 263.3 L509.92 269.13 L509.22 275.93 L509.24 286.56 L508.3 304.58 L508.39 311.43 L509.17 316.21 L510.3 319.32 L512.59 322.84 L514.95 325.03 L517.87 326.85 L522.58 328.77 L526.66 329.87 L532.74 330.99 L569.21 336.32 L579.77 337.05 L590.18 337.29 L600.11 338.51 L613.86 342.05 L618.36 340.74 L607.5 333.55 L598.67 328.49 L592.07 325.45 L581.16 320.95 L573.8 317.48 L555.86 311.09 L549.8 307.89 L545.47 304.7 L542.7 302.09 L540.08 299.09 L537.68 295.79 L534.66 290.52 L532.32 285.12 L527.97 272.43 L525.05 264.68 M525.05 264.68 L522.68 259.62 L520.67 256.88 L519.52 255.98 L518.39 255.49 L517.29 255.34 L516.24 255.52 L514.32 256.78 L512.63 259.45 L511.18 263.63 L510.06 268.71 L509.32 275.59 L509.31 287.27 L508.42 304 L508.46 310.89 L509.16 315.72 L510.21 318.88 L512.39 322.46 L514.65 324.7 L517.46 326.57 L522 328.55 L525.95 329.7 L531.84 330.87 L561.33 335.32 L568.87 336.24 L578.8 336.9 L595.23 337.37 L608.61 340.4 L620.65 342.28 L613 336.56 L602.94 330.19 L595.37 326.36 L582.76 321.2 L573.35 316.96 L556.38 311 L551.74 308.67 L547.31 305.69 L544.47 303.23 L541.75 300.38 L539.22 297.17 L535.94 291.97 L532.68 284.78 L528.29 272.04 L525.33 264.24 M525.33 264.24 L523.38 260 L521.33 256.93 L520.17 255.89 L519.03 255.29 L517.91 255.03 L516.49 255.18 L514.54 256.4 L512.84 258.96 L511.37 263.07 L510.08 269.03 L509.39 275.92 L509.38 287.83 L508.45 306.06 L508.6 311.43 L509.39 316.17 L510.5 319.26 L512.76 322.76 L515.07 324.94 L517.91 326.76 L522.47 328.69 L527.81 330.13 L533.77 331.19 L565.41 335.84 L573.7 336.56 L590.6 336.87 L599.03 337.57 L613.07 341.18 L621.53 341.05 L601.38 328.68 L594.35 325.31 L582.68 320.65 L574.61 317.07 L557.38 311.06 L552.64 308.76 L548.16 305.79 L545.28 303.34 L542.53 300.49 L539.95 297.27 L536.6 292.04 L533.26 284.85 L528.19 270.29 L525.79 264.08 M525.79 264.08 L523.81 259.74 L521.75 256.63 L520.58 255.58 L519.43 254.96 L518.3 254.68 L516.85 254.79 L514.88 255.91 L513.15 258.28 L511.65 262.25 L510.3 268.16 L509.52 275.18 L509.47 288 L508.59 304.8 L508.72 311.55 L509.53 316.25 L510.65 319.31 L512.9 322.78 L515.2 324.95 L518.01 326.77 L522.5 328.69 L527.73 330.13 L533.55 331.2 L559.42 335.07 L568.28 336.09 L576.93 336.59 L595.81 336.73 L608.49 339.42 L621.54 341.62 L616.45 337.02 L605.81 330.26 L597.81 326.07 L574.19 316.4 L557.88 310.79 L553.06 308.42 L548.52 305.34 L545.63 302.8 L542.86 299.85 L540.29 296.53 L536.97 291.22 L533.68 284.03 L529.19 271.15 L526.12 263.2 M526.12 263.2 L523.73 258.22 L521.71 255.64 L520.54 254.8 L519.38 254.34 L518.25 254.18 L516.81 254.43 L514.85 255.74 L513.16 258.24 L511.68 262.35 L510.37 268.38 L509.63 275.44 L509.62 287.28 L508.7 305.29 L508.9 311.94 L509.77 316.56 L510.92 319.56 L512.56 322.18 L515.52 325.1 L517.33 326.32 L520.44 327.89 L526.53 329.89 L533.52 331.27 L554.53 334.42 L563.63 335.59 L572.93 336.28 L597.16 336.18 L609.66 338.84 L623.12 340.73 L618.56 336.58 L607.57 329.81 L599.39 325.5 L593.38 322.87 L576.4 316.38 L559.49 310.66 L554.45 308.29 L549.8 305.17 L546.85 302.58 L544.03 299.54 L541.4 296.13 L538.02 290.73 L534.68 283.53 L530.09 270.53 L526.91 262.39 M526.91 262.39 L524.93 258.17 L522.87 255.26 L521.68 254.29 L520.49 253.72 L519.33 253.46 L517.83 253.56 L516.77 253.95 L515.45 254.87 L513.71 257.14 L512.2 260.93 L510.79 266.86 L509.85 274.98 L509.79 287.94 L508.92 304.56 L509.05 311.24 L509.8 315.9 L511.31 319.89 L512.97 322.44 L515.92 325.29 L517.7 326.48 L520.74 328.02 L524.15 329.29 L527.88 330.32 L534.63 331.61 L558.43 335.04 L565.14 335.65 L573.16 335.92 L580.7 335.71 L595.24 334.64 L601.54 334.75 L614.65 337.75 L628.54 337.82 L610.42 327.72 L602.1 323.45 L591.61 319.21 L561.28 309.29 L555.88 306.72 L552.6 304.47 L549.51 301.74 L546.59 298.51 L543.85 294.84 L540.35 289.12 L536.98 281.92 L532.14 268.57 L528.74 260.13 M528.74 260.13 L526.77 256.04 L525.1 253.69 L523.05 252.14 L520.6 251.6 L518.29 252.1 L515.9 253.86 L514.17 256.31 L512.69 260.1 L511.3 266.21 L510.45 272.8 L510.23 287.64 L509.33 305.33 L509.66 312.97 L510.32 316.29 L511.36 319.24 L513.38 322.61 L514.67 324.08 L516.93 326 L521.49 328.58 L526.8 330.47 L534.93 332.28 L551.53 334.72 L555.75 334.97 L558.65 334.88 L561.38 334.37 L562.56 333.62 L562.68 332.87 L562.08 331.97 L559.38 330.24 L554.86 328.32 L542.51 323.84 L536.77 320.98 L532.42 317.91 L528.37 313.86 L524.97 308.79 L522.42 302.9 L520.67 296.59 L517.21 280.34 M517.21 280.34 L516.04 276.74 L514.5 273.24 L513.05 270.97 L511.41 269.64 L510.8 269.53 L509.93 269.78 L508.66 271.13 L507.47 273.85 L506.79 276.97 L506.16 290.85 L504.68 309.16 L504.68 314.88 L505.23 318.69 L506.4 322.02 L508.25 324.89 L510.88 327.3 L513.16 328.63 L515.88 329.75 L522.65 331.42 L546.86 334.01 L568.61 338.1 L582.01 340.12 L607.69 345.15 L604.04 340.73 L594.63 334.9 L581.28 328.31 L574.59 324.67 L571.96 322.77 L571.12 321.76 L570.55 320.55 L569.56 319.7 L566.79 318.39 L554.45 314.05 L548.9 311.73 L543.39 308.63 L539.35 305.47 L536.8 302.88 L534.43 299.91 L532.33 296.62 L530.53 293.11 L528.37 287.63 L522.41 269.54 M522.41 269.54 L520.55 265.11 L518.53 261.48 L516.68 259.61 L514.96 259.13 L513.36 259.87 L511.63 262.3 L510.17 266.04 L508.94 271.46 L508.44 276.08 L508.36 288.42 L507.32 305.77 L507.43 312.71 L508.03 316.38 L509.13 319.62 L510.8 322.43 L513.1 324.81 L515 326.17 L518.43 327.88 L522.52 329.24 L527.23 330.28 L544.26 332.53 L570.67 336.93 L586.65 338.38 L598.31 340.22 L611.38 343.35 L611.8 340.58 L601.61 333.75 L593.46 329.4 L579.66 323.19 L570.39 318.02 L556.2 313.01 L550.42 310.5 L546.18 308.1 L542.05 305.01 L539.41 302.48 L536.93 299.57 L534.69 296.35 L532.75 292.91 L529.73 285.7 L523.52 267.49 M523.52 267.49 L521.61 263.09 L519.57 259.64 L517.7 257.89 L516.62 257.47 L515.59 257.44 L514.6 257.78 L513.67 258.51 L512.23 260.66 L510.74 264.49 L509.44 270.09 L508.81 275.79 L508.79 287.14 L507.84 304.03 L507.82 311.07 L508.51 316 L509.59 319.22 L511.2 322.01 L513.4 324.39 L516.22 326.38 L519.65 328 L523.67 329.29 L528.24 330.29 L544.21 332.5 L564.24 335.84 L570.74 336.71 L592.04 338.29 L605.57 341.18 L617 343.34 L609.3 337.19 L599.67 331.18 L592.3 327.54 L580.06 322.21 L571.22 317.64 L557.56 312.88 L553.07 311.02 L548.71 308.73 L544.47 305.81 L540.42 302.08 L537.9 299.12 L535.63 295.86 L533.65 292.4 L530.58 285.2 L524.19 266.73 M524.19 266.73 L522.26 262.28 L520.2 258.84 L519.05 257.64 L517.93 256.93 L516.85 256.62 L515.82 256.68 L514.83 257.08 L513.9 257.83 L512.46 259.99 L510.97 263.9 L509.67 269.61 L509.01 275.45 L508.97 287.98 L507.98 306.44 L508.13 311.88 L508.97 316.65 L510.15 319.75 L511.86 322.43 L514.15 324.72 L517.04 326.62 L520.51 328.17 L524.51 329.41 L529.01 330.38 L544.44 332.55 L569.13 336.42 L576.42 337.11 L594.25 338.15 L608.05 341.34 L618.43 342.8 L609.26 336.18 L599.78 330.36 L592.59 326.86 L580.66 321.78 L572.45 317.67 L558.47 312.8 L553.88 310.91 L549.45 308.59 L545.17 305.62 L541.07 301.82 L538.53 298.82 L536.23 295.53 L534.24 292.05 L531.14 284.84 L524.64 266.21 M524.64 266.21 L522.68 261.73 L520.61 258.32 L519.46 257.14 L518.33 256.44 L517.24 256.12 L516.19 256.16 L515.19 256.52 L514.25 257.22 L512.53 259.76 L511.05 263.78 L509.91 268.72 L509.13 275.5 L509.09 288.17 L508.16 305.18 L508.31 311.99 L509.17 316.72 L510.36 319.78 L512.08 322.45 L514.37 324.71 L517.22 326.6 L520.64 328.15 L524.57 329.38 L530.52 330.63 L569.98 336.45 L577.12 337.04 L594.18 337.83 L607.75 340.88 L619.19 342.76 L610.97 336.59 L601.2 330.47 L593.8 326.79 L581.49 321.63 L572.8 317.44 L559.9 313 L555.2 311.15 L549.22 307.98 L544.93 304.83 L542.18 302.25 L539.57 299.29 L537.2 296.03 L534.2 290.79 L531.88 285.38 L527.58 272.74 L524.7 265.07 M524.7 265.07 L522.77 260.82 L520.72 257.67 L519.57 256.6 L518.44 255.98 L517.35 255.73 L516.29 255.81 L515.29 256.21 L514.35 256.92 L512.63 259.47 L511.16 263.53 L510.02 268.52 L509.23 275.37 L509.19 288.05 L508.24 306.42 L508.41 311.8 L509.25 316.53 L510.42 319.6 L512.1 322.27 L514.33 324.55 L517.12 326.46 L520.45 328.02 L524.29 329.28 L530.09 330.56 L567.41 336.13 L577.27 336.95 L593.19 337.48 L618.59 342.69 L613.77 337.83 L603.47 331.16 L595.63 327.08 L582.52 321.62 L573.26 317.3 L560.01 312.75 L555.24 310.85 L550.7 308.49 L546.34 305.47 L543.53 302.99 L540.85 300.12 L538.38 296.91 L535.2 291.71 L532.03 284.51 L527.72 271.85 L524.82 264.27 M524.82 264.27 L522.92 260.16 L520.88 257.18 L519.73 256.18 L518.6 255.61 L517.49 255.39 L516.44 255.49 L514.49 256.63 L512.77 259.14 L511.29 263.2 L510.14 268.21 L509.33 275.13 L509.29 287.77 L508.35 306.04 L508.49 311.44 L509.27 316.2 L510.39 319.3 L512.01 322 L514.17 324.31 L515.91 325.64 L518.98 327.35 L522.54 328.74 L526.56 329.84 L532.53 330.97 L560.22 335.15 L573.5 336.64 L591.59 337.16 L602.3 338.73 L615.9 342.16 L617.89 339.81 L606.96 332.66 L598.36 327.85 L591.96 324.96 L583.89 321.75 L573.89 317.22 L560.35 312.59 L555.52 310.66 L550.93 308.24 L546.54 305.13 L543.72 302.58 L541.04 299.64 L538.57 296.36 L535.42 291.12 L532.29 283.91 L525.57 264.96 M525.57 264.96 L523.57 260.48 L521.49 257.19 L520.32 256.08 L519.18 255.4 L518.06 255.09 L516.98 255.1 L514.97 256.03 L513.22 258.21 L511.68 262.01 L510.29 267.77 L509.39 275.58 L509.39 287.32 L508.5 304.03 L508.54 310.89 L509.26 315.71 L510.3 318.85 L512.47 322.43 L514.7 324.66 L517.48 326.53 L521.96 328.52 L525.84 329.67 L531.62 330.85 L567.1 336.03 L575.97 336.7 L595.89 337.18 L609.27 340.24 L621.43 341.97 L613.71 336.37 L603.57 329.96 L595.96 326.1 L583.28 320.97 L573.59 316.73 L561.16 312.54 L556.22 310.61 L551.56 308.18 L547.13 305.04 L544.29 302.47 L541.58 299.49 L539.09 296.18 L535.9 290.9 L532.75 283.7 L525.93 264.6 M525.93 264.6 L523.92 260.1 L521.84 256.83 L520.67 255.72 L519.51 255.06 L518.38 254.74 L516.93 254.81 L514.94 255.88 L513.21 258.17 L511.7 262.08 L510.33 267.95 L509.51 274.99 L509.47 287.7 L508.55 305.87 L508.68 311.24 L509.44 315.98 L510.53 319.08 L512.73 322.6 L514.99 324.8 L517.76 326.64 L522.21 328.59 L527.42 330.06 L533.23 331.15 L559.15 335.03 L568 336.07 L576.64 336.6 L595.41 336.76 L621.04 341.73 L616.67 337.3 L605.97 330.48 L597.9 326.23 L574.18 316.47 L557.95 310.89 L554.7 309.4 L551.59 307.62 L547.14 304.31 L544.3 301.59 L541.61 298.47 L539.15 295.05 L536.06 289.7 L533.68 284.3 L529.19 271.44 L526.12 263.44 M526.12 263.44 L523.71 258.39 L521.69 255.76 L520.52 254.9 L519.36 254.41 L518.24 254.25 L516.8 254.49 L514.84 255.78 L513.14 258.27 L511.66 262.38 L510.35 268.4 L509.61 275.45 L509.6 287.28 L508.69 305.3 L508.88 311.95 L509.75 316.57 L510.91 319.58 L512.55 322.2 L515.52 325.11 L517.34 326.34 L520.46 327.9 L524.01 329.18 L527.92 330.21 L533.61 331.27 L558.26 334.93 L566.22 335.85 L573.65 336.33 L579.81 336.43 L592.76 336.15 L600.65 336.7 L614.81 340.34 L624.68 339.85 L613.76 333.94 L603.91 327.99 L596.65 324.45 L575.7 316.26 L558.84 310.52 L553.87 308.11 L549.26 304.93 L546.33 302.29 L543.54 299.23 L540.94 295.8 L537.63 290.4 L534.37 283.21 L529.79 270.22 L526.66 262.23 M526.66 262.23 L524.28 257.39 L522.26 254.93 L521.07 254.14 L519.9 253.7 L518.75 253.56 L517.28 253.81 L515.92 254.53 L514.98 255.38 L513.3 257.94 L511.84 262.11 L510.53 268.23 L509.8 275.37 L509.78 287.3 L508.88 305.22 L509.07 311.83 L509.91 316.42 L511.51 320.33 L513.26 322.83 L516.32 325.6 L518.17 326.76 L521.29 328.25 L524.79 329.47 L528.6 330.46 L534.06 331.49 L550.75 334 L561.51 335.36 L569 335.89 L575.82 335.99 L597.48 334.92 L607.01 336.19 L621.63 339.21 L626.83 336.71 L614.51 330.97 L604.93 325.53 L597.97 322.29 L592.89 320.27 L562.07 310.03 L556.64 307.65 L551.74 304.4 L548.7 301.65 L545.81 298.41 L543.12 294.76 L539.69 289.13 L536.38 281.93 L531.59 268.64 L528.26 260.36 M528.26 260.36 L526.31 256.34 L524.24 253.62 L522.2 252.35 L519.8 252 L517.55 252.69 L515.26 254.66 L513.62 257.4 L512.19 261.69 L511.07 267.07 L510.3 273.6 L510.15 287.45 L509.23 306.53 L509.44 311.67 L509.97 315.13 L510.88 318.22 L512.2 320.95 L513.31 322.57 L515.34 324.72 L516.92 325.98 L519.61 327.61 L524.78 329.75 L531.8 331.55 L549.03 334.28 L558.02 335.05 L562.55 334.95 L565.68 334.5 L568.13 333.72 L569.59 332.61 L569.84 331.59 L569.54 330.83 L567.71 329.17 L564.3 327.32 L551.54 322 L545.78 319.16 L539.84 315.16 L536.89 312.54 L534.08 309.45 L530.36 304 L527.46 297.82 L525.37 291.39 L522.38 279.59 L520.53 273.35 M520.53 273.35 L518.77 268.6 L516.79 264.6 L515.35 262.79 L514.66 262.3 L513.66 262.02 L513.02 262.13 L512.11 262.69 L510.45 265.05 L509.11 268.7 L508.16 273.08 L507.79 277.28 L507.68 290.04 L506.65 306.51 L506.69 312.23 L507.2 316.06 L508.25 319.45 L509.91 322.37 L512.26 324.85 L514.26 326.26 L516.6 327.47 L519.31 328.5 L524.02 329.73 L529.5 330.64 L546.91 332.79 L572.64 337.36 L585.43 338.8 L598.45 341.16 L610.8 343.86 L607.41 339.46 L597.72 333.32 L577.18 323.38 L569.47 318.37 L555.21 313.29 L550.99 311.57 L545.43 308.68 L541.35 305.77 L538.73 303.37 L536.26 300.59 L534.02 297.47 L532.07 294.09 L529.02 286.93 L522.94 268.83 M522.94 268.83 L521.05 264.37 L519.01 260.77 L517.15 258.92 L516.09 258.46 L515.07 258.43 L513.48 259.31 L511.75 261.87 L510.31 265.75 L509.22 270.46 L508.59 276 L508.56 287.26 L507.57 304.25 L507.54 311.33 L508.23 316.28 L509.33 319.5 L510.99 322.3 L513.25 324.68 L515.12 326.04 L518.47 327.75 L522.46 329.12 L527.04 330.18 L545.47 332.71 L567.9 336.48 L575.89 337.41 L587.47 338.25 L599.09 340.08 L612.18 343.25 L612.45 340.4 L602.19 333.52 L594.02 329.15 L580.21 323 L571.41 318.19 L557.22 313.15 L551.36 310.67 L547.08 308.31 L542.91 305.27 L540.24 302.79 L537.71 299.92 L535.41 296.74 L533.41 293.32 L530.28 286.13 L523.95 267.65 M523.95 267.65 L522.01 263.09 L519.94 259.5 L518.05 257.67 L516.97 257.19 L515.92 257.11 L514.92 257.39 L513.98 258.03 L512.51 260.02 L510.99 263.74 L509.64 269.29 L508.88 275.87 L508.86 287.34 L507.91 304.26 L507.93 311.25 L508.65 316.14 L509.75 319.32 L511.39 322.09 L513.6 324.45 L516.43 326.42 L519.86 328.02 L523.86 329.29 L528.38 330.29 L544.14 332.49 L569.82 336.57 L577.65 337.3 L588.91 337.9 L600.25 339.65 L613.49 342.92 L614.17 340.21 L603.71 333.19 L595.43 328.69 L581.43 322.61 L571.74 317.68 L558 312.89 L553.47 311.03 L547.66 307.85 L543.45 304.68 L540.75 302.09 L538.22 299.13 L535.93 295.87 L533.93 292.41 L530.83 285.21 L524.4 266.65 M524.4 266.65 L522.45 262.15 L520.38 258.69 L519.22 257.49 L518.11 256.77 L517.02 256.45 L515.98 256.48 L514.98 256.86 L514.05 257.58 L512.6 259.67 L511.1 263.53 L509.77 269.22 L509.04 275.9 L509.03 287.53 L508.09 304.43 L508.15 311.35 L508.91 316.19 L510.02 319.34 L511.66 322.07 L513.86 324.41 L516.65 326.36 L520.02 327.96 L523.92 329.24 L529.88 330.52 L543.5 332.42 L567.02 336.15 L577.58 337.14 L587.9 337.58 L596.99 338.48 L610.84 341.94 L617.98 341.89 L607.54 334.77 L598.49 329.46 L591.69 326.27 L583.07 322.7 L572.32 317.49 L554.98 311.29 L549.05 308.18 L544.77 305.09 L542.03 302.57 L539.42 299.66 L537.04 296.43 L534.02 291.22 L531.68 285.81 L526.81 271.5 L524.54 265.53 M524.54 265.53 L522.61 261.22 L520.56 257.99 L519.41 256.89 L518.29 256.24 L517.2 255.98 L516.15 256.05 L515.15 256.45 L514.21 257.18 L512.5 259.79 L511.04 263.87 L509.77 269.72 L509.16 275.63 L509.12 288.4 L508.19 305.44 L508.37 312.21 L509.27 316.9 L510.49 319.93 L512.24 322.57 L514.55 324.81 L517.42 326.68 L520.85 328.21 L524.78 329.43 L530.73 330.66 L569.77 336.41 L576.74 336.98 L592.85 337.62 L618.24 342.83 L613.07 337.81 L602.88 331.22 L595.1 327.2 L582.1 321.75 L573.07 317.44 L560.1 312.97 L555.37 311.12 L549.37 307.94 L545.07 304.78 L542.32 302.19 L539.71 299.21 L537.32 295.93 L534.32 290.69 L532 285.28 L527.69 272.63 L524.79 264.94 M524.79 264.94 L522.86 260.69 L520.82 257.55 L519.66 256.49 L518.53 255.87 L517.43 255.62 L516.38 255.69 L515.37 256.09 L514.43 256.79 L512.71 259.31 L511.23 263.34 L510.08 268.32 L509.27 275.21 L509.23 287.83 L508.28 306.15 L508.42 311.55 L509.22 316.31 L510.36 319.4 L512 322.1 L514.19 324.4 L516.93 326.33 L521.43 328.37 L525.36 329.56 L531.26 330.76 L561.3 335.31 L569.08 336.3 L579.49 337.01 L589.62 337.24 L598.7 338.14 L612.61 341.71 L619.47 341.31 L608.74 334.23 L599.63 328.87 L592.81 325.66 L581.51 321.02 L573.98 317.49 L555.99 311.09 L549.92 307.88 L545.58 304.68 L542.8 302.07 L540.17 299.06 L537.77 295.76 L534.74 290.49 L532.4 285.08 L528.05 272.38 L525.11 264.62 M525.11 264.62 L522.74 259.55 L520.73 256.82 L519.57 255.92 L518.45 255.43 L517.35 255.28 L516.3 255.45 L514.37 256.7 L512.67 259.35 L511.22 263.51 L510.1 268.58 L509.34 275.48 L509.33 287.13 L508.44 303.82 L508.47 310.72 L509.15 315.57 L510.18 318.74 L512.32 322.35 L514.55 324.6 L517.33 326.49 L521.83 328.49 L525.75 329.65 L531.59 330.83 L568.11 336.16 L577.66 336.84 L592.53 337.13 L603.91 339.02 L617.33 342.25 L617.08 339.08 L606.24 332 L597.86 327.42 L591.64 324.65 L583.8 321.55 L573.85 317.09 L556.89 311.15 L550.71 307.97 L546.33 304.78 L543.52 302.17 L540.86 299.16 L538.41 295.85 L535.32 290.57 L532.93 285.17 L525.53 264.49 M525.53 264.49 L523.56 260.13 L521.49 256.96 L520.32 255.89 L519.18 255.26 L518.06 254.97 L516.98 255.01 L514.98 255.97 L513.23 258.18 L511.7 262 L510.3 267.79 L509.42 275.62 L509.41 287.4 L508.52 304.11 L508.58 310.95 L509.3 315.75 L510.36 318.89 L512.53 322.45 L514.76 324.68 L516.55 325.96 L519.66 327.6 L523.24 328.94 L527.24 330.01 L533.13 331.1 L561.88 335.39 L575.09 336.62 L593.18 336.89 L604.35 338.71 L617.91 341.96 L618.26 338.96 L607.25 331.88 L598.74 327.19 L574.19 316.82 L561.74 312.62 L556.76 310.72 L552.05 308.31 L547.59 305.21 L544.73 302.66 L542.01 299.7 L539.48 296.4 L536.24 291.12 L533.04 283.92 L528.61 271.12 L525.61 263.36 M525.61 263.36 L523.68 259.25 L521.64 256.34 L520.47 255.37 L519.32 254.81 L518.19 254.58 L516.76 254.75 L514.79 255.96 L513.08 258.41 L511.6 262.47 L510.43 267.53 L509.53 275.44 L509.52 287.21 L508.64 303.83 L508.68 310.68 L509.36 315.49 L510.38 318.64 L512.47 322.23 L514.64 324.48 L517.33 326.37 L521.66 328.39 L526.74 329.91 L532.44 331.04 L557.76 334.84 L568.48 336.1 L577.07 336.56 L595.62 336.62 L621.23 341.55 L617.38 337.32 L606.56 330.47 L598.41 326.15 L592.41 323.53 L574.37 316.34 L557.94 310.7 L553.1 308.3 L548.56 305.18 L545.66 302.61 L542.89 299.62 L540.32 296.27 L537.02 290.94 L533.76 283.74 L529.26 270.85 L526.18 262.93 M526.18 262.93 L524.23 258.77 L522.18 255.86 L521 254.89 L519.83 254.32 L518.69 254.08 L517.23 254.21 L515.86 254.84 L514.91 255.63 L513.21 258.12 L511.74 262.21 L510.57 267.34 L509.67 275.33 L509.62 288.33 L508.74 305.11 L508.92 311.78 L509.76 316.41 L510.89 319.43 L513.15 322.85 L515.41 325 L517.2 326.23 L520.27 327.82 L523.75 329.11 L527.6 330.16 L533.19 331.24 L557.2 334.81 L566.78 335.88 L574.05 336.27 L580.04 336.31 L592.4 335.91 L599.24 336.15 L612.82 339.44 L625.42 339.97 L616.8 335.07 L606.27 328.62 L598.51 324.69 L592.83 322.29 L576.32 316.09 L559.14 310.28 L554.11 307.81 L549.47 304.54 L546.53 301.83 L543.73 298.67 L541.15 295.17 L537.86 289.72 L534.65 282.53 L530.03 269.47 L526.88 261.53 M526.88 261.53 L524.53 256.85 L522.51 254.5 L521.32 253.75 L520.13 253.34 L518.98 253.22 L517.5 253.49 L516.13 254.22 L515.17 255.06 L513.48 257.57 L512.01 261.66 L510.68 267.77 L509.91 275 L509.84 287.99 L508.98 304.6 L509.11 311.25 L509.86 315.9 L511.36 319.88 L513 322.43 L515.92 325.27 L518.64 327.01 L521.76 328.46 L529 330.61 L547.75 333.65 L558.81 335.1 L566.92 335.69 L574.72 335.72 L581.97 335.31 L595.59 333.95 L601.1 333.85 L612.1 335.85 L627.06 337.13 L627.7 334.15 L615.09 328.6 L605.74 323.57 L594.07 318.65 L567.94 310.63 L562.06 308.57 L556.5 305.9 L553.16 303.53 L550.04 300.64 L547.11 297.22 L544.39 293.37 L540.98 287.56 L538.43 282.14 L532.73 266.74 L529.34 258.51 M529.34 258.51 L527.46 254.75 L525.78 252.53 L523.68 251.07 L521.19 250.67 L518.83 251.31 L516.39 253.15 L514.62 255.56 L513.12 259.1 L511.5 266.05 L510.55 274.5 L510.41 287.63 L509.48 307.86 L509.79 312.79 L510.69 317.12 L512.25 320.81 L513.29 322.43 L515.17 324.59 L518.24 327 L522.81 329.35 L530.07 331.65 L539.57 333.48 L549.91 334.92 L552.78 334.89 L553.82 334.46 L553.71 334.04 L553 333.51 L550.49 332.5 L536.12 329.08 L530.6 327.19 L527.84 325.82 L525.15 324.1 L521.47 320.78 L518.44 316.54 L516.87 313.23 L515.68 309.61 L514.48 303.78 L512.74 289.35 M512.74 289.35 L511.45 283.51 L509.95 280.23 L508.78 278.93 L507.73 278.49 L506.83 278.71 L505.94 279.79 L505.29 281.68 L504.83 284.4 L501.91 310.15 L501.52 318.6 L501.78 321.13 L502.33 323.43 L503.68 326.53 L504.94 328.37 L506.54 330.04 L508.55 331.51 L512.55 333.26 L517.73 334.53 L524.17 335.35 L541.06 336.24 L547.32 336.96 L587.34 344.28 L600.86 347.14 L604.65 345.87 L595.26 339.59 L576.18 329.3 L571.52 326.25 L570.25 324.8 L570.41 324.08 L571.66 323.18 L572.13 322.48 L571.72 321.64 L570.89 321 L567.82 319.52 L556.21 315.32 L550.48 312.88 L544.81 309.66 L540.64 306.39 L537.99 303.72 L535.51 300.65 L533.3 297.25 L531.41 293.63 L529.13 288 L523.04 269.27 M523.04 269.27 L521.14 264.63 L519.08 260.86 L517.22 258.9 L515.47 258.31 L513.85 258.88 L512.08 261.12 L510.57 264.77 L509.25 270.19 L508.6 275.78 L508.55 288.12 L507.52 306.82 L507.67 312.31 L508.24 315.99 L509.32 319.24 L510.94 322.07 L513.18 324.47 L515.04 325.85 L518.37 327.58 L522.34 328.97 L526.92 330.04 L545.37 332.6 L567.84 336.4 L575.85 337.34 L587.47 338.19 L599.16 340.05 L612.23 343.2 L612.3 340.26 L602.05 333.41 L593.9 329.07 L580.13 322.95 L571.38 318.15 L567.1 316.47 L557.24 313.13 L551.38 310.66 L547.11 308.31 L542.94 305.29 L538.97 301.44 L536.55 298.41 L534.39 295.11 L532.54 291.62 L530.29 286.21 L526.16 273.79 L523.44 266.43 M523.44 266.43 L522.01 263.15 L520.33 260.1 L518.79 258.27 L516.97 257.22 L515.25 257.27 L513.67 258.34 L512.51 260.03 L511.22 263.04 L509.79 268.45 L508.96 274.32 L508.86 287.32 L507.91 304.24 L507.85 309.9 L508.18 313.77 L508.95 317.24 L510.22 320.28 L512.04 322.91 L514.46 325.14 L517.49 326.99 L521.11 328.48 L525.29 329.66 L529.99 330.57 L544.13 332.49 L566.59 336.16 L577.71 337.31 L589.04 337.92 L600.53 339.73 L613.71 342.98 L613.92 340.06 L603.49 333.07 L595.25 328.63 L581.35 322.59 L571.71 317.68 L557.98 312.9 L553.45 311.03 L549.07 308.75 L544.82 305.83 L540.74 302.1 L538.21 299.14 L535.91 295.88 L533.92 292.42 L530.82 285.22 L524.39 266.66 M524.39 266.66 L522.43 262.16 L520.37 258.7 L519.22 257.5 L518.1 256.78 L517.01 256.46 L515.97 256.5 L514.98 256.88 L514.04 257.59 L512.6 259.69 L511.09 263.55 L509.76 269.24 L509.03 275.92 L509.02 287.55 L508.09 304.46 L508.15 311.38 L508.91 316.21 L510.03 319.36 L511.67 322.09 L513.88 324.43 L516.67 326.38 L520.05 327.97 L523.95 329.25 L529.92 330.53 L543.56 332.42 L567.13 336.16 L577.76 337.16 L588.2 337.6 L597.66 338.62 L611.45 342.09 L617.58 341.63 L607.02 334.45 L598.1 329.27 L591.39 326.15 L582.91 322.64 L572.26 317.47 L559.57 313.09 L554.92 311.27 L548.99 308.15 L544.71 305.06 L541.97 302.53 L539.37 299.61 L536.99 296.38 L533.98 291.16 L531.65 285.76 L526.78 271.46 L524.52 265.49 M524.52 265.49 L522.59 261.2 L520.54 257.98 L519.39 256.89 L518.27 256.25 L517.18 255.99 L516.13 256.07 L515.13 256.47 L514.2 257.2 L512.49 259.82 L511.03 263.91 L509.76 269.77 L509.15 275.67 L509.11 288.46 L508.19 305.51 L508.37 312.27 L509.28 316.95 L510.51 319.98 L512.27 322.61 L514.59 324.85 L517.48 326.71 L520.91 328.23 L524.85 329.45 L530.81 330.67 L544.16 332.55 L561.72 335.38 L569.96 336.44 L577 337 L593.46 337.67 L618.84 342.82 L612.28 337.28 L602.24 330.87 L594.62 327 L581.91 321.68 L572.99 317.42 L560 312.94 L555.27 311.09 L549.28 307.89 L544.98 304.71 L542.23 302.11 L539.62 299.12 L537.25 295.84 L534.26 290.59 L531.95 285.18 L527.64 272.53 L524.76 264.87 M524.76 264.87 L522.83 260.65 L520.79 257.53 L519.63 256.48 L518.5 255.87 L517.41 255.62 L516.35 255.71 L515.35 256.11 L514.4 256.82 L512.69 259.35 L511.21 263.4 L510.07 268.39 L509.26 275.27 L509.22 287.92 L508.28 306.25 L508.43 311.64 L509.24 316.39 L510.39 319.47 L512.05 322.16 L514.25 324.45 L517.01 326.37 L521.52 328.41 L525.46 329.58 L531.38 330.78 L566.51 336.01 L575.91 336.85 L590.22 337.26 L600.02 338.43 L613.8 341.98 L618.64 340.78 L607.77 333.61 L598.89 328.5 L592.26 325.44 L581.28 320.93 L573.86 317.44 L555.85 311.03 L551.27 308.71 L546.88 305.75 L544.05 303.32 L541.35 300.49 L538.83 297.31 L535.58 292.13 L532.34 284.94 L527.99 272.24 L525.06 264.52 M525.06 264.52 L522.7 259.5 L520.69 256.79 L519.54 255.91 L518.41 255.43 L517.31 255.29 L516.26 255.46 L514.34 256.73 L512.65 259.4 L511.19 263.59 L510.08 268.66 L509.33 275.56 L509.33 287.24 L508.43 303.96 L508.47 310.85 L509.17 315.68 L510.22 318.84 L512.38 322.43 L514.63 324.67 L517.43 326.54 L521.95 328.53 L525.88 329.68 L531.74 330.85 L561.01 335.27 L568.41 336.19 L578.08 336.86 L593.41 337.18 L605.57 339.48 L618.67 342.36 L615.72 338.23 L605.11 331.33 L597.01 327.02 L583.46 321.42 L573.69 317.03 L556.71 311.08 L550.54 307.87 L546.17 304.65 L543.37 302.02 L540.71 299 L538.28 295.67 L535.21 290.38 L532.85 284.98 L527.82 270.48 L525.46 264.35 M525.46 264.35 L523.5 260.04 L521.44 256.92 L520.28 255.87 L519.13 255.25 L518.01 254.98 L516.93 255.02 L514.94 256.01 L513.19 258.25 L511.67 262.09 L510.28 267.9 L509.42 275.72 L509.43 286.39 L508.52 304.28 L508.59 311.11 L509.33 315.89 L510.41 319.01 L512.6 322.55 L514.86 324.76 L517.65 326.61 L522.15 328.58 L526.03 329.72 L531.79 330.89 L566.9 336 L575.56 336.65 L594.28 336.95 L619.64 342.07 L616.52 337.93 L605.8 331.02 L597.66 326.69 L573.98 316.75 L561.49 312.55 L556.52 310.62 L551.83 308.19 L547.38 305.05 L544.53 302.47 L541.81 299.49 L539.3 296.17 L536.1 290.88 L532.93 283.68 L528.51 270.89 L525.53 263.2 M525.53 263.2 L523.62 259.16 L521.58 256.3 L520.41 255.35 L519.26 254.8 L518.13 254.59 L516.7 254.77 L514.74 256.01 L513.04 258.5 L511.56 262.59 L510.4 267.67 L509.52 275.56 L509.51 287.39 L508.63 304.05 L508.69 310.87 L509.4 315.66 L510.44 318.79 L512.57 322.35 L514.77 324.59 L517.48 326.46 L521.84 328.46 L526.96 329.96 L534.19 331.31 L558.09 334.88 L568.93 336.13 L577.68 336.58 L590.35 336.51 L597.24 336.76 L610.66 339.91 L623.05 341.22 L604.77 329.46 L597.08 325.55 L575.52 316.79 L557.62 310.57 L552.8 308.14 L548.28 304.98 L545.39 302.37 L542.64 299.34 L540.09 295.97 L536.84 290.64 L533.62 283.44 L529.13 270.55 L526.07 262.72 M526.07 262.72 L524.14 258.64 L522.09 255.8 L520.92 254.86 L519.75 254.31 L518.61 254.09 L517.15 254.24 L515.79 254.9 L514.85 255.7 L513.16 258.23 L511.69 262.38 L510.54 267.52 L509.66 275.5 L509.67 286.24 L508.77 303.98 L508.83 310.77 L509.53 315.54 L510.54 318.66 L512.62 322.22 L514.76 324.46 L517.39 326.35 L521.62 328.37 L526.55 329.9 L533.5 331.29 L557.6 334.86 L567.32 335.92 L577.66 336.33 L593.91 335.92 L602.32 336.66 L616.61 340.32 L625.05 339.13 L613.56 333.13 L603.86 327.36 L596.73 323.94 L591.52 321.83 L575.87 315.96 L558.67 310.1 L553.68 307.58 L549.06 304.24 L546.14 301.47 L543.37 298.27 L540.81 294.74 L537.6 289.3 L535.15 283.91 L529.84 269.04 L527.29 262.56 M527.29 262.56 L524.82 257.4 L522.78 254.78 L521.59 253.93 L520.41 253.44 L519.24 253.25 L517.75 253.42 L516.69 253.87 L515.39 254.85 L513.66 257.21 L512.17 261.11 L510.79 267.12 L509.89 275.24 L509.86 287.16 L508.96 305 L509.13 311.62 L509.94 316.22 L511.49 320.15 L513.19 322.66 L516.17 325.46 L518.94 327.17 L522.1 328.59 L529.4 330.7 L549.53 333.91 L560.94 335.3 L567.67 335.72 L575.73 335.71 L598.29 333.93 L605.82 334.45 L620.56 337.65 L631.54 335.83 L619.88 331.39 L609.14 325.48 L601.43 321.79 L595.82 319.48 L564.79 309.71 L559.05 307.4 L555.49 305.42 L553.83 304.24 L550.67 301.48 L547.7 298.21 L544.92 294.46 L541.36 288.59 L537.94 281.36 L533 267.87 L529.53 259.31 M529.53 259.31 L527.57 255.25 L525.89 252.88 L523.79 251.29 L521.71 250.79 L519.31 251.17 L516.8 252.77 L514.69 255.43 L513.18 258.88 L511.37 266.7 L510.5 275.08 L510.41 287.24 L509.46 307.44 L509.89 313.58 L510.9 317.8 L512.59 321.39 L513.69 322.96 L515.67 325.05 L518.86 327.37 L523.56 329.62 L527.71 330.99 L532.05 332.06 L545.01 334.29 L551.93 334.95 L553.99 334.76 L554.67 334.34 L554.53 333.87 L553.77 333.3 L551.15 332.2 L536.52 328.51 L530.96 326.48 L528.18 325.03 L525.48 323.21 L521.81 319.73 L518.82 315.32 L517.28 311.89 L516.12 308.16 L514.95 302.24 L513.11 287.97 M522.9 269.3 L521.01 264.71 L518.96 260.97 L517.11 259.03 L515.36 258.46 L513.74 259.07 L511.98 261.36 L510.49 265.03 L509.19 270.46 L508.56 275.99 L508.54 287.26 L507.56 304.28 L507.55 311.37 L508.26 316.32 L509.38 319.53 L511.07 322.32 L513.36 324.69 L515.26 326.05 L518.66 327.75 L522.71 329.1 L527.36 330.15 L546.01 332.71 L569.24 336.61 L577.79 337.55 L591.32 338.61 L605.05 341.56 L615.82 343.47 L607.49 337.03 L598.09 331.29 L590.87 327.79 L581.67 323.79 L570.95 318.02 L556.67 312.97 L552.28 311.15 L546.58 308.06 L542.43 304.96 L539.78 302.43 L537.28 299.53 L535.03 296.31 L533.07 292.88 L530.02 285.68 L523.74 267.37 M523.74 267.37 L521.82 262.93 L519.77 259.45 L517.89 257.69 L516.81 257.25 L515.77 257.2 L514.78 257.52 L513.84 258.21 L512.39 260.28 L510.88 264.07 L509.56 269.66 L508.85 276.19 L508.86 286.65 L507.87 304.85 L507.94 311.78 L508.75 316.6 L509.92 319.73 L511.63 322.44 L513.93 324.75 L516.84 326.67 L520.36 328.22 L524.45 329.46 L529.06 330.42 L544.97 332.61 L568.18 336.37 L575.57 337.16 L593.91 338.42 L607.76 341.63 L617.51 342.9 L608.08 336.1 L598.75 330.46 L591.67 327.05 L582.67 323.25 L572.18 317.92 L557.21 312.64 L552.71 310.72 L548.35 308.35 L544.12 305.33 L540.09 301.46 L537.6 298.43 L535.38 295.12 L533.46 291.62 L531.14 286.22 L524.11 266.09 M524.11 266.09 L522.2 261.79 L520.15 258.52 L519.01 257.39 L517.9 256.74 L516.82 256.48 L515.78 256.57 L514.8 257.01 L513.87 257.78 L512.45 260 L510.97 263.96 L509.67 269.71 L509.04 275.56 L508.99 288.18 L508.02 306.66 L508.19 312.07 L509.06 316.8 L510.27 319.88 L512.01 322.54 L514.32 324.8 L517.22 326.69 L520.7 328.22 L524.7 329.45 L529.2 330.4 L568.95 336.39 L576.09 337.06 L592.94 337.92 L618.18 343.04 L611.04 337.21 L601.19 330.97 L593.68 327.2 L581.17 321.89 L572.68 317.68 L558.62 312.78 L554.01 310.88 L549.57 308.55 L545.28 305.56 L541.18 301.75 L538.63 298.73 L536.33 295.43 L534.34 291.95 L531.24 284.74 L524.72 266.09 M524.72 266.09 L522.76 261.61 L520.69 258.21 L519.53 257.04 L518.41 256.34 L517.31 256.03 L516.26 256.06 L515.25 256.42 L514.31 257.11 L512.59 259.62 L511.1 263.63 L509.96 268.57 L509.16 275.37 L509.12 287.99 L508.16 306.39 L508.32 311.79 L509.15 316.54 L510.32 319.62 L512.01 322.3 L514.25 324.59 L517.07 326.5 L520.45 328.06 L524.33 329.31 L530.23 330.58 L568.95 336.33 L579.85 337.15 L590.89 337.51 L602.27 339.34 L615.58 342.62 L615.66 339.61 L605.01 332.54 L596.69 328 L582.69 322.06 L572.13 317.1 L555.76 311.32 L549.74 308.22 L545.43 305.13 L542.66 302.59 L540.03 299.68 L537.61 296.44 L534.54 291.22 L532.16 285.82 L524.92 265.35 M524.92 265.35 L522.96 260.97 L520.9 257.71 L519.74 256.6 L518.61 255.94 L517.51 255.66 L516.45 255.7 L515.44 256.07 L514.49 256.75 L512.76 259.19 L511.27 263.18 L509.95 269.01 L509.24 275.82 L509.26 286.41 L508.32 304.39 L508.39 311.26 L509.15 316.06 L510.25 319.18 L512.5 322.73 L514.84 324.94 L517.73 326.77 L521.15 328.28 L525.05 329.48 L530.93 330.7 L568.6 336.25 L575.01 336.8 L588.69 337.23 L596.79 337.83 L610.73 341.27 L620.21 341.97 L610.14 335.22 L600.68 329.47 L593.58 326.04 L581.78 321.19 L574.13 317.58 L556.23 311.21 L550.14 308.06 L545.8 304.91 L543.01 302.34 L540.37 299.37 L537.94 296.09 L534.87 290.84 L532.49 285.44 L525.18 264.89 M525.18 264.89 L523.22 260.53 L521.16 257.34 L520 256.25 L518.86 255.61 L517.75 255.33 L516.68 255.37 L514.71 256.39 L512.97 258.73 L511.46 262.65 L510.11 268.47 L509.34 275.38 L509.33 286.98 L508.44 303.63 L508.45 310.56 L509.11 315.43 L510.12 318.62 L512.23 322.25 L514.44 324.52 L517.2 326.42 L521.68 328.44 L525.58 329.61 L531.42 330.8 L567.94 336.14 L577.46 336.84 L592.24 337.14 L603.43 338.93 L616.9 342.23 L617.34 339.3 L606.46 332.19 L598.01 327.54 L591.74 324.74 L583.83 321.61 L573.86 317.12 L556.96 311.21 L550.78 308.05 L546.39 304.88 L543.58 302.29 L540.91 299.3 L538.46 296 L535.35 290.73 L532.95 285.33 L525.54 264.62 M525.54 264.62 L523.56 260.23 L521.49 257.03 L520.32 255.94 L519.18 255.3 L518.06 255.01 L516.98 255.03 L514.98 255.99 L513.22 258.19 L511.69 262 L510.3 267.78 L509.41 275.61 L509.4 287.37 L508.52 304.08 L508.57 310.93 L509.29 315.74 L510.34 318.88 L512.51 322.44 L514.74 324.67 L517.51 326.54 L521.98 328.52 L525.86 329.68 L531.61 330.86 L566.7 335.98 L578.87 336.77 L593.87 336.95 L605.76 339.14 L619.07 342.08 L616.96 338.26 L606.16 331.29 L597.92 326.86 L574.02 316.79 L561.57 312.6 L556.6 310.69 L551.91 308.27 L547.46 305.16 L544.6 302.6 L541.88 299.64 L539.37 296.34 L536.15 291.06 L532.96 283.86 L528.53 271.07 L525.55 263.34 M525.55 263.34 L523.62 259.26 L521.58 256.36 L520.42 255.4 L519.26 254.84 L518.14 254.62 L516.71 254.79 L514.75 256.02 L513.04 258.5 L511.56 262.58 L510.4 267.65 L509.51 275.54 L509.5 287.35 L508.62 304.01 L508.68 310.84 L509.38 315.63 L510.42 318.77 L512.55 322.33 L514.74 324.57 L517.45 326.45 L521.82 328.45 L526.93 329.95 L534.17 331.3 L560.09 335.16 L569.08 336.15 L577.92 336.6 L590.85 336.53 L598.19 336.91 L612.03 340.33 L623.37 340.99 L603.77 328.98 L596.33 325.28 L575.33 316.76 L557.46 310.55 L552.66 308.11 L548.14 304.93 L545.26 302.32 L542.52 299.29 L539.98 295.92 L536.73 290.58 L533.54 283.38 L529.05 270.5 L526.01 262.7 M526.01 262.7 L524.08 258.65 L522.03 255.83 L520.86 254.89 L519.7 254.35 L518.56 254.13 L517.1 254.29 L515.74 254.95 L514.8 255.77 L513.11 258.33 L511.65 262.49 L510.5 267.65 L509.64 275.6 L509.66 286.38 L508.75 304.16 L508.83 310.94 L509.55 315.69 L510.59 318.79 L512.7 322.34 L514.86 324.56 L518.51 326.98 L522.97 328.85 L528.09 330.26 L535.21 331.54 L558.01 334.91 L567.94 335.98 L578.64 336.36 L596.22 336.03 L621.48 340.79 L620.77 337.46 L609.35 330.65 L600.74 325.93 L594.41 323.09 L576.76 316.38 L559.75 310.63 L554.69 308.27 L550.01 305.15 L547.05 302.55 L544.22 299.51 L541.59 296.08 L538.19 290.66 L534.84 283.46 L530.23 270.45 L527.04 262.27 M527.04 262.27 L524.62 257.29 L522.59 254.77 L521.4 253.95 L520.22 253.49 L519.06 253.32 L517.58 253.54 L516.53 254.01 L515.24 255.03 L513.53 257.47 L512.05 261.47 L510.7 267.54 L509.86 275.61 L509.83 287.66 L508.93 305.62 L509.17 312.16 L510.06 316.7 L511.7 320.55 L513.47 323.01 L516.56 325.74 L519.4 327.41 L522.63 328.78 L530.07 330.82 L551.74 334.2 L562.16 335.41 L569.28 335.8 L575.63 335.8 L583.47 335.35 L594.21 334.37 L599.53 334.23 L624.53 338 L627.99 335.23 L615.39 329.72 L605.81 324.44 L598.9 321.29 L590.12 318.05 L562.13 309.12 L556.6 306.57 L553.27 304.32 L550.14 301.57 L547.19 298.31 L544.43 294.59 L540.9 288.8 L537.51 281.58 L532.61 268.15 L529.18 259.65 M529.18 259.65 L527.21 255.58 L525.54 253.23 L523.46 251.67 L520.99 251.15 L518.65 251.67 L516.22 253.43 L514.46 255.81 L512.96 259.41 L511.52 265.43 L510.53 272.99 L510.31 287.95 L509.44 304.26 L509.63 312.02 L510.18 315.41 L511.09 318.45 L512.93 321.95 L514.11 323.47 L516.21 325.48 L519.57 327.71 L524.48 329.86 L528.8 331.16 L533.3 332.16 L547.47 334.45 L554.1 334.93 L556.54 334.67 L557.55 334.17 L557.63 333.62 L557.06 332.94 L553.93 331.32 L538.86 326.76 L533.22 324.44 L528.97 321.86 L525.03 318.36 L521.72 313.88 L519.96 310.38 L518.6 306.56 L517.17 300.46 L514.53 284.45 M514.53 284.45 L513.56 281.01 L512.18 277.84 L510.83 275.95 L509.58 275.06 L508.23 275.08 L507.16 276.01 L506.38 277.65 L505.78 280.44 L504.99 291.05 L503.07 310.6 L503 317.65 L503.64 321.33 L504.93 324.53 L506.91 327.3 L508.68 328.9 L512.19 330.89 L515.16 331.93 L518.62 332.76 L524.79 333.66 L540.71 334.74 L549.72 335.92 L565.65 338.97 L578.69 341.18 L604.49 346.27 L603.69 343.09 L594.25 337.08 L576.27 327.72 L571.94 324.92 L570.66 323.56 L570.61 322.83 L571.09 321.61 L570.1 320.5 L566.37 318.76 L554.84 314.65 L549.22 312.26 L543.65 309.06 L539.56 305.8 L536.97 303.13 L534.58 300.09 L532.46 296.72 L530.65 293.14 L528.47 287.58 L522.5 269.3 M522.5 269.3 L520.64 264.84 L518.62 261.23 L516.78 259.37 L515.05 258.88 L513.44 259.62 L511.71 262.03 L510.25 265.78 L509 271.22 L508.49 275.9 L508.42 288.18 L507.4 305.47 L507.49 312.44 L508.06 316.13 L509.14 319.39 L510.78 322.21 L513.04 324.62 L514.91 326 L518.29 327.73 L522.33 329.1 L526.99 330.16 L545.86 332.73 L569.57 336.73 L593.65 339.14 L607.46 342.34 L614.93 342.74 L604.99 335.69 L596.09 330.54 L580.73 323.59 L570.71 318.07 L556.59 313.08 L552.22 311.28 L546.54 308.23 L542.39 305.18 L539.73 302.68 L537.24 299.8 L534.97 296.61 L533 293.18 L529.93 285.99 L523.67 267.67 M523.67 267.67 L521.75 263.19 L519.69 259.66 L517.82 257.87 L516.74 257.41 L515.7 257.36 L514.71 257.67 L513.77 258.37 L512.32 260.45 L510.82 264.24 L509.5 269.82 L508.84 275.55 L508.79 287.96 L507.77 306.51 L507.91 311.98 L508.74 316.78 L509.93 319.89 L511.68 322.59 L514.01 324.88 L516.97 326.78 L520.54 328.32 L524.68 329.53 L531.01 330.74 L543.57 332.4 L569.34 336.54 L577.18 337.32 L588.43 337.96 L599.68 339.66 L612.94 342.94 L614.05 340.42 L603.61 333.39 L595.3 328.86 L581.24 322.72 L571.69 317.8 L558.17 313.07 L553.66 311.25 L547.85 308.15 L543.64 305.07 L539.63 301.14 L537.19 298.07 L535 294.74 L533.13 291.23 L530.86 285.81 L526.67 273.31 L523.9 265.86 M523.9 265.86 L522.01 261.67 L519.98 258.49 L518.1 256.95 L517.01 256.6 L515.97 256.61 L514.97 256.97 L514.03 257.67 L512.59 259.74 L511.08 263.57 L509.74 269.23 L509 275.89 L508.99 287.48 L508.06 304.38 L508.1 311.32 L508.85 316.17 L509.96 319.33 L511.6 322.07 L513.8 324.41 L516.6 326.37 L519.98 327.97 L523.9 329.24 L528.33 330.25 L567.59 336.23 L578.57 337.24 L589.69 337.72 L600.94 339.45 L614.24 342.77 L615 340.06 L604.44 332.99 L596.1 328.44 L582.04 322.39 L571.93 317.43 L559.25 313.06 L554.63 311.23 L548.72 308.11 L544.47 305 L541.73 302.46 L539.14 299.54 L536.78 296.3 L533.8 291.08 L531.49 285.67 L527.23 273.09 L524.39 265.49 M524.39 265.49 L522.04 260.42 L520.04 257.62 L518.91 256.7 L517.8 256.2 L516.72 256.07 L515.36 256.41 L514.11 257.34 L513.23 258.46 L511.64 261.94 L510.17 267.41 L509.27 273.47 L509.08 288.75 L508.15 305.87 L508.18 310.01 L508.54 313.82 L509.7 318.28 L511.75 322.01 L513.14 323.61 L514.79 325.03 L518.84 327.4 L523.85 329.18 L529.69 330.48 L565.35 335.9 L574.86 336.88 L589.41 337.48 L599.42 338.71 L613.12 342.21 L617.52 340.95 L606.77 333.74 L598 328.74 L591.43 325.73 L583.15 322.34 L572.33 317.23 L559.24 312.74 L554.56 310.84 L550.07 308.48 L545.75 305.47 L541.62 301.62 L539.06 298.58 L536.74 295.25 L534.73 291.76 L531.61 284.55 L525.02 265.78 M525.02 265.78 L523.04 261.28 L520.96 257.9 L519.8 256.74 L518.67 256.04 L517.57 255.72 L516.5 255.74 L515.49 256.08 L514.54 256.73 L512.8 259.13 L511.3 263.07 L509.97 268.86 L509.23 275.68 L509.22 287.34 L508.31 304.12 L508.36 311.03 L509.08 315.86 L510.15 319.02 L512.37 322.59 L514.67 324.82 L517.53 326.68 L520.93 328.2 L524.82 329.42 L530.69 330.66 L568.41 336.24 L574.82 336.8 L588.48 337.25 L596.52 337.83 L610.44 341.25 L620.12 342.06 L610.18 335.35 L600.69 329.57 L593.56 326.12 L581.73 321.24 L574.1 317.62 L559.47 312.54 L554.72 310.59 L550.2 308.16 L545.85 305.04 L543.07 302.49 L540.42 299.55 L537.98 296.28 L534.89 291.05 L532.5 285.65 L525.18 265.07 M525.18 265.07 L523.22 260.68 L521.15 257.43 L519.99 256.33 L518.85 255.67 L517.74 255.38 L516.67 255.42 L514.7 256.42 L512.96 258.76 L511.45 262.67 L510.1 268.48 L509.32 275.39 L509.28 288.15 L508.38 305.08 L508.53 311.84 L509.38 316.55 L510.55 319.6 L512.22 322.26 L514.44 324.53 L517.2 326.43 L521.69 328.44 L525.61 329.61 L531.46 330.8 L568.27 336.18 L577.99 336.88 L593.49 337.24 L618.84 342.43 L615.18 338.04 L604.66 331.21 L596.64 326.98 L583.24 321.44 L573.59 317.07 L556.7 311.15 L550.54 307.97 L546.17 304.79 L543.37 302.18 L540.71 299.18 L538.28 295.87 L535.19 290.6 L532.81 285.19 L525.43 264.55 M525.43 264.55 L523.47 260.21 L521.4 257.04 L520.24 255.97 L519.09 255.34 L517.98 255.06 L516.9 255.1 L514.9 256.08 L513.16 258.32 L511.63 262.17 L510.25 267.97 L509.42 274.97 L509.41 286.46 L508.49 304.37 L508.57 311.2 L509.33 315.97 L510.41 319.08 L512.63 322.61 L514.91 324.82 L517.72 326.66 L522.24 328.62 L527.55 330.07 L533.5 331.15 L567.57 336.07 L576.57 336.72 L589.84 336.88 L597.51 337.34 L611.41 340.79 L621.93 341.52 L602.32 329.22 L595.04 325.65 L582.94 320.79 L573.4 316.63 L557.58 311.17 L551.32 308 L546.89 304.8 L544.06 302.19 L541.37 299.17 L538.9 295.83 L535.76 290.54 L533.34 285.14 L525.85 264.31 M525.85 264.31 L523.86 259.9 L521.79 256.72 L520.62 255.64 L519.46 255 L518.33 254.7 L516.89 254.79 L514.91 255.9 L513.18 258.23 L511.67 262.18 L510.31 268.07 L509.51 275.1 L509.47 287.87 L508.55 306.06 L508.7 311.41 L509.49 316.13 L510.6 319.21 L512.83 322.7 L515.1 324.88 L517.9 326.71 L522.37 328.65 L527.59 330.1 L533.41 331.18 L559.3 335.05 L568.16 336.08 L576.81 336.6 L595.65 336.75 L608.26 339.39 L621.35 341.67 L616.52 337.12 L605.85 330.34 L597.83 326.14 L574.18 316.43 L557.91 310.84 L553.09 308.48 L548.55 305.41 L545.66 302.89 L542.89 299.94 L540.31 296.64 L536.98 291.34 L533.68 284.14 L529.19 271.28 L526.12 263.31 M526.12 263.31 L523.72 258.3 L521.7 255.69 L520.53 254.84 L519.37 254.37 L518.24 254.21 L516.8 254.46 L514.85 255.76 L513.15 258.26 L511.67 262.37 L510.36 268.39 L509.62 275.45 L509.61 287.29 L508.7 305.3 L508.89 311.95 L509.76 316.57 L510.92 319.57 L512.56 322.19 L515.52 325.11 L517.34 326.33 L520.45 327.9 L523.99 329.18 L527.89 330.21 L533.56 331.27 L556.34 334.67 L565.96 335.83 L573.26 336.3 L579.28 336.41 L591.73 336.11 L598.57 336.35 L612.06 339.58 L624.64 340.4 L605.84 328.92 L598.09 324.99 L592.41 322.58 L576.07 316.32 L559.19 310.59 L554.18 308.2 L549.55 305.06 L546.61 302.44 L543.8 299.4 L541.19 295.98 L537.84 290.57 L534.54 283.38 L529.95 270.39 L526.8 262.31 M526.8 262.31 L524.4 257.4 L522.37 254.9 L521.18 254.09 L520.01 253.64 L518.86 253.49 L517.39 253.73 L516.02 254.43 L515.07 255.26 L513.38 257.78 L511.91 261.89 L510.74 267.07 L509.83 275.16 L509.77 288.19 L508.9 304.86 L509.06 311.51 L509.85 316.14 L510.94 319.17 L512.48 321.82 L515.27 324.79 L516.98 326.04 L519.92 327.66 L523.25 328.99 L526.92 330.07 L533.62 331.43 L555.95 334.73 L565.97 335.72 L574.34 335.96 L582.36 335.68 L593.46 334.86 L599.04 334.77 L610.02 336.75 L624.58 338.74 L625.19 335.7 L612.99 329.62 L603.9 324.63 L597.29 321.66 L592.47 319.79 L561.78 309.69 L556.35 307.23 L551.47 303.85 L548.44 300.99 L545.57 297.65 L542.92 293.91 L539.59 288.28 L537.08 282.89 L531.54 267.72 L528.25 259.64 M528.25 259.64 L526.36 255.84 L524.29 253.27 L522.24 252.08 L519.83 251.81 L517.58 252.56 L515.3 254.59 L513.66 257.34 L512.46 260.83 L511.12 267.05 L510.35 273.59 L510.2 287.47 L509.28 306.53 L509.38 310.42 L509.79 314 L510.56 317.21 L511.73 320.05 L513.93 323.3 L515.31 324.69 L517.72 326.53 L522.49 328.96 L529.15 331.04 L535.1 332.24 L545.26 333.84 L554.97 334.93 L559.21 334.98 L562.08 334.7 L564.25 334.09 L565.45 333.18 L565.54 332.3 L564.85 331.28 L561.87 329.33 L558.05 327.62 L545.45 322.68 L539.7 319.7 L535.29 316.57 L531.09 312.45 L527.48 307.31 L524.7 301.34 L522.73 294.97 L520.07 283.13 L518.42 277.03 M518.42 277.03 L516.77 272.5 L515.22 269.33 L513.79 267.34 L513.11 266.77 L512.14 266.39 L511.53 266.43 L510.65 266.91 L509.35 268.62 L508.09 271.81 L507.31 275.49 L506.82 290.27 L505.52 308.46 L505.59 314.14 L506.18 317.93 L507.38 321.24 L509.24 324.08 L511.87 326.47 L514.11 327.8 L516.76 328.92 L523.28 330.61 L529.27 331.47 L541.03 332.59 L548.72 333.7 L570.1 337.71 L583.3 339.53 L608.85 344.56 L605.24 340.11 L595.73 334.19 L582.34 327.68 L575.52 324.1 L572.67 322.17 L570.68 320.08 L569.41 319.17 L566.36 317.81 L555.1 313.92 L549.55 311.65 L544.04 308.67 L539.99 305.63 L537.41 303.13 L535.01 300.25 L532.86 297.04 L531.01 293.59 L528.76 288.17 L524.27 274.25 L522.23 268.63 M522.23 268.63 L520.4 264.42 L518.4 261.04 L516.57 259.35 L514.85 259.01 L513.26 259.88 L511.55 262.43 L510.12 266.28 L508.92 271.75 L508.46 276.36 L508.42 287.7 L507.39 304.87 L507.4 311.91 L508.18 316.81 L509.35 319.99 L511.09 322.74 L513.47 325.07 L515.42 326.4 L518.92 328.06 L521.61 328.97 L526.18 330.07 L544.87 332.63 L567.76 336.52 L576 337.52 L588.28 338.48 L600.97 340.78 L613.49 343.66 L610.05 339.21 L600.12 332.77 L592.34 328.78 L579.32 322.93 L571.15 318.31 L567.01 316.67 L557.31 313.38 L551.49 310.97 L547.23 308.69 L543.06 305.77 L539.08 302.01 L536.63 299.05 L534.44 295.79 L532.54 292.32 L530.25 286.91 L523.41 267.03 M523.41 267.03 L521.52 262.75 L519.49 259.42 L517.63 257.77 L516.55 257.39 L515.52 257.39 L514.54 257.77 L513.61 258.53 L512.18 260.74 L510.7 264.62 L509.42 270.25 L508.82 275.94 L508.8 287.39 L507.84 304.35 L507.86 311.35 L508.59 316.24 L509.7 319.42 L511.36 322.18 L513.59 324.54 L516.45 326.5 L519.93 328.09 L523.98 329.36 L528.57 330.34 L544.54 332.55 L567.77 336.34 L575.14 337.15 L593.27 338.41 L607.08 341.54 L617.32 343.07 L608.24 336.4 L598.85 330.68 L591.7 327.22 L579.87 322.06 L572.16 318.01 L557.36 312.77 L552.87 310.89 L548.52 308.57 L544.28 305.61 L540.24 301.82 L537.74 298.83 L535.49 295.55 L533.54 292.07 L530.51 284.86 L524.14 266.47 M524.14 266.47 L522.21 262.08 L520.16 258.72 L519.01 257.55 L517.9 256.87 L516.82 256.58 L515.78 256.66 L514.8 257.07 L513.87 257.84 L512.44 260.03 L510.96 263.97 L509.66 269.69 L509.01 275.53 L508.97 288.11 L507.99 306.6 L508.16 312.01 L509.01 316.77 L510.21 319.85 L511.95 322.52 L514.26 324.79 L517.16 326.68 L520.64 328.22 L524.66 329.44 L529.17 330.4 L569.31 336.44 L576.62 337.11 L594.69 338.19 L608.54 341.45 L618.46 342.68 L608.97 335.93 L599.55 330.2 L592.43 326.76 L580.63 321.73 L572.43 317.64 L558.4 312.75 L553.8 310.86 L549.38 308.51 L545.1 305.53 L541.01 301.7 L538.47 298.69 L536.18 295.38 L534.2 291.9 L531.12 284.69 L524.63 266.09 M524.63 266.09 L522.67 261.64 L520.61 258.26 L519.45 257.1 L518.33 256.4 L517.23 256.1 L516.18 256.14 L515.18 256.51 L514.24 257.21 L512.52 259.77 L511.05 263.8 L509.91 268.74 L509.14 275.52 L509.09 288.21 L508.17 305.22 L508.32 312.03 L509.18 316.75 L510.39 319.81 L512.11 322.47 L514.4 324.73 L517.26 326.62 L520.68 328.16 L524.61 329.39 L530.56 330.63 L569.93 336.45 L577.04 337.03 L593.91 337.78 L607.36 340.75 L619.09 342.8 L611.36 336.82 L601.51 330.61 L594.04 326.87 L581.61 321.65 L572.85 317.44 L559.94 312.99 L555.23 311.15 L549.25 307.98 L544.96 304.82 L542.2 302.24 L539.6 299.28 L537.22 296.01 L534.22 290.77 L531.9 285.36 L527.6 272.72 L524.71 265.05 M524.71 265.05 L522.79 260.8 L520.74 257.65 L519.59 256.58 L518.46 255.96 L517.36 255.71 L516.31 255.79 L515.31 256.18 L514.36 256.9 L512.65 259.44 L511.17 263.5 L510.03 268.48 L509.24 275.34 L509.2 288.01 L508.25 306.37 L508.41 311.75 L509.24 316.49 L510.41 319.56 L512.08 322.24 L514.3 324.53 L517.09 326.44 L520.41 328 L524.23 329.26 L530.02 330.54 L567.19 336.1 L576.95 336.93 L592.45 337.42 L604.59 339.65 L617.63 342.63 L614.89 338.54 L604.38 331.66 L596.31 327.37 L582.8 321.72 L573.39 317.33 L560.16 312.79 L555.38 310.9 L549.35 307.63 L545.04 304.36 L542.29 301.69 L539.69 298.65 L537.33 295.31 L534.38 290.03 L532.1 284.61 L527.78 271.95 L524.88 264.33 M524.88 264.33 L522.54 259.43 L520.54 256.8 L519.39 255.94 L518.26 255.48 L517.17 255.37 L516.13 255.57 L514.22 256.89 L512.54 259.66 L511.1 263.9 L510.01 269 L509.3 275.85 L509.32 286.5 L508.39 304.47 L508.48 311.31 L509.25 316.08 L510.35 319.2 L512.61 322.73 L514.92 324.92 L517.79 326.76 L522.41 328.69 L526.41 329.81 L532.36 330.95 L567.14 336.06 L576.44 336.81 L590.52 337.11 L599.97 338.16 L613.85 341.75 L619.6 340.82 L608.68 333.72 L599.65 328.47 L592.93 325.33 L584.42 321.93 L574.12 317.29 L560.62 312.66 L555.77 310.75 L551.16 308.35 L546.76 305.28 L543.94 302.76 L541.25 299.84 L538.76 296.58 L535.57 291.34 L532.41 284.14 L528.05 271.43 L525.12 263.81 M525.12 263.81 L523.21 259.73 L521.17 256.8 L520.01 255.82 L518.87 255.26 L517.76 255.04 L516.35 255.24 L514.42 256.54 L512.73 259.2 L511.28 263.4 L510.16 268.5 L509.4 275.44 L509.4 287.12 L508.51 303.78 L508.54 310.67 L509.22 315.51 L510.24 318.68 L512.36 322.28 L514.56 324.54 L517.3 326.43 L521.74 328.44 L525.6 329.61 L531.34 330.8 L559.68 335.08 L569.17 336.23 L578.75 336.79 L593.86 337 L605.87 339.25 L619.11 342.14 L616.59 338.19 L605.85 331.24 L597.66 326.86 L573.94 316.84 L561.56 312.66 L556.61 310.76 L551.92 308.37 L547.47 305.28 L544.62 302.75 L541.9 299.81 L539.37 296.53 L536.13 291.26 L532.92 284.06 L528.51 271.28 L525.52 263.53 M525.52 263.53 L523.17 258.65 L521.95 256.91 L520.77 255.76 L519.61 255.07 L518.11 254.69 L516.68 254.86 L515.34 255.54 L514.12 256.74 L513.28 258.03 L511.76 261.88 L510.37 267.71 L509.53 274.78 L509.48 287.4 L508.54 306.9 L508.78 312.17 L509.38 315.7 L510.88 319.78 L513.24 323.17 L516.54 325.9 L518.52 327.04 L521.9 328.48 L525.7 329.64 L531.33 330.84 L564.84 335.75 L575.56 336.56 L592.89 336.62 L602.83 337.92 L616.76 341.46 L620.85 339.59 L609.55 332.63 L600.57 327.48 L593.93 324.41 L582.88 320.11 L574.71 316.64 L561.94 312.36 L556.88 310.4 L552.13 307.91 L547.64 304.68 L544.78 302.03 L542.06 298.96 L539.56 295.57 L536.38 290.24 L533.25 283.04 L529.43 271.98 L526.33 263.83 M526.33 263.83 L524.32 259.4 L522.24 256.25 L521.06 255.19 L519.9 254.55 L518.75 254.25 L517.29 254.32 L515.91 254.9 L514.96 255.65 L513.25 258.06 L511.75 262.08 L510.57 267.15 L509.63 275.14 L509.59 288.02 L508.71 304.77 L508.85 311.48 L509.64 316.17 L510.75 319.22 L512.96 322.69 L515.21 324.86 L517.95 326.68 L522.32 328.63 L527.39 330.09 L534.49 331.42 L557.45 334.83 L567.4 335.95 L578.13 336.41 L595.77 336.16 L607.11 338.19 L620.92 341.01 L620.44 337.72 L609.08 330.85 L600.47 326.13 L594.14 323.29 L576.59 316.53 L563.31 312.11 L558.06 310.14 L553.15 307.6 L548.57 304.27 L545.67 301.51 L542.92 298.33 L540.39 294.83 L537.21 289.42 L534.77 284.03 L530.18 271.06 L526.99 262.8 M526.99 262.8 L524.97 258.44 L522.9 255.43 L521.71 254.42 L520.53 253.82 L519.36 253.53 L517.87 253.6 L516.8 253.97 L515.48 254.87 L513.73 257.1 L512.21 260.85 L510.8 266.76 L509.84 274.88 L509.78 287.78 L508.88 305.79 L509.02 311.09 L509.75 315.78 L511.24 319.79 L512.88 322.36 L515.82 325.22 L518.56 326.97 L521.72 328.43 L525.25 329.62 L529.09 330.58 L549.75 333.86 L560.19 335.22 L567.32 335.8 L576.08 335.94 L597.38 334.77 L606.28 335.79 L620.98 338.98 L628.01 336.71 L615.7 331.29 L605.84 325.66 L598.7 322.31 L589.66 318.89 L562.24 309.9 L556.78 307.51 L551.86 304.22 L548.81 301.43 L545.92 298.16 L543.23 294.47 L539.82 288.81 L536.53 281.62 L531.71 268.28 L528.38 260.03 M528.38 260.03 L526.44 256.08 L524.78 253.8 L522.74 252.32 L520.31 251.81 L518.02 252.35 L515.66 254.16 L513.96 256.69 L512.5 260.66 L511.14 266.84 L510.35 273.4 L510.2 287.21 L509.27 306.23 L509.36 310.15 L509.74 313.75 L510.48 316.99 L511.62 319.86 L513.79 323.14 L515.16 324.55 L517.54 326.41 L522.28 328.87 L528.92 330.97 L534.89 332.19 L545.12 333.8 L554.94 334.93 L559.27 335 L562.25 334.73 L564.99 333.95 L566.08 332.96 L566.06 332.04 L565.6 331.35 L562.83 329.4 L558.03 327.21 L546.57 322.71 L540.85 319.81 L537.9 317.89 L534.97 315.57 L530.84 311.23 L527.33 305.88 L524.69 299.78 L522.82 293.38 L518.91 277.19 M518.91 277.19 L517.24 272.45 L515.66 269.08 L514.21 266.94 L513.53 266.29 L512.54 265.81 L511.92 265.79 L511.03 266.18 L509.44 268.23 L508.18 271.53 L507.4 275.33 L506.94 290.19 L505.67 308.35 L505.76 314.02 L506.36 317.8 L507.56 321.1 L509.42 323.94 L512.05 326.32 L514.28 327.65 L516.91 328.77 L523.38 330.47 L529.3 331.33 L540.91 332.47 L548.47 333.55 L569.25 337.46 L581.49 339.16 L593.56 341.18 L606.59 343.99 L607.85 341.68 L598.06 335.24 L589.95 330.99 L576.27 324.31 L573.05 322.23 L570.76 320.01 L569.44 319.08 L566.35 317.72 L555.03 313.82 L549.48 311.54 L543.97 308.53 L539.93 305.47 L537.36 302.95 L534.97 300.05 L532.83 296.84 L530.99 293.38 L528.76 287.96 L524.27 274.07 L522.22 268.48 M522.22 268.48 L520.4 264.29 L518.4 260.95 L516.57 259.28 L515.53 258.94 L514.53 259.04 L512.96 260.16 L511.29 262.97 L509.92 267 L508.93 271.75 L508.47 276.36 L508.33 290.19 L507.35 306.35 L507.42 311.92 L508.2 316.82 L509.37 319.99 L511.11 322.74 L513.49 325.07 L515.44 326.39 L518.93 328.06 L521.63 328.97 L526.18 330.07 L544.84 332.62 L567.62 336.49 L575.78 337.49 L587.83 338.43 L600.2 340.58 L612.93 343.57 L610.72 339.64 L600.68 333.05 L592.78 328.95 L579.5 322.99 L571.21 318.32 L567.07 316.67 L557.37 313.38 L551.54 310.97 L545.87 307.8 L541.75 304.62 L539.12 302.02 L536.67 299.06 L534.48 295.8 L532.58 292.33 L530.28 286.92 L523.43 267.03 M523.43 267.03 L521.55 262.74 L519.51 259.4 L517.65 257.75 L516.57 257.37 L515.54 257.37 L514.56 257.74 L513.63 258.5 L512.2 260.7 L510.72 264.58 L509.44 270.21 L508.83 275.91 L508.81 287.34 L507.85 304.28 L507.86 311.28 L508.59 316.18 L509.69 319.37 L511.33 322.14 L513.56 324.5 L516.41 326.47 L519.87 328.07 L523.91 329.34 L528.48 330.33 L544.43 332.53 L567.53 336.3 L574.82 337.12 L592.36 338.29 L605.96 341.23 L617.2 343.28 L609.18 337.01 L599.59 331.05 L592.26 327.45 L580.1 322.16 L571.22 317.59 L557.48 312.81 L552.98 310.93 L548.62 308.62 L544.39 305.68 L540.33 301.9 L537.83 298.92 L535.57 295.65 L533.61 292.18 L530.56 284.96 L524.18 266.54 M524.18 266.54 L522.25 262.13 L520.19 258.74 L519.05 257.56 L517.93 256.87 L516.85 256.57 L515.81 256.64 L514.83 257.05 L513.9 257.8 L512.46 259.98 L510.98 263.9 L509.67 269.62 L509.02 275.47 L508.98 288.01 L508 306.48 L508.15 311.91 L508.99 316.67 L510.18 319.76 L511.9 322.45 L514.19 324.73 L517.08 326.63 L520.54 328.18 L524.54 329.41 L529.03 330.38 L568.98 336.4 L576.18 337.08 L593.45 338.02 L607.04 341.04 L618.37 342.99 L610.2 336.75 L600.51 330.7 L593.15 327.06 L580.91 321.85 L572.56 317.69 L558.57 312.81 L553.97 310.92 L549.53 308.6 L545.25 305.63 L541.15 301.84 L538.6 298.84 L536.3 295.54 L534.3 292.07 L531.19 284.86 L524.69 266.21 M524.69 266.21 L522.72 261.71 L520.65 258.3 L519.5 257.12 L518.37 256.41 L517.28 256.09 L516.22 256.12 L515.22 256.48 L514.28 257.17 L512.55 259.7 L511.08 263.71 L509.93 268.64 L509.14 275.43 L509.1 288.07 L508.14 306.49 L508.31 311.89 L509.15 316.62 L510.33 319.7 L512.04 322.37 L514.3 324.65 L517.14 326.55 L520.54 328.1 L524.45 329.34 L530.37 330.6 L569.52 336.4 L576.51 336.99 L592.66 337.66 L618.03 342.89 L612.91 337.87 L602.73 331.28 L594.96 327.27 L581.97 321.81 L573.02 317.5 L558.57 312.49 L553.91 310.53 L549.44 308.09 L545.14 304.97 L542.38 302.41 L539.77 299.47 L537.37 296.22 L534.34 290.99 L531.99 285.58 L527.08 271.22 L524.79 265.21 M524.79 265.21 L522.85 260.9 L520.8 257.7 L519.64 256.61 L518.51 255.97 L517.41 255.7 L516.36 255.77 L515.35 256.15 L514.41 256.85 L512.69 259.36 L511.21 263.39 L510.06 268.36 L509.24 275.23 L509.21 287.84 L508.26 306.17 L508.4 311.57 L509.2 316.33 L510.34 319.43 L511.99 322.12 L514.19 324.43 L515.96 325.75 L519.09 327.44 L522.72 328.82 L526.83 329.91 L531.35 330.77 L561.68 335.37 L569.64 336.36 L576.36 336.89 L591.24 337.35 L602.32 339.05 L615.77 342.41 L616.71 339.71 L605.93 332.58 L597.48 327.92 L583.26 321.91 L573.59 317.41 L560.41 312.87 L555.63 311 L551.06 308.68 L546.68 305.71 L543.87 303.27 L541.17 300.44 L538.67 297.25 L535.43 292.07 L532.21 284.88 L527.88 272.2 L524.96 264.52 M524.96 264.52 L522.61 259.53 L520.6 256.84 L519.45 255.97 L518.33 255.49 L517.23 255.36 L516.19 255.54 L514.27 256.83 L512.58 259.56 L511.14 263.76 L510.04 268.85 L509.31 275.72 L509.3 287.46 L508.4 304.23 L508.47 311.1 L509.2 315.9 L510.28 319.04 L512.5 322.59 L514.79 324.81 L517.62 326.67 L522.2 328.62 L526.18 329.75 L532.1 330.91 L561.76 335.38 L569.42 336.3 L579.6 336.93 L589.37 337.08 L597.47 337.68 L611.43 341.17 L620.87 341.69 L610.65 335.01 L601.14 329.23 L594.03 325.79 L582.21 320.99 L574.36 317.38 L556.05 310.87 L551.43 308.51 L547.02 305.48 L544.19 302.99 L541.48 300.1 L538.97 296.87 L535.74 291.65 L532.53 284.45 L528.16 271.73 L525.22 264.02 M525.22 264.02 L523.29 259.86 L521.25 256.86 L520.08 255.86 L518.94 255.28 L517.83 255.04 L516.41 255.22 L514.47 256.47 L512.78 259.09 L511.32 263.25 L510.19 268.33 L509.41 275.29 L509.4 286.91 L508.52 303.51 L508.52 310.42 L509.17 315.3 L510.16 318.49 L512.24 322.13 L514.41 324.41 L517.12 326.32 L521.51 328.36 L525.34 329.54 L531.05 330.76 L559.26 335.02 L568.61 336.17 L577.97 336.77 L592.31 336.93 L602.8 338.42 L616.52 341.88 L619.06 339.65 L607.97 332.53 L599.25 327.62 L592.78 324.67 L584.6 321.47 L574.24 316.94 L556.95 310.9 L550.73 307.62 L546.33 304.32 L543.53 301.62 L540.87 298.53 L538.45 295.15 L535.41 289.83 L533.07 284.42 L528.65 271.63 L525.64 263.78 M525.64 263.78 L523.69 259.56 L521.64 256.54 L520.47 255.53 L519.32 254.94 L518.19 254.69 L516.76 254.83 L514.79 256 L513.07 258.44 L511.58 262.47 L510.25 268.41 L509.5 275.41 L509.46 288.33 L508.57 305.19 L508.75 311.9 L509.61 316.55 L510.77 319.57 L513.09 323 L515.44 325.14 L517.29 326.36 L520.47 327.93 L526.74 329.91 L532.48 331.03 L558.09 334.88 L571.81 336.36 L578.07 336.63 L591.3 336.59 L599.28 337.16 L613.35 340.76 L622.97 340.73 L602.66 328.55 L595.48 325.05 L575.09 316.77 L557.3 310.57 L552.52 308.14 L548.02 304.97 L545.14 302.37 L542.4 299.35 L539.86 295.99 L536.63 290.67 L533.43 283.46 L528.95 270.6 L525.92 262.82 M525.92 262.82 L523.99 258.76 L521.95 255.92 L520.78 254.98 L519.62 254.44 L518.48 254.22 L517.03 254.38 L515.04 255.56 L513.32 257.91 L511.82 261.87 L510.46 267.81 L509.65 274.92 L509.6 287.71 L508.69 305.8 L508.82 311.15 L509.57 315.87 L510.64 318.96 L512.79 322.48 L514.99 324.68 L516.73 325.95 L519.75 327.59 L523.2 328.93 L527.03 330.01 L534.09 331.36 L558.7 335 L566.71 335.89 L574.19 336.33 L593.63 336.1 L602.36 336.95 L616.6 340.61 L624.11 339.32 L612.61 333.04 L603.08 327.41 L596.07 324.06 L575.59 316.13 L558.62 310.35 L553.67 307.89 L549.06 304.64 L546.14 301.95 L543.36 298.83 L540.79 295.36 L537.52 289.95 L534.32 282.76 L529.74 269.75 L526.62 261.86 M526.62 261.86 L524.27 257.16 L522.25 254.78 L521.06 254.02 L519.89 253.6 L518.74 253.48 L517.27 253.76 L515.91 254.5 L514.97 255.36 L513.3 257.94 L511.84 262.14 L510.69 267.36 L509.82 275.42 L509.82 286.24 L508.93 303.9 L508.99 310.65 L509.67 315.4 L511.08 319.47 L512.67 322.08 L515.53 324.99 L517.27 326.22 L520.25 327.81 L523.61 329.11 L527.31 330.17 L534.04 331.5 L557.92 334.97 L566.47 335.74 L574.94 335.94 L583.1 335.62 L594.58 334.78 L600.66 334.82 L613.26 337.6 L627.39 338.23 L622.51 334.61 L602.38 323.84 L596.2 321.14 L591.68 319.46 L561.39 309.5 L555.99 306.98 L552.71 304.78 L549.62 302.11 L546.68 298.94 L543.94 295.33 L540.38 289.62 L536.95 282.41 L532.13 269.13 L528.72 260.59 M528.72 260.59 L526.72 256.36 L524.63 253.51 L522.59 252.15 L520.16 251.75 L517.88 252.38 L515.55 254.27 L513.87 256.88 L512.43 260.97 L511.1 267.22 L510.35 273.75 L510.2 287.69 L509.28 306.77 L509.4 310.64 L509.83 314.19 L510.62 317.38 L511.81 320.21 L514.05 323.42 L515.44 324.81 L517.86 326.62 L522.65 329.03 L528.15 330.8 L537.62 332.67 L548.37 334.3 L554.04 334.88 L558.29 334.99 L561.2 334.77 L563.43 334.23 L564.73 333.38 L564.93 332.55 L564.36 331.58 L561.62 329.7 L556.92 327.61 L545.66 323.31 L541.42 321.31 L538.5 319.64 L534.11 316.41 L530 312.17 L526.52 306.92 L523.9 300.89 L522.07 294.52 L518.31 278.3 M518.31 278.3 L516.68 273.62 L515.12 270.31 L513.68 268.21 L513 267.58 L512.03 267.11 L511.41 267.11 L510.54 267.5 L509.23 269.1 L507.97 272.17 L507.2 275.72 L506.67 290.46 L505.33 308.69 L505.4 314.37 L505.99 318.16 L507.19 321.46 L509.07 324.3 L511.72 326.69 L513.98 328.01 L516.66 329.13 L523.27 330.8 L546.44 333.45 L566.44 337.21 L586.45 340.15 L600.6 343.09 L610.26 344.51 L601.82 338.14 L592.87 332.96 L580.65 327.11 L574.67 323.83 L572.26 322.09 L570.59 320.15 L569.37 319.25 L566.35 317.91 L555.12 314.02 L549.57 311.76 L544.06 308.79 L540.01 305.76 L537.43 303.27 L535.02 300.39 L532.86 297.19 L531 293.73 L528.75 288.31 L524.26 274.37 L522.21 268.74 M522.21 268.74 L520.38 264.51 L518.38 261.11 L516.55 259.41 L514.84 259.05 L513.25 259.92 L511.53 262.47 L510.1 266.31 L508.9 271.78 L508.45 276.38 L508.31 290.2 L507.32 306.37 L507.39 311.94 L508.17 316.85 L509.35 320.02 L511.1 322.77 L513.48 325.09 L515.44 326.42 L518.94 328.08 L521.65 328.99 L526.22 330.09 L544.97 332.64 L568.01 336.56 L576.37 337.56 L589.02 338.57 L602.14 341.09 L614.28 343.76 L609.06 338.55 L599.3 332.34 L591.71 328.52 L579.06 322.82 L571.06 318.29 L566.92 316.65 L557.21 313.36 L551.4 310.94 L547.14 308.66 L542.98 305.73 L539 301.96 L536.56 298.99 L534.37 295.73 L532.48 292.25 L530.2 286.85 L525.51 272.77 L523.37 266.99 M523.37 266.99 L521.49 262.73 L519.46 259.42 L517.59 257.78 L516.52 257.4 L515.5 257.42 L514.52 257.8 L513.59 258.57 L512.15 260.79 L510.68 264.69 L509.41 270.33 L508.81 276 L508.79 287.48 L507.83 304.46 L507.86 311.45 L508.61 316.33 L509.73 319.5 L511.4 322.25 L513.66 324.6 L516.53 326.55 L520.02 328.13 L524.09 329.39 L528.7 330.37 L544.71 332.57 L568.11 336.39 L575.6 337.2 L594.7 338.64 L608.57 341.94 L616.96 342.62 L607.01 335.59 L597.9 330.19 L590.99 326.93 L582.22 323.2 L572.04 317.97 L557.2 312.72 L552.71 310.83 L548.37 308.49 L544.14 305.51 L540.1 301.7 L537.61 298.69 L535.37 295.4 L533.44 291.92 L531.1 286.52 L524.08 266.36 M524.08 266.36 L522.16 262.01 L520.11 258.69 L518.97 257.54 L517.86 256.87 L516.78 256.59 L515.74 256.68 L514.76 257.1 L513.84 257.88 L512.41 260.1 L510.93 264.06 L509.64 269.79 L509.01 275.62 L508.96 288.25 L508.02 305.33 L508.17 312.16 L509.04 316.89 L510.27 319.96 L512.02 322.61 L514.36 324.87 L517.28 326.75 L520.79 328.27 L524.83 329.49 L530.96 330.7 L543.04 332.34 L561.15 335.31 L569.74 336.49 L577.19 337.16 L587.51 337.63 L596.49 338.5 L610.35 341.93 L617.83 342.06 L607.49 334.95 L598.42 329.62 L591.58 326.4 L582.93 322.8 L572.27 317.58 L558.19 312.68 L553.6 310.77 L549.19 308.41 L544.91 305.39 L540.83 301.53 L538.31 298.49 L536.04 295.18 L534.08 291.68 L531.03 284.47 L524.55 265.93 M524.55 265.93 L522.61 261.53 L520.55 258.21 L519.4 257.07 L518.27 256.39 L517.18 256.1 L516.13 256.16 L515.14 256.54 L514.2 257.25 L512.48 259.85 L511.02 263.91 L509.89 268.87 L509.13 275.63 L509.12 287.19 L508.21 303.98 L508.23 310.92 L508.93 315.8 L509.99 318.98 L512.2 322.58 L514.52 324.83 L517.41 326.7 L520.85 328.22 L524.8 329.44 L530.78 330.67 L567.37 336.16 L577.68 337.07 L587.6 337.42 L595.63 338 L609.51 341.34 L619.33 342.38 L609.61 335.64 L600.15 329.88 L593.03 326.43 L581.21 321.48 L572.66 317.37 L559.69 312.91 L554.99 311.05 L550.48 308.74 L546.15 305.8 L541.99 302.04 L539.4 299.05 L537.05 295.76 L534.99 292.29 L531.79 285.09 L527.5 272.47 L524.63 264.87 M524.63 264.87 L522.72 260.68 L520.68 257.59 L519.53 256.55 L518.4 255.94 L517.3 255.71 L516.25 255.81 L515.25 256.22 L514.31 256.95 L512.6 259.54 L511.14 263.62 L510.01 268.62 L509.23 275.47 L509.19 288.2 L508.28 305.17 L508.43 311.96 L509.29 316.66 L510.48 319.72 L512.18 322.37 L514.44 324.64 L517.25 326.53 L520.6 328.08 L524.45 329.32 L530.27 330.59 L567.68 336.16 L577.65 336.96 L593.96 337.54 L607.11 340.35 L619.4 342.65 L612.83 337.17 L602.73 330.71 L595.08 326.81 L582.31 321.51 L573.16 317.24 L559.87 312.69 L555.1 310.78 L550.56 308.39 L546.21 305.35 L543.41 302.85 L540.73 299.95 L538.27 296.72 L535.11 291.51 L531.98 284.31 L525.32 265.43 M525.32 265.43 L523.32 260.91 L521.25 257.56 L520.08 256.42 L518.94 255.72 L517.83 255.41 L516.76 255.42 L515.73 255.74 L514.77 256.36 L513.02 258.64 L511.5 262.5 L510.3 267.4 L509.33 275.2 L509.32 286.71 L508.44 303.28 L508.41 310.25 L509.03 315.17 L510 318.39 L512.07 322.06 L514.24 324.36 L516.96 326.29 L521.4 328.34 L525.28 329.53 L531.1 330.74 L567.67 336.12 L577.19 336.85 L591.91 337.17 L602.91 338.87 L616.43 342.23 L617.48 339.53 L606.59 332.4 L598.08 327.69 L591.77 324.86 L583.8 321.69 L573.85 317.19 L560.28 312.55 L555.44 310.61 L550.86 308.18 L546.47 305.05 L543.66 302.49 L540.98 299.53 L538.52 296.25 L535.38 291 L532.27 283.79 L525.54 264.86 M525.54 264.86 L523.56 260.41 L521.48 257.15 L520.31 256.05 L519.17 255.38 L518.05 255.08 L516.97 255.09 L514.97 256.03 L513.21 258.23 L511.68 262.03 L510.28 267.8 L509.4 275.61 L509.39 287.37 L508.5 304.08 L508.55 310.94 L509.27 315.74 L510.32 318.88 L512.49 322.45 L514.73 324.68 L517.51 326.55 L522 328.53 L525.89 329.68 L531.66 330.86 L567.11 336.03 L575.97 336.69 L595.79 337.15 L609.12 340.18 L621.38 341.98 L613.9 336.47 L603.72 330.02 L596.07 326.13 L583.33 320.97 L573.62 316.72 L561.18 312.53 L556.24 310.6 L551.57 308.17 L547.14 305.03 L544.3 302.45 L541.59 299.47 L539.1 296.15 L535.92 290.87 L532.77 283.67 L525.94 264.57 M525.94 264.57 L523.93 260.07 L521.85 256.81 L520.68 255.71 L519.52 255.04 L518.39 254.73 L516.94 254.79 L514.95 255.86 L513.22 258.16 L511.7 262.06 L510.33 267.93 L509.52 274.97 L509.47 287.68 L508.55 305.84 L508.68 311.21 L509.44 315.96 L510.52 319.06 L512.72 322.58 L514.97 324.78 L517.74 326.62 L522.18 328.58 L527.38 330.05 L533.18 331.14 L559.04 335.01 L567.84 336.06 L576.41 336.59 L594.77 336.7 L620.08 341.75 L617.75 337.91 L606.84 330.96 L598.56 326.51 L592.45 323.82 L584.73 320.87 L574.32 316.5 L558.09 310.93 L554.83 309.44 L551.72 307.67 L547.26 304.37 L544.41 301.67 L541.72 298.55 L539.25 295.14 L536.14 289.79 L533.75 284.39 L529.26 271.53 L526.18 263.5 M526.18 263.5 L524.19 259.19 L522.13 256.15 L520.95 255.13 L519.79 254.53 L518.65 254.25 L517.19 254.36 L515.82 254.96 L514.87 255.73 L513.17 258.21 L511.69 262.29 L510.53 267.4 L509.62 275.37 L509.57 288.35 L508.69 305.16 L508.88 311.83 L509.72 316.46 L510.87 319.48 L513.15 322.91 L515.44 325.04 L517.25 326.27 L520.35 327.85 L523.87 329.14 L527.77 330.18 L533.44 331.25 L556.24 334.66 L565.86 335.82 L573.16 336.3 L579.18 336.42 L591.64 336.13 L598.46 336.37 L611.93 339.58 L624.53 340.45 L605.82 328.97 L598.07 325.03 L592.38 322.62 L576.05 316.35 L559.2 310.63 L554.2 308.25 L549.56 305.11 L546.63 302.52 L543.82 299.48 L541.2 296.07 L537.84 290.67 L534.53 283.48 L529.95 270.49 L526.79 262.4 M526.79 262.4 L524.38 257.46 L522.36 254.95 L521.17 254.13 L520 253.68 L518.85 253.52 L517.37 253.75 L516.01 254.45 L515.06 255.28 L513.37 257.8 L511.9 261.91 L510.58 268.01 L509.82 275.18 L509.76 288.2 L508.89 304.88 L509.05 311.53 L509.85 316.16 L511.4 320.11 L513.1 322.64 L516.12 325.44 L517.94 326.62 L521.02 328.14 L524.48 329.38 L528.26 330.39 L535.08 331.66 L559.25 335.12 L566.24 335.74 L574.76 335.97 L583 335.68 L594.65 334.87 L600.95 334.98 L613.99 337.97 L627.82 338.26 L609.95 328.01 L601.67 323.75 L595.63 321.14 L591.22 319.51 L561.24 309.59 L555.87 307.08 L552.6 304.9 L548.03 300.74 L545.18 297.36 L542.56 293.61 L539.29 288.01 L536.83 282.62 L531.3 267.46 L528.05 259.52 M528.05 259.52 L526.18 255.81 L524.12 253.3 L522.08 252.15 L519.67 251.91 L517.44 252.7 L515.18 254.76 L513.55 257.58 L512.36 261.15 L511.2 266.46 L510.36 273.03 L510.16 287.89 L509.27 305.67 L509.39 310.88 L509.84 314.41 L510.66 317.58 L511.89 320.39 L514.18 323.57 L515.6 324.94 L518.06 326.74 L522.93 329.12 L529.69 331.13 L545.92 333.89 L555.83 334.97 L560.24 335 L563.29 334.69 L566.13 333.84 L567.29 332.8 L567.31 331.84 L566.87 331.12 L564.08 329.1 L560.29 327.3 L547.52 322.13 L541.76 319.12 L537.32 316.01 L533.04 311.92 L529.25 306.8 L527.17 302.89 L525.48 298.72 L523.58 292.31 L519.52 276.11 M519.52 276.11 L517.81 271.3 L516.22 267.88 L514.76 265.69 L514.07 265.02 L513.08 264.52 L512.44 264.49 L511.53 264.86 L509.9 266.91 L508.58 270.26 L507.69 274.28 L507.37 278.18 L507.21 289.91 L506.01 307.98 L506.1 313.64 L506.71 317.41 L507.9 320.71 L509.73 323.56 L512.32 325.94 L514.5 327.28 L517.07 328.41 L523.38 330.14 L529.11 331.04 L545.15 332.82 L571.63 337.61 L585.12 339.32 L610.52 344.34 L605.08 339.09 L595.67 333.33 L578.64 325.13 L574.21 322.56 L570.65 319.61 L569.02 318.64 L553.76 313.15 L548.2 310.72 L544.07 308.36 L540.03 305.29 L537.46 302.76 L535.07 299.86 L532.93 296.64 L531.09 293.19 L528.86 287.78 L524.36 273.9 L522.31 268.31 M522.31 268.31 L520.48 264.13 L518.48 260.8 L516.65 259.14 L515.61 258.8 L514.6 258.89 L513.04 260 L511.36 262.8 L509.98 266.82 L508.97 271.58 L508.51 276.22 L508.47 287.53 L507.45 304.63 L507.44 311.69 L508.19 316.61 L509.33 319.81 L511.04 322.58 L513.37 324.93 L515.29 326.26 L518.73 327.95 L522.82 329.28 L527.52 330.31 L544.37 332.55 L570.2 336.83 L585.31 338.2 L595.34 339.43 L608.96 342.69 L614.33 342.12 L604.09 335.02 L595.42 330.12 L580.56 323.43 L570.63 318 L557.8 313.5 L551.95 311.11 L547.67 308.87 L543.49 306 L539.49 302.3 L537.01 299.38 L534.78 296.14 L532.84 292.69 L529.83 285.48 L523.59 267.26 M523.59 267.26 L521.69 262.88 L519.65 259.46 L517.77 257.74 L516.7 257.32 L515.66 257.3 L514.67 257.64 L513.74 258.36 L512.29 260.49 L510.8 264.32 L509.49 269.92 L508.85 275.66 L508.83 286.98 L507.89 303.81 L507.85 310.86 L508.52 315.81 L509.57 319.04 L511.15 321.85 L513.31 324.26 L516.08 326.26 L519.47 327.9 L523.44 329.2 L527.95 330.22 L543.77 332.43 L569.54 336.55 L577.4 337.32 L588.72 337.95 L600.13 339.72 L613.34 342.98 L613.87 340.21 L603.45 333.21 L595.19 328.74 L581.24 322.66 L571.68 317.76 L558.09 313.01 L552.1 310.47 L547.76 308.05 L543.55 304.93 L540.85 302.39 L538.31 299.47 L536 296.24 L533.98 292.79 L530.84 285.6 L524.4 266.99 M524.4 266.99 L522.44 262.42 L520.36 258.88 L519.21 257.64 L518.09 256.89 L517.01 256.55 L515.96 256.58 L514.97 256.94 L514.03 257.65 L512.59 259.73 L511.08 263.57 L509.74 269.24 L509.01 275.91 L509 287.52 L508.07 304.43 L508.12 311.36 L508.87 316.2 L509.99 319.35 L511.63 322.09 L513.84 324.43 L516.64 326.38 L521.27 328.43 L525.36 329.61 L531.55 330.8 L543.64 332.43 L567.49 336.22 L578.38 337.22 L589.31 337.69 L600.13 339.23 L613.58 342.62 L615.71 340.48 L605.08 333.33 L596.6 328.63 L582.26 322.44 L572.01 317.43 L559.33 313.06 L554.7 311.23 L548.78 308.11 L544.52 305 L541.79 302.46 L539.2 299.54 L536.83 296.3 L533.84 291.08 L531.53 285.67 L526.67 271.4 L524.42 265.47 M524.42 265.47 L522.07 260.4 L520.07 257.6 L518.93 256.68 L517.82 256.18 L516.75 256.04 L515.72 256.24 L514.75 256.77 L513.83 257.63 L512.16 260.57 L510.76 264.87 L509.59 270.82 L509.13 275.82 L509.13 287.48 L508.16 305.78 L508.38 312.51 L509.32 317.16 L510.59 320.17 L511.72 321.95 L513.1 323.55 L515.65 325.64 L518.77 327.36 L522.42 328.76 L526.57 329.86 L531.15 330.73 L567.87 336.21 L578.34 337.09 L588.54 337.43 L597.5 338.29 L611.39 341.79 L618.75 341.74 L608.24 334.66 L599.12 329.27 L592.28 326.05 L580.95 321.31 L572.52 317.28 L559.45 312.79 L554.75 310.91 L550.25 308.56 L545.92 305.57 L541.78 301.75 L539.21 298.72 L536.88 295.41 L534.85 291.92 L531.7 284.72 L525.09 265.89 M525.09 265.89 L523.11 261.35 L521.02 257.92 L519.86 256.74 L518.73 256.03 L517.62 255.7 L516.56 255.71 L515.54 256.04 L514.59 256.68 L512.85 259.04 L511.34 262.95 L509.99 268.73 L509.24 275.57 L509.23 287.18 L508.33 303.92 L508.35 310.84 L509.05 315.7 L510.09 318.87 L512.28 322.47 L514.55 324.72 L517.39 326.6 L520.76 328.13 L524.62 329.37 L530.45 330.62 L567.85 336.17 L577.84 336.96 L594.28 337.54 L607.55 340.44 L619.68 342.6 L612.6 336.95 L602.56 330.56 L594.96 326.7 L582.3 321.46 L573.15 317.21 L559.81 312.64 L555.04 310.72 L550.5 308.32 L546.14 305.25 L543.35 302.73 L540.68 299.82 L538.22 296.57 L535.08 291.35 L531.97 284.14 L525.3 265.29 M525.3 265.29 L522.88 259.97 L520.85 257.06 L519.7 256.09 L518.57 255.54 L517.47 255.34 L516.41 255.46 L514.46 256.63 L512.75 259.18 L511.28 263.26 L509.99 269.17 L509.33 275.21 L509.3 287.89 L508.36 306.18 L508.51 311.56 L509.32 316.3 L510.45 319.39 L512.75 322.88 L515.1 325.05 L516.98 326.3 L520.22 327.88 L526.68 329.87 L532.65 330.99 L560.25 335.16 L573.45 336.62 L591.33 337.12 L601.63 338.51 L615.34 342.02 L618.57 340.13 L607.59 332.96 L598.85 328.01 L592.34 325.04 L581.56 320.67 L574 317.21 L560.42 312.57 L555.57 310.64 L550.98 308.21 L546.58 305.09 L543.77 302.54 L541.09 299.58 L538.61 296.3 L535.46 291.05 L532.34 283.84 L525.6 264.88 M525.6 264.88 L523.61 260.41 L521.53 257.14 L520.36 256.02 L519.21 255.35 L518.09 255.05 L517.01 255.06 L515 255.98 L513.25 258.15 L511.71 261.93 L510.31 267.7 L509.41 275.52 L509.4 287.25 L508.51 303.93 L508.55 310.8 L509.25 315.62 L510.29 318.77 L512.43 322.36 L514.65 324.6 L517.41 326.48 L521.86 328.48 L525.72 329.64 L531.47 330.83 L566.63 335.97 L578.83 336.78 L593.9 336.98 L605.89 339.22 L619.15 342.12 L616.7 338.19 L605.94 331.24 L597.74 326.84 L573.97 316.81 L561.56 312.63 L556.6 310.72 L551.91 308.32 L547.45 305.22 L544.6 302.68 L541.88 299.72 L539.36 296.43 L536.13 291.16 L532.94 283.96 L528.52 271.17 L525.53 263.44 M525.53 263.44 L523.18 258.58 L521.17 256.04 L520.01 255.22 L518.49 254.7 L517.39 254.68 L516.01 255.11 L514.73 256.05 L513.85 257.1 L512.25 260.41 L510.73 265.93 L509.74 272.19 L509.48 276.37 L509.45 288.58 L508.57 305.48 L508.6 309.58 L508.94 313.36 L510.02 317.8 L511.94 321.54 L514.76 324.6 L518.5 327.02 L523.09 328.89 L529.81 330.56 L562.41 335.46 L575.17 336.53 L591.96 336.58 L600.62 337.37 L614.73 341.04 L622.47 340.32 L601.94 328.1 L594.96 324.77 L574.98 316.69 L562.21 312.41 L557.13 310.47 L552.36 308 L547.86 304.79 L544.99 302.15 L542.26 299.1 L539.74 295.72 L536.54 290.39 L533.38 283.18 L528.9 270.32 L526.43 263.91 M526.43 263.91 L524.41 259.43 L522.33 256.24 L521.14 255.17 L519.98 254.52 L518.83 254.21 L517.36 254.27 L515.98 254.83 L515.02 255.56 L513.31 257.94 L511.81 261.91 L510.45 267.87 L509.65 274.98 L509.6 287.8 L508.69 305.91 L508.84 311.24 L509.6 315.95 L511.14 319.97 L512.84 322.54 L515.9 325.38 L517.76 326.57 L520.93 328.1 L524.51 329.34 L528.46 330.34 L534.16 331.37 L558.69 335 L566.64 335.88 L574.05 336.31 L580.19 336.38 L593.11 336.05 L601.05 336.62 L615.25 340.28 L624.99 339.63 L613.95 333.76 L604.09 327.82 L596.83 324.29 L575.81 316.14 L558.8 310.36 L553.82 307.9 L549.21 304.66 L546.28 301.98 L543.49 298.86 L540.91 295.39 L537.63 289.97 L534.42 282.77 L529.83 269.76 L526.7 261.83 M526.7 261.83 L524.34 257.11 L522.32 254.73 L521.13 253.96 L519.96 253.54 L518.81 253.42 L517.34 253.69 L515.97 254.43 L515.03 255.28 L513.35 257.84 L511.89 262 L510.58 268.13 L509.84 275.3 L509.82 287.21 L508.91 305.09 L509.09 311.71 L509.92 316.31 L511.49 320.23 L513.21 322.74 L516.24 325.52 L518.06 326.69 L521.14 328.2 L524.59 329.43 L528.36 330.43 L533.75 331.47 L548.82 333.75 L560.54 335.26 L567.58 335.78 L576.17 335.87 L596.55 334.56 L603.77 334.95 L618.12 338.37 L629.97 337.09 L619.11 332.58 L608.4 326.47 L600.65 322.69 L590.87 318.87 L562.75 309.79 L557.22 307.4 L552.25 304.1 L549.18 301.3 L546.27 297.99 L543.57 294.27 L540.15 288.57 L536.85 281.37 L531.99 267.97 L528.64 259.7 M528.64 259.7 L526.71 255.77 L525.05 253.51 L522.99 252.02 L520.54 251.54 L518.23 252.09 L515.86 253.89 L514.14 256.38 L512.67 260.22 L511.28 266.37 L510.45 272.96 L510.24 287.86 L509.34 305.57 L509.7 313.17 L510.38 316.46 L511.44 319.39 L513.49 322.74 L514.78 324.19 L517.06 326.1 L521.63 328.65 L526.94 330.53 L535.04 332.32 L551.44 334.73 L555.55 334.96 L558.33 334.86 L560.87 334.34 L561.86 333.58 L561.83 332.83 L561.08 331.94 L558.18 330.23 L554.59 328.75 L542.51 324.51 L536.81 321.84 L532.45 318.97 L528.36 315.13 L524.87 310.28 L522.22 304.55 L520.39 298.3 L517.71 284.74 L516.61 280.35 M516.61 280.35 L515.47 276.93 L513.96 273.65 L512.53 271.58 L510.91 270.46 L510.32 270.42 L509.48 270.75 L508.26 272.18 L507.17 274.83 L506.58 277.91 L506.04 290.05 L504.51 308.21 L504.44 315.4 L505.02 319.19 L506.23 322.49 L508.12 325.33 L510.82 327.7 L513.15 329.02 L515.93 330.12 L522.87 331.73 L529.31 332.51 L542.12 333.57 L547.64 334.33 L570.61 338.64 L587.05 341.18 L601.08 344.16 L608.6 344.59 L599.42 338.09 L590.77 333.23 L579.05 327.5 L573.54 324.31 L571.52 322.68 L570.54 320.66 L569.05 319.51 L565.86 318.13 L554.46 314.14 L548.91 311.82 L543.4 308.71 L539.35 305.54 L536.79 302.94 L534.42 299.96 L532.32 296.67 L530.52 293.15 L528.35 287.66 L522.4 269.55 M522.4 269.55 L520.55 265.11 L518.52 261.49 L516.68 259.61 L514.95 259.13 L513.35 259.88 L511.62 262.31 L510.17 266.05 L508.93 271.47 L508.44 276.09 L508.36 288.44 L507.32 305.79 L507.44 312.74 L508.03 316.4 L509.14 319.64 L510.82 322.44 L513.12 324.82 L515.02 326.18 L518.46 327.89 L522.55 329.24 L527.28 330.28 L544.32 332.53 L570.81 336.94 L586.94 338.4 L598.84 340.34 L611.81 343.43 L611.39 340.29 L601.25 333.54 L593.18 329.27 L579.55 323.14 L570.35 318.01 L556.15 312.99 L550.37 310.48 L546.14 308.08 L542.01 304.97 L539.37 302.44 L536.89 299.53 L534.66 296.3 L532.72 292.86 L529.71 285.65 L523.5 267.46 M523.5 267.46 L521.6 263.07 L519.55 259.62 L517.68 257.89 L516.61 257.47 L515.57 257.45 L514.59 257.79 L513.66 258.53 L512.22 260.68 L510.73 264.52 L509.44 270.12 L508.81 275.82 L508.79 287.18 L507.83 304.09 L507.82 311.12 L508.52 316.04 L509.6 319.25 L511.22 322.04 L513.43 324.42 L516.25 326.4 L519.7 328.02 L523.73 329.3 L528.3 330.3 L544.28 332.51 L567.45 336.3 L574.77 337.13 L592.48 338.34 L606.14 341.33 L617.15 343.26 L608.84 336.88 L599.31 330.99 L592.03 327.43 L579.96 322.16 L571.17 317.62 L557.5 312.86 L553.01 310.99 L548.65 308.7 L544.42 305.77 L540.36 302.03 L537.85 299.06 L535.58 295.8 L533.61 292.33 L530.55 285.13 L524.17 266.68 M524.17 266.68 L522.24 262.24 L520.18 258.82 L519.03 257.63 L517.92 256.93 L516.84 256.63 L515.8 256.69 L514.82 257.09 L513.89 257.84 L512.45 260.02 L510.96 263.93 L509.66 269.64 L509.01 275.48 L508.96 288.03 L507.98 306.5 L508.14 311.93 L508.98 316.7 L510.17 319.79 L511.89 322.47 L514.19 324.75 L517.09 326.65 L520.56 328.19 L524.57 329.42 L529.08 330.39 L544.52 332.56 L569.28 336.44 L576.61 337.12 L594.79 338.23 L608.66 341.51 L618.37 342.65 L608.77 335.85 L599.39 330.16 L592.3 326.74 L580.55 321.73 L572.4 317.65 L558.4 312.78 L553.81 310.88 L549.39 308.55 L545.11 305.57 L541.01 301.76 L538.48 298.75 L536.18 295.46 L534.2 291.97 L531.11 284.77 L524.62 266.16 M524.62 266.16 L522.66 261.69 L520.6 258.3 L519.44 257.13 L518.32 256.43 L517.23 256.12 L516.17 256.16 L515.17 256.53 L514.23 257.23 L512.51 259.79 L511.04 263.82 L509.91 268.76 L509.13 275.54 L509.09 288.22 L508.16 305.25 L508.31 312.05 L509.18 316.77 L510.39 319.83 L512.11 322.48 L514.4 324.75 L517.27 326.63 L520.7 328.17 L524.63 329.4 L530.6 330.64 L567.1 336.13 L577.32 337.05 L594.71 337.89 L608.43 341.07 L619.32 342.64 L610.42 336.22 L600.77 330.24 L593.48 326.65 L581.37 321.58 L572.74 317.42 L559.82 312.97 L555.12 311.12 L549.15 307.94 L544.86 304.77 L542.11 302.19 L539.51 299.22 L537.14 295.94 L534.15 290.7 L531.84 285.29 L527.55 272.66 L524.67 265.01 M524.67 265.01 L522.32 259.99 L520.32 257.24 L519.17 256.34 L518.06 255.85 L516.97 255.72 L515.94 255.91 L514.03 257.25 L512.62 259.5 L511.15 263.57 L509.86 269.44 L509.23 275.41 L509.19 288.11 L508.27 305.07 L508.42 311.86 L509.26 316.58 L510.44 319.65 L512.81 323.12 L515.24 325.26 L518.23 327.04 L521.74 328.5 L525.74 329.65 L530.16 330.57 L567.56 336.14 L577.48 336.96 L593.65 337.52 L619.1 342.68 L613.15 337.41 L602.98 330.88 L595.26 326.92 L582.37 321.56 L573.19 317.27 L559.93 312.72 L555.16 310.82 L550.62 308.45 L546.26 305.41 L543.46 302.92 L540.78 300.04 L538.31 296.82 L535.15 291.62 L532 284.41 L525.33 265.51 M525.33 265.51 L523.34 260.98 L521.25 257.6 L520.09 256.45 L518.95 255.75 L517.84 255.42 L516.76 255.43 L515.74 255.74 L514.78 256.37 L513.03 258.63 L511.51 262.48 L510.3 267.38 L509.32 275.18 L509.29 287.83 L508.35 306.12 L508.49 311.51 L509.29 316.26 L510.42 319.35 L512.05 322.04 L514.21 324.35 L516.93 326.28 L521.37 328.33 L525.25 329.52 L531.07 330.74 L567.68 336.12 L577.21 336.85 L592 337.18 L603.13 338.94 L616.61 342.26 L617.25 339.42 L606.39 332.3 L597.93 327.64 L591.65 324.83 L583.72 321.68 L573.81 317.19 L560.26 312.55 L555.43 310.62 L550.84 308.18 L546.46 305.06 L543.64 302.5 L540.97 299.55 L538.5 296.27 L535.37 291.02 L532.25 283.81 L525.53 264.88 M525.53 264.88 L523.54 260.43 L521.47 257.17 L520.3 256.06 L519.16 255.4 L518.04 255.09 L516.96 255.11 L514.96 256.05 L513.2 258.24 L511.67 262.05 L510.28 267.82 L509.39 275.63 L509.38 287.39 L508.49 304.11 L508.55 310.97 L509.27 315.77 L510.33 318.91 L512.5 322.47 L514.75 324.7 L517.54 326.57 L522.03 328.54 L525.92 329.69 L531.71 330.87 L567.26 336.04 L576.18 336.71 L589.26 336.89 L596.5 337.24 L610.14 340.48 L621.75 341.82 L612.99 335.9 L603.02 329.66 L595.55 325.92 L583.11 320.9 L573.5 316.69 L561.05 312.51 L556.12 310.57 L551.46 308.12 L547.04 304.97 L544.2 302.38 L541.5 299.39 L539.01 296.07 L535.85 290.79 L532.71 283.59 L525.9 264.52 M525.9 264.52 L523.89 260.04 L521.81 256.8 L520.64 255.71 L519.49 255.05 L518.36 254.74 L516.91 254.81 L514.92 255.89 L513.19 258.21 L511.68 262.13 L510.32 268.01 L509.51 275.04 L509.47 287.78 L508.54 305.96 L508.69 311.32 L509.46 316.05 L510.55 319.14 L512.77 322.65 L515.04 324.84 L517.83 326.67 L522.29 328.62 L527.51 330.08 L533.33 331.16 L559.28 335.04 L568.17 336.09 L576.87 336.61 L595.98 336.8 L608.88 339.61 L621.76 341.64 L615.84 336.79 L605.32 330.11 L597.42 326.01 L574.08 316.43 L557.84 310.85 L553.02 308.49 L548.5 305.43 L545.61 302.91 L542.84 299.97 L540.26 296.67 L536.93 291.38 L533.63 284.18 L529.15 271.32 L526.08 263.36 M526.08 263.36 L523.68 258.34 L521.66 255.74 L520.49 254.88 L519.34 254.41 L518.21 254.25 L516.77 254.5 L514.82 255.8 L513.12 258.32 L511.65 262.44 L510.34 268.46 L509.61 275.51 L509.6 287.36 L508.68 305.4 L508.89 312.04 L509.77 316.65 L510.94 319.65 L512.6 322.26 L515.58 325.16 L517.41 326.38 L520.54 327.94 L524.1 329.21 L528.02 330.23 L533.72 331.29 L558.39 334.95 L566.39 335.87 L573.86 336.34 L580.08 336.43 L593.23 336.15 L601.69 336.9 L615.92 340.58 L624.19 339.57 L612.84 333.36 L603.23 327.63 L596.14 324.24 L575.57 316.21 L558.7 310.47 L553.74 308.04 L549.14 304.83 L546.22 302.19 L543.43 299.1 L540.85 295.66 L537.55 290.27 L534.31 283.07 L529.74 270.08 L526.61 262.13 M526.61 262.13 L524.24 257.34 L522.22 254.91 L521.04 254.12 L519.87 253.69 L518.72 253.56 L517.25 253.82 L515.89 254.55 L514.95 255.41 L513.28 257.99 L511.82 262.18 L510.67 267.39 L509.8 275.44 L509.8 286.25 L508.91 303.92 L508.97 310.68 L509.65 315.43 L511.07 319.5 L512.67 322.11 L515.55 325.02 L517.3 326.25 L520.3 327.83 L523.68 329.13 L527.41 330.18 L534.18 331.51 L555.25 334.63 L565.27 335.68 L573.63 336 L581.64 335.81 L592.71 335.05 L598.17 334.94 L623.16 339.14 L625.5 336.29 L613.27 330.24 L604.03 325.1 L597.31 322.03 L592.41 320.11 L565.62 311.28 L560.01 309.24 L554.77 306.58 L551.57 304.27 L548.54 301.5 L545.65 298.24 L542.98 294.58 L539.58 288.95 L536.3 281.76 L531.5 268.46 L528.19 260.24 M528.19 260.24 L526.25 256.28 L524.19 253.6 L522.15 252.34 L519.75 252.02 L517.51 252.72 L515.23 254.71 L513.59 257.47 L512.17 261.8 L511.05 267.19 L510.29 273.71 L510.15 287.59 L509.23 306.7 L509.45 311.82 L509.99 315.26 L510.92 318.34 L512.26 321.05 L513.39 322.67 L515.43 324.8 L517.03 326.05 L519.73 327.67 L524.92 329.79 L531.96 331.58 L549.18 334.3 L558.2 335.06 L562.74 334.94 L565.89 334.49 L568.35 333.69 L569.83 332.57 L570.09 331.54 L569.79 330.78 L567.96 329.11 L564.54 327.25 L551.72 321.9 L545.95 319.03 L540.01 315.01 L537.06 312.38 L534.24 309.28 L530.51 303.81 L527.61 297.62 L525.52 291.18 L522.51 279.38 L520.65 273.14 M520.65 273.14 L518.88 268.38 L516.9 264.38 L515.46 262.57 L514.77 262.07 L513.77 261.79 L513.13 261.89 L512.21 262.45 L510.55 264.8 L509.19 268.45 L508.12 273.6 L507.84 277.1 L507.74 289.75 L506.72 306.16 L506.84 313.23 L507.48 316.95 L508.69 320.21 L510.52 323.02 L513.06 325.38 L515.18 326.7 L519.03 328.34 L522.03 329.22 L527.17 330.26 L543.97 332.31 L571.02 337.09 L593.24 339.96 L606.74 342.98 L611.22 342.11 L601.24 335.26 L592.77 330.63 L578.23 323.85 L574.48 321.65 L570.4 318.79 L567.15 317.36 L557.01 313.9 L551.37 311.69 L545.8 308.85 L541.71 305.99 L537.8 302.31 L535.41 299.39 L533.28 296.16 L531.44 292.71 L529.21 287.31 L524.66 273.42 L522.59 267.81 M522.59 267.81 L520.75 263.64 L518.74 260.34 L516.9 258.71 L515.85 258.37 L514.85 258.44 L513.27 259.49 L511.58 262.24 L510.17 266.25 L509 271.85 L508.59 276.51 L508.5 289.31 L507.53 305.29 L507.62 312.24 L508.46 317.07 L509.68 320.19 L511.47 322.88 L513.88 325.17 L515.85 326.46 L519.35 328.1 L523.47 329.38 L528.18 330.38 L544.84 332.61 L570.28 336.79 L593.95 338.98 L607.78 342.22 L615.68 342.77 L605.76 335.72 L596.77 330.47 L581.28 323.49 L570.81 317.9 L557.73 313.32 L551.85 310.89 L547.56 308.58 L543.38 305.63 L539.38 301.84 L536.92 298.86 L534.72 295.58 L532.82 292.1 L530.51 286.7 L523.62 266.74 M523.62 266.74 L521.73 262.46 L519.69 259.14 L518.55 257.99 L517.45 257.33 L516.39 257.08 L515.37 257.2 L514.4 257.68 L513.48 258.54 L512.07 260.9 L510.63 264.95 L509.4 270.69 L508.89 275.6 L508.85 288.1 L507.88 305.2 L508 312.08 L508.86 316.85 L510.07 319.95 L511.82 322.62 L514.16 324.9 L517.12 326.79 L520.67 328.31 L524.79 329.53 L529.41 330.47 L545.29 332.66 L568.53 336.41 L575.95 337.17 L594.69 338.48 L608.57 341.78 L617.5 342.65 L607.67 335.7 L598.45 330.19 L591.47 326.87 L582.62 323.13 L572.17 317.85 L558.6 313.1 L554.05 311.28 L548.21 308.19 L543.98 305.11 L539.95 301.2 L537.49 298.13 L535.28 294.8 L533.39 291.29 L531.09 285.88 L526.88 273.34 L524.08 265.82 M524.08 265.82 L521.75 260.77 L520.53 258.87 L519.38 257.59 L518.25 256.82 L517.16 256.45 L516.11 256.45 L514.79 256.97 L513.87 257.76 L513 258.96 L511.19 263.24 L509.83 268.88 L509.09 274.82 L509.01 288.25 L508.04 306.74 L508.22 312.13 L508.8 315.74 L510.31 319.92 L511.42 321.73 L512.77 323.37 L516.25 326.12 L520.77 328.24 L524.77 329.46 L529.25 330.41 L544.55 332.58 L565.81 335.99 L575.85 337.03 L592.22 337.82 L617.57 343.05 L612.13 337.87 L602.05 331.37 L594.35 327.43 L581.48 321.96 L572.81 317.69 L558.73 312.78 L554.1 310.88 L549.66 308.54 L545.36 305.56 L541.25 301.74 L538.7 298.72 L536.4 295.42 L534.4 291.94 L531.3 284.73 L524.77 266.05 M524.77 266.05 L522.8 261.57 L520.73 258.17 L519.58 257 L518.45 256.3 L517.35 255.98 L516.3 256.01 L515.29 256.37 L514.35 257.05 L512.62 259.54 L511.14 263.54 L509.99 268.47 L509.17 275.3 L509.14 287.89 L508.18 306.26 L508.32 311.67 L509.14 316.43 L510.29 319.53 L511.96 322.22 L514.19 324.52 L516.98 326.44 L521.56 328.46 L525.59 329.63 L531.63 330.81 L568.41 336.27 L579.01 337.1 L589.46 337.42 L599.27 338.58 L613.02 342.1 L617.97 341.04 L607.21 333.85 L598.36 328.76 L591.74 325.71 L583.38 322.3 L572.42 317.17 L559.23 312.65 L554.52 310.73 L550.03 308.34 L545.7 305.29 L542.92 302.78 L540.27 299.89 L537.84 296.67 L534.73 291.46 L531.63 284.25 L525.04 265.51 M525.04 265.51 L523.07 261.06 L521 257.74 L519.84 256.61 L518.7 255.93 L517.6 255.62 L516.53 255.65 L515.52 256 L514.57 256.66 L512.83 259.05 L511.33 262.99 L510 268.8 L509.25 275.64 L509.25 287.3 L508.34 304.06 L508.38 310.96 L509.1 315.8 L510.16 318.96 L512.36 322.54 L514.65 324.78 L517.49 326.64 L520.87 328.17 L524.73 329.39 L530.55 330.64 L567.73 336.15 L577.57 336.93 L593.41 337.42 L618.84 342.61 L614.04 337.78 L603.7 331.09 L595.84 327 L582.71 321.55 L573.34 317.22 L559.96 312.63 L555.17 310.71 L550.62 308.31 L546.26 305.23 L543.45 302.71 L540.78 299.79 L538.32 296.55 L535.18 291.32 L532.05 284.11 L525.37 265.23 M525.37 265.23 L523.39 260.74 L521.31 257.43 L520.14 256.3 L519 255.62 L517.89 255.3 L516.81 255.32 L514.82 256.27 L513.07 258.52 L511.55 262.37 L510.18 268.15 L509.36 275.1 L509.32 287.74 L508.38 305.99 L508.52 311.39 L509.3 316.14 L510.41 319.25 L512.67 322.76 L514.99 324.95 L517.86 326.78 L522.47 328.71 L526.46 329.82 L532.38 330.96 L561.89 335.4 L569.5 336.29 L575.82 336.75 L589.19 337.03 L596.88 337.5 L610.75 340.9 L621.25 341.83 L611.56 335.44 L601.86 329.46 L594.6 325.89 L582.52 320.99 L574.52 317.35 L560.99 312.7 L556.11 310.8 L551.47 308.42 L547.06 305.37 L544.23 302.86 L541.52 299.94 L539.01 296.69 L535.79 291.45 L532.6 284.25 L528.22 271.52 L525.27 263.82 M525.27 263.82 L522.92 258.94 L521.7 257.18 L520.52 256.03 L519.37 255.33 L517.88 254.95 L516.46 255.13 L515.14 255.84 L513.93 257.08 L513.09 258.43 L511.59 262.36 L510.08 269.12 L509.44 275.2 L509.4 287.97 L508.47 307.61 L508.77 312.81 L509.44 316.28 L511.06 320.29 L513.57 323.6 L517.02 326.25 L519.09 327.34 L522.59 328.73 L526.52 329.84 L530.83 330.72 L562.91 335.53 L570.42 336.32 L576.64 336.69 L589.69 336.81 L597 337.17 L610.71 340.48 L622.17 341.61 L603.13 329.46 L595.69 325.74 L583.3 320.77 L573.59 316.58 L557.65 311.08 L551.36 307.88 L546.93 304.65 L544.1 302 L541.41 298.95 L538.94 295.59 L535.82 290.28 L533.42 284.88 L525.92 264.05 M525.92 264.05 L523.93 259.68 L521.86 256.55 L520.69 255.5 L519.53 254.87 L518.4 254.59 L516.95 254.68 L514.96 255.79 L513.23 258.11 L511.72 262.04 L510.36 267.93 L509.55 274.99 L509.51 287.73 L508.59 305.88 L508.72 311.24 L509.49 315.98 L510.57 319.07 L512.77 322.58 L515.01 324.78 L516.79 326.04 L519.88 327.67 L523.41 328.99 L527.34 330.05 L533.1 331.14 L556.7 334.68 L564.73 335.73 L572.22 336.36 L578.45 336.59 L591.57 336.49 L599.45 337.02 L613.52 340.63 L623.43 340.57 L603.07 328.48 L595.84 324.95 L575.25 316.65 L558.95 311.09 L554.04 308.81 L549.45 305.85 L545.1 302.02 L542.36 298.94 L539.84 295.53 L536.65 290.18 L533.5 282.98 L529 270.09 L526.53 263.69 M526.53 263.69 L524.5 259.24 L522.42 256.09 L521.24 255.03 L520.07 254.39 L518.92 254.09 L517.45 254.15 L516.07 254.7 L515.1 255.44 L513.38 257.79 L511.88 261.73 L510.51 267.68 L509.69 274.83 L509.67 286.45 L508.77 304.24 L508.86 311 L509.59 315.74 L511.08 319.78 L512.75 322.37 L515.74 325.24 L517.57 326.45 L520.69 328 L524.22 329.26 L528.11 330.28 L533.73 331.33 L559.55 335.12 L567.51 335.93 L574.93 336.28 L594.12 335.88 L602.63 336.66 L616.94 340.31 L625.08 338.99 L613.51 332.98 L603.84 327.24 L596.73 323.84 L575.9 315.9 L560.39 310.73 L555.26 308.42 L550.53 305.34 L547.55 302.78 L544.7 299.77 L542.03 296.36 L538.57 290.91 L535.16 283.72 L530.53 270.69 L527.3 262.38 M527.3 262.38 L524.85 257.28 L522.81 254.7 L521.61 253.85 L520.43 253.37 L519.26 253.19 L517.77 253.38 L516.71 253.83 L515.41 254.82 L513.68 257.18 L512.19 261.07 L510.81 267.09 L509.91 275.22 L509.88 287.13 L508.98 304.97 L509.14 311.58 L509.95 316.19 L511.49 320.12 L513.17 322.63 L516.15 325.43 L518.9 327.15 L522.04 328.57 L529.31 330.69 L550.64 334.08 L562.11 335.4 L568.91 335.73 L577.09 335.59 L595.43 333.86 L600.73 333.71 L610.89 335.31 L626.01 337.1 L629.28 334.31 L616.48 329.07 L606.77 323.8 L599.8 320.65 L590.93 317.4 L564.24 309.22 L558.5 306.81 L554.98 304.7 L551.76 302.06 L547.28 297.12 L544.55 293.24 L541.14 287.42 L538.59 281.99 L532.87 266.55 L529.48 258.32 M529.48 258.32 L527.6 254.59 L525.91 252.37 L523.8 250.9 L521.71 250.5 L519.32 250.99 L516.81 252.7 L514.71 255.41 L513.21 258.9 L511.57 265.81 L510.59 274.29 L510.45 287.37 L509.5 307.55 L509.78 312.51 L510.63 316.87 L512.14 320.6 L513.15 322.24 L514.98 324.42 L517.99 326.86 L522.47 329.25 L528.57 331.33 L537.01 333.13 L548.56 334.88 L551.54 334.96 L552.79 334.54 L552.61 334.15 L551.85 333.67 L549.28 332.74 L536.13 329.91 L530.7 328.26 L527.95 327.05 L525.26 325.51 L522.71 323.61 L520.38 321.31 L517.46 317.11 L515.96 313.84 L514.83 310.26 L513.71 304.52 L512.14 290.22 M512.14 290.22 L510.94 284.4 L509.51 281.14 L508.39 279.86 L507.37 279.44 L506.51 279.7 L505.65 280.83 L505.12 282.35 L504.61 285.05 L501.38 312.21 L501.13 319.13 L501.38 321.64 L501.94 323.93 L503.29 327 L504.54 328.84 L506.12 330.51 L508.11 331.98 L512.08 333.74 L517.25 335.01 L526.16 336 L540.74 336.66 L550.47 337.86 L575.56 342.44 L601.13 347.62 L603.99 345.95 L594.6 339.72 L575.8 329.53 L571.3 326.53 L570.45 325.69 L570.17 324.71 L572.12 323.31 L572.5 322.58 L571.96 321.7 L571.02 321.03 L566.66 319.08 L555.85 315.18 L550.08 312.65 L544.39 309.26 L540.23 305.82 L537.59 303.01 L535.16 299.83 L533.01 296.35 L531.18 292.67 L528.99 287.01 L525.04 274.4 L522.93 268.45 M522.93 268.45 L521.06 263.97 L519.03 260.4 L517.17 258.59 L516.11 258.16 L515.1 258.15 L513.51 259.04 L511.79 261.63 L510.35 265.54 L509.26 270.3 L508.64 275.9 L508.63 287.19 L507.66 304.18 L507.65 311.25 L508.37 316.2 L509.48 319.42 L511.15 322.21 L513.42 324.58 L515.3 325.94 L518.66 327.65 L522.65 329.01 L527.24 330.07 L545.61 332.62 L567.95 336.38 L575.89 337.31 L587.34 338.12 L598.73 339.85 L611.92 343.06 L612.95 340.54 L602.64 333.59 L594.38 329.14 L580.41 322.95 L571.46 318.1 L557.19 313.04 L551.32 310.54 L547.04 308.16 L542.87 305.1 L540.2 302.6 L537.68 299.71 L535.39 296.52 L533.4 293.09 L530.29 285.91 L523.96 267.47 M523.96 267.47 L521.59 262.06 L519.57 258.91 L517.7 257.38 L516.63 257.05 L515.6 257.1 L514.62 257.5 L513.69 258.28 L512.26 260.5 L510.79 264.43 L509.51 270.11 L508.9 275.85 L508.84 288.5 L507.88 305.68 L508.06 312.5 L508.98 317.21 L510.24 320.25 L512.06 322.89 L514.47 325.12 L517.49 326.96 L521.1 328.46 L525.26 329.64 L529.93 330.56 L544 332.47 L569.4 336.51 L577.05 337.25 L587.85 337.82 L598.05 339.1 L611.65 342.51 L615.88 341.31 L605.34 334.12 L596.68 329.23 L581.96 322.79 L571.93 317.73 L558.21 312.94 L553.66 311.08 L549.27 308.8 L545.01 305.91 L540.92 302.19 L538.38 299.24 L536.07 295.99 L534.06 292.53 L530.93 285.33 L524.48 266.72 M524.48 266.72 L522.52 262.18 L520.44 258.69 L519.29 257.47 L518.17 256.74 L517.08 256.41 L516.04 256.44 L515.04 256.8 L514.1 257.5 L512.38 260.11 L510.92 264.15 L509.65 269.94 L509.05 275.78 L509 288.54 L508.07 305.65 L508.26 312.43 L509.18 317.11 L510.44 320.14 L512.23 322.76 L514.6 324.99 L517.55 326.84 L521.06 328.34 L525.1 329.54 L529.61 330.47 L569.4 336.43 L576.59 337.07 L593.88 337.97 L607.51 341.03 L618.72 342.87 L610.33 336.58 L600.64 330.55 L593.3 326.92 L581.09 321.75 L572.63 317.59 L558.45 312.65 L553.83 310.74 L549.39 308.36 L545.1 305.32 L541.01 301.44 L538.48 298.38 L536.21 295.06 L534.24 291.56 L531.19 284.34 L524.68 265.76 M524.68 265.76 L522.73 261.36 L520.67 258.05 L519.52 256.92 L518.39 256.24 L517.3 255.95 L516.24 256.01 L515.24 256.38 L514.3 257.08 L512.58 259.62 L511.1 263.66 L509.96 268.61 L509.17 275.42 L509.13 288.09 L508.18 306.49 L508.35 311.88 L509.19 316.61 L510.37 319.68 L512.07 322.35 L514.33 324.63 L517.15 326.53 L521.77 328.53 L525.81 329.68 L531.88 330.85 L568.78 336.3 L579.51 337.12 L590.22 337.44 L600.79 338.91 L614.36 342.36 L616.99 340.36 L606.21 333.17 L597.62 328.36 L583.11 322.16 L572.31 317.11 L555.89 311.33 L549.86 308.22 L545.54 305.13 L542.77 302.59 L540.13 299.67 L537.71 296.43 L534.63 291.21 L532.24 285.81 L524.98 265.31 M524.98 265.31 L523.02 260.92 L520.96 257.66 L519.8 256.55 L518.67 255.89 L517.57 255.6 L516.5 255.64 L515.49 256 L514.54 256.67 L512.81 259.09 L511.31 263.06 L509.99 268.88 L509.25 275.72 L509.25 287.42 L508.34 304.21 L508.4 311.09 L509.13 315.91 L510.21 319.05 L512.43 322.62 L514.74 324.84 L517.6 326.69 L520.99 328.21 L524.86 329.43 L530.69 330.66 L567.9 336.17 L577.78 336.93 L593.8 337.43 L619.27 342.59 L613.62 337.46 L603.38 330.87 L595.61 326.86 L582.63 321.49 L573.31 317.18 L559.89 312.59 L555.1 310.66 L550.55 308.24 L546.19 305.15 L543.39 302.61 L540.72 299.68 L538.26 296.42 L535.14 291.18 L532.03 283.97 L525.35 265.11 M525.35 265.11 L523.37 260.66 L521.3 257.38 L520.13 256.26 L518.99 255.59 L517.88 255.28 L516.8 255.3 L514.81 256.26 L513.07 258.53 L511.55 262.39 L510.17 268.18 L509.36 275.12 L509.32 287.78 L508.39 306.04 L508.53 311.43 L509.31 316.18 L510.43 319.28 L512.7 322.79 L515.03 324.97 L517.9 326.79 L522.51 328.72 L526.5 329.83 L532.42 330.96 L559.69 335.08 L569.47 336.29 L575.77 336.74 L589.06 337.01 L596.59 337.45 L610.4 340.78 L621.31 341.9 L611.92 335.64 L602.14 329.57 L594.82 325.95 L582.62 321.01 L573.27 316.83 L561.03 312.7 L556.14 310.8 L551.51 308.42 L547.09 305.36 L544.25 302.85 L541.55 299.93 L539.04 296.68 L535.82 291.44 L532.62 284.24 L528.24 271.5 L525.28 263.8 M525.28 263.8 L522.93 258.92 L520.93 256.34 L519.77 255.5 L518.27 254.97 L517.18 254.95 L515.8 255.4 L514.54 256.36 L513.66 257.45 L512.07 260.87 L510.58 266.42 L509.62 272.65 L509.4 276.77 L509.4 287.93 L508.48 306.17 L508.55 310.24 L508.95 313.97 L510.14 318.34 L512.18 322 L515.14 324.98 L519.05 327.32 L523.8 329.11 L529.29 330.44 L560.56 335.21 L573.08 336.5 L595.93 337.04 L609.15 340.02 L621.6 341.86 L614.47 336.52 L604.2 330.01 L596.49 326.06 L573.76 316.62 L561.17 312.39 L556.2 310.43 L551.52 307.95 L547.09 304.74 L544.25 302.11 L541.55 299.07 L539.07 295.71 L535.93 290.41 L533.51 285.01 L525.98 264.13 M525.98 264.13 L523.99 259.72 L521.92 256.56 L520.74 255.5 L519.59 254.86 L518.45 254.57 L517 254.65 L515.01 255.74 L513.27 258.03 L511.76 261.93 L510.39 267.81 L509.56 274.88 L509.54 286.44 L508.63 304.29 L508.72 311.08 L509.46 315.83 L510.52 318.94 L512.68 322.48 L514.9 324.69 L517.64 326.55 L522.02 328.52 L527.15 330.01 L534.38 331.35 L558.2 334.9 L569.01 336.13 L577.71 336.56 L590.26 336.47 L596.98 336.68 L610.18 339.7 L622.88 341.24 L615.74 336.2 L605.28 329.63 L597.49 325.63 L575.64 316.76 L557.68 310.53 L552.85 308.09 L548.32 304.9 L545.43 302.28 L542.68 299.24 L540.13 295.85 L536.88 290.51 L533.68 283.31 L529.17 270.41 L526.12 262.58 M526.12 262.58 L523.76 257.81 L521.75 255.36 L520.57 254.57 L519.41 254.14 L518.28 254.01 L516.84 254.3 L514.88 255.64 L513.19 258.16 L511.72 262.29 L510.41 268.34 L509.68 275.43 L509.66 287.29 L508.75 305.28 L508.95 311.92 L509.81 316.53 L510.96 319.53 L512.58 322.15 L515.52 325.06 L517.31 326.29 L520.38 327.86 L523.87 329.15 L527.72 330.19 L533.3 331.27 L555.51 334.58 L564.56 335.68 L573.79 336.24 L597.75 335.93 L610.17 338.57 L623.8 340.31 L619.48 336.33 L608.34 329.61 L600.07 325.23 L594 322.57 L576.74 316.12 L559.49 310.3 L554.41 307.85 L549.75 304.6 L546.79 301.9 L543.99 298.75 L541.38 295.23 L538.07 289.78 L534.84 282.58 L530.2 269.51 L527.03 261.51 M527.03 261.51 L524.67 256.79 L522.64 254.42 L521.45 253.66 L520.26 253.24 L519.1 253.11 L517.62 253.37 L516.57 253.87 L515.28 254.92 L513.58 257.38 L512.1 261.4 L510.75 267.5 L509.91 275.59 L509.88 287.68 L508.98 305.6 L509.22 312.13 L510.1 316.66 L511.73 320.51 L513.47 322.97 L516.53 325.7 L519.33 327.38 L522.52 328.76 L529.83 330.82 L549.68 333.97 L560.79 335.28 L568.99 335.69 L576.92 335.51 L598.75 333.39 L605.55 333.68 L619.83 336.71 L632.84 335.33 L622.97 331.4 L603.36 321.55 L597.43 319.08 L593.08 317.5 L565.31 309.18 L559.47 306.8 L555.85 304.76 L554.18 303.53 L551 300.66 L548.02 297.25 L545.26 293.38 L541.77 287.46 L539.16 282 L533.39 266.51 L529.95 258.14 M529.95 258.14 L528.05 254.32 L526.35 252.03 L524.22 250.49 L522.11 250.05 L519.68 250.58 L517.14 252.29 L514.99 254.95 L513.47 258.25 L511.62 265.97 L510.66 274.46 L510.51 287.63 L509.56 306.46 L509.74 311.51 L510.45 315.99 L511.79 319.84 L512.71 321.54 L514.39 323.82 L517.2 326.37 L521.45 328.9 L527.29 331.11 L533.43 332.65 L546.08 334.82 L549.06 335.07 L550.39 334.86 L549.66 334.24 L547.35 333.55 L534.76 331.39 L529.49 330.04 L524.18 327.7 L521.66 326.05 L519.33 324.04 L517.25 321.65 L515.5 318.89 L514.1 315.78 L513.05 312.37 L511.82 304.99 L510.81 292.82 M523.48 268.42 L521.56 263.76 L519.51 260.05 L517.64 258.15 L516.56 257.67 L515.53 257.59 L514.54 257.9 L513.61 258.6 L512.17 260.71 L510.68 264.51 L509.38 270.09 L508.75 275.78 L508.75 287.12 L507.81 304.05 L507.81 311.1 L508.52 316.04 L509.62 319.25 L511.27 322.04 L513.51 324.42 L515.36 325.78 L518.66 327.5 L522.57 328.88 L527.06 329.95 L544.97 332.49 L569.37 336.5 L577.48 337.33 L589.49 338.1 L602 340.35 L614.66 343.3 L611.44 338.94 L601.35 332.36 L593.49 328.29 L580.33 322.53 L571.38 317.81 L558.09 313.17 L552.15 310.7 L547.84 308.36 L543.63 305.35 L539.63 301.52 L537.17 298.5 L534.97 295.21 L533.07 291.72 L530.77 286.32 L526.01 272.18 L523.82 266.34 M523.82 266.34 L521.93 262.07 L520.68 259.87 L519.13 258 L517.28 256.91 L515.55 256.9 L513.95 257.87 L512.78 259.44 L511.47 262.37 L509.99 267.72 L509.03 274.47 L508.93 287.64 L507.99 304.6 L507.97 310.22 L508.56 315.23 L509.53 318.51 L511.01 321.37 L513.06 323.83 L515.71 325.89 L518.95 327.59 L522.76 328.95 L527.09 330.02 L569.07 336.44 L576.45 337.15 L595.02 338.37 L608.9 341.68 L617.98 342.57 L608.13 335.64 L598.87 330.08 L591.86 326.74 L582.97 323.01 L572.29 317.72 L558.44 312.89 L553.86 311.02 L549.45 308.72 L545.17 305.8 L541.07 302.05 L538.53 299.08 L536.22 295.81 L534.21 292.34 L531.09 285.14 L524.6 266.49 M512.5 260 C512.98 259.07 514.67 255.83 515.4 254.4 C516.13 252.97 516.15 252.77 516.9 251.4 C517.65 250.03 518.97 247.55 519.9 246.2 C520.83 244.85 521.63 243.97 522.5 243.3 C523.37 242.63 524.1 242.2 525.1 242.2 C526.1 242.2 527.37 242.63 528.5 243.3 C529.63 243.97 530.35 244.1 531.9 246.2 C533.45 248.3 536.07 252.55 537.8 255.9 C539.53 259.25 540.8 262.57 542.3 266.3 C543.8 270.03 545.3 274.57 546.8 278.3 C548.3 282.03 549.82 285.97 551.3 288.7 C552.78 291.43 554 292.82 555.7 294.7 C557.4 296.58 559.77 298.68 561.5 300 C563.23 301.32 563.88 301.43 566.1 302.6 C568.32 303.77 570.43 305.1 574.8 307 C579.17 308.9 586.48 311.38 592.3 314 C598.12 316.62 603.9 319.65 609.7 322.7 C615.5 325.75 623.28 330.32 627.1 332.3 C630.92 334.28 631.55 334.05 632.6 334.6 C633.65 335.15 633.58 335.23 633.4 335.6 C633.22 335.97 632.73 336.07 631.5 336.8 C630.27 337.53 628.08 338.9 626 340 C623.92 341.1 620.17 342.83 619 343.4 M514.5 257 C514.92 256.17 516.08 253.5 517 252 C517.92 250.5 518.95 248.97 520 248 C521.05 247.03 522.22 246.33 523.3 246.2 C524.38 246.07 525.42 246.48 526.5 247.2 C527.58 247.92 528.42 248.57 529.8 250.5 C531.18 252.43 533.23 255.83 534.8 258.8 C536.37 261.77 537.8 264.97 539.2 268.3 C540.6 271.63 541.8 275.32 543.2 278.8 C544.6 282.28 546.13 286.28 547.6 289.2 C549.07 292.12 550.27 294.2 552 296.3 C553.73 298.4 555.67 300.22 558 301.8 C560.33 303.38 563.17 304.47 566 305.8 C568.83 307.13 570.67 307.97 575 309.8 C579.33 311.63 586.33 314.23 592 316.8 C597.67 319.37 604 322.58 609 325.2 C614 327.82 619.83 331.28 622 332.5" fill="none" stroke="#1f77b4" stroke-width="1.6" stroke-linejoin="round" stroke-linecap="round"/>
<path d="M500.25 159.51 L592.78 191.72 M592.78 191.72 L642.49 137.69 M642.49 137.69 L646.17 40.3 M500.68 160.25 L502.08 158.97 M527.41 169.56 L528.78 168.25 M554.88 179.13 L556.22 177.78 M583.11 188.97 L584.41 187.58 M605.32 179.19 L603.02 178.41 M624.36 158.46 L622.11 157.72 M642.32 138.91 L640.12 138.21 M643.7 125.36 L641.49 124.68 M644.74 98.21 L642.49 97.54 M645.81 70.25 L643.52 69.61 M646.91 41.46 L644.59 40.84" fill="none" stroke="#000" stroke-width="0.8"/>
<text x="498.35" y="174.72" font-size="8.8" text-anchor="middle" font-family="DejaVu Sans, Liberation Sans, sans-serif">0.0</text>
<text x="525.07" y="184.03" font-size="8.8" text-anchor="middle" font-family="DejaVu Sans, Liberation Sans, sans-serif">0.2</text>
<text x="552.52" y="193.58" font-size="8.8" text-anchor="middle" font-family="DejaVu Sans, Liberation Sans, sans-serif">0.4</text>
<text x="580.74" y="203.41" font-size="8.8" text-anchor="middle" font-family="DejaVu Sans, Liberation Sans, sans-serif">0.6</text>
<text x="611.55" y="195.13" font-size="8.8" text-anchor="middle" font-family="DejaVu Sans, Liberation Sans, sans-serif">0.2</text>
<text x="630.61" y="174.41" font-size="8.8" text-anchor="middle" font-family="DejaVu Sans, Liberation Sans, sans-serif">0.3</text>
<text x="648.59" y="154.88" font-size="8.8" text-anchor="middle" font-family="DejaVu Sans, Liberation Sans, sans-serif">0.4</text>
<text x="661.37" y="129.53" font-size="8.8" text-anchor="middle" font-family="DejaVu Sans, Liberation Sans, sans-serif">0.04</text>
<text x="662.39" y="102.39" font-size="8.8" text-anchor="middle" font-family="DejaVu Sans, Liberation Sans, sans-serif">0.08</text>
<text x="663.45" y="74.44" font-size="8.8" text-anchor="middle" font-family="DejaVu Sans, Liberation Sans, sans-serif">0.12</text>
<text x="664.53" y="45.65" font-size="8.8" text-anchor="middle" font-family="DejaVu Sans, Liberation Sans, sans-serif">0.16</text>
<text transform="translate(526.2 206.3) rotate(19.3)" font-size="10.5" font-family="DejaVu Sans, Liberation Sans, sans-serif"><tspan x="0" y="0">a</tspan><tspan font-size="7.35" font-style="italic" x="6.3" y="1.9">sd</tspan></text>
<text transform="translate(637.95 199.9) rotate(-47.8)" font-size="10.5" font-family="DejaVu Sans, Liberation Sans, sans-serif"><tspan x="0" y="0">a</tspan><tspan font-size="7.35" font-style="italic" x="6.3" y="1.9">sr</tspan></text>
<text transform="translate(679.7 90.3) rotate(-90)" font-size="10.5" font-family="DejaVu Sans, Liberation Sans, sans-serif"><tspan x="0" y="0">a</tspan><tspan font-size="7.35" font-style="italic" x="6.3" y="1.9">h</tspan></text>
<path d="M499.75 346.01 L592.68 374.9 M592.68 374.9 L642.6 326.44 M642.6 326.44 L646.29 239.08 M500.56 346.79 L501.97 345.64 M527.32 355.11 L528.7 353.94 M554.82 363.67 L556.16 362.46 M583.07 372.46 L584.38 371.22 M597.42 371.29 L595.1 370.57 M620.74 348.61 L618.47 347.94 M642.47 327.48 L640.26 326.86 M643.61 320.23 L641.39 319.61 M644.72 294.28 L642.46 293.68 M645.86 267.52 L643.57 266.94 M647.04 239.89 L644.71 239.33" fill="none" stroke="#000" stroke-width="0.8"/>
<text x="498.23" y="361.3" font-size="8.8" text-anchor="middle" font-family="DejaVu Sans, Liberation Sans, sans-serif">0.0</text>
<text x="524.98" y="369.62" font-size="8.8" text-anchor="middle" font-family="DejaVu Sans, Liberation Sans, sans-serif">0.2</text>
<text x="552.47" y="378.17" font-size="8.8" text-anchor="middle" font-family="DejaVu Sans, Liberation Sans, sans-serif">0.4</text>
<text x="580.71" y="386.95" font-size="8.8" text-anchor="middle" font-family="DejaVu Sans, Liberation Sans, sans-serif">0.6</text>
<text x="603.65" y="387.25" font-size="8.8" text-anchor="middle" font-family="DejaVu Sans, Liberation Sans, sans-serif">0.2</text>
<text x="626.99" y="364.59" font-size="8.8" text-anchor="middle" font-family="DejaVu Sans, Liberation Sans, sans-serif">0.3</text>
<text x="648.73" y="343.47" font-size="8.8" text-anchor="middle" font-family="DejaVu Sans, Liberation Sans, sans-serif">0.4</text>
<text x="661.27" y="324.42" font-size="8.8" text-anchor="middle" font-family="DejaVu Sans, Liberation Sans, sans-serif">0.03</text>
<text x="662.37" y="298.48" font-size="8.8" text-anchor="middle" font-family="DejaVu Sans, Liberation Sans, sans-serif">0.06</text>
<text x="663.5" y="271.72" font-size="8.8" text-anchor="middle" font-family="DejaVu Sans, Liberation Sans, sans-serif">0.09</text>
<text x="664.67" y="244.11" font-size="8.8" text-anchor="middle" font-family="DejaVu Sans, Liberation Sans, sans-serif">0.12</text>
<text transform="translate(525.3 389.7) rotate(17.3)" font-size="10.5" font-family="DejaVu Sans, Liberation Sans, sans-serif"><tspan x="0" y="0">a</tspan><tspan font-size="7.35" font-style="italic" x="6.3" y="1.9">sd</tspan></text>
<text transform="translate(639.05 384.5) rotate(-44.4)" font-size="10.5" font-family="DejaVu Sans, Liberation Sans, sans-serif"><tspan x="0" y="0">a</tspan><tspan font-size="7.35" font-style="italic" x="6.3" y="1.9">sr</tspan></text>
<text transform="translate(681.3 286.9) rotate(-90)" font-size="10.5" font-family="DejaVu Sans, Liberation Sans, sans-serif"><tspan x="0" y="0">a</tspan><tspan font-size="7.35" font-style="italic" x="6.3" y="1.9">h</tspan></text>
</svg>
</body></html>
